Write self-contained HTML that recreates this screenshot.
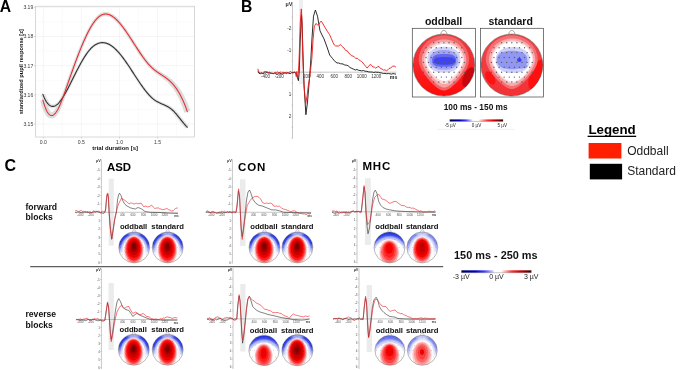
<!DOCTYPE html>
<html><head><meta charset="utf-8"><title>Figure</title>
<style>
html,body{margin:0;padding:0;background:#fff;}
body{width:685px;height:370px;overflow:hidden;}
svg{display:block;font-family:"Liberation Sans", sans-serif;will-change:transform;}
</style></head>
<body>
<svg width="685" height="370" viewBox="0 0 685 370">
<defs>
<linearGradient id="oddout" x1="0" x2="0" y1="0" y2="1"><stop offset="0" stop-color="#f03a3e"/><stop offset="0.45" stop-color="#f22a2e"/><stop offset="0.7" stop-color="#fc1616"/><stop offset="1" stop-color="#ff0c0c"/></linearGradient>
<linearGradient id="stdout" x1="0" x2="0" y1="0" y2="1"><stop offset="0" stop-color="#f04448"/><stop offset="0.5" stop-color="#f03c40"/><stop offset="1" stop-color="#f43034"/></linearGradient>
<clipPath id="hb1"><circle cx="443.90" cy="65.00" r="31.00"/></clipPath>
<clipPath id="hb2"><circle cx="511.80" cy="65.00" r="31.00"/></clipPath>
<linearGradient id="cb1" x1="0" x2="1" y1="0" y2="0"><stop offset="0" stop-color="#00004a"/><stop offset="0.18" stop-color="#0000b4"/><stop offset="0.3" stop-color="#3c3cff"/><stop offset="0.4" stop-color="#c8c8ff"/><stop offset="0.43" stop-color="#ffffff"/><stop offset="0.54" stop-color="#ffffff"/><stop offset="0.58" stop-color="#ffc8c8"/><stop offset="0.7" stop-color="#ff3c3c"/><stop offset="0.82" stop-color="#dc0000"/><stop offset="1" stop-color="#320000"/></linearGradient>
<filter id="bl" x="-20%" y="-20%" width="140%" height="140%"><feGaussianBlur stdDeviation="0.45"/></filter>
<filter id="bl2" x="-50%" y="-50%" width="200%" height="200%"><feGaussianBlur stdDeviation="1.6"/></filter>
<linearGradient id="fadeg" x1="0" x2="0" y1="0" y2="1"><stop offset="0" stop-color="#fff"/><stop offset="0.38" stop-color="#fff"/><stop offset="0.7" stop-color="#000"/></linearGradient>
<clipPath id="hc1"><circle cx="134.20" cy="247.40" r="15.50"/></clipPath>
<radialGradient id="bg1" gradientUnits="userSpaceOnUse" cx="134.20" cy="247.90" r="16.40"><stop offset="0.64" stop-color="#3040e0" stop-opacity="0"/><stop offset="0.73" stop-color="#9aa4f2" stop-opacity="0.7"/><stop offset="0.83" stop-color="#4252e8"/><stop offset="0.93" stop-color="#2232e0"/><stop offset="1" stop-color="#1a28d8"/></radialGradient>
<mask id="mk1" maskUnits="userSpaceOnUse" x="117.70" y="230.90" width="33.00" height="33.00"><rect x="117.70" y="230.90" width="33.00" height="33.00" fill="url(#fadeg)"/></mask>
<clipPath id="hc2"><circle cx="167.70" cy="247.40" r="15.50"/></clipPath>
<radialGradient id="bg2" gradientUnits="userSpaceOnUse" cx="167.70" cy="247.90" r="16.40"><stop offset="0.64" stop-color="#3040e0" stop-opacity="0"/><stop offset="0.73" stop-color="#9aa4f2" stop-opacity="0.7"/><stop offset="0.83" stop-color="#4252e8"/><stop offset="0.93" stop-color="#2232e0"/><stop offset="1" stop-color="#1a28d8"/></radialGradient>
<mask id="mk2" maskUnits="userSpaceOnUse" x="151.20" y="230.90" width="33.00" height="33.00"><rect x="151.20" y="230.90" width="33.00" height="33.00" fill="url(#fadeg)"/></mask>
<clipPath id="hc3"><circle cx="264.50" cy="247.40" r="15.50"/></clipPath>
<radialGradient id="bg3" gradientUnits="userSpaceOnUse" cx="264.50" cy="247.90" r="16.40"><stop offset="0.64" stop-color="#3040e0" stop-opacity="0"/><stop offset="0.73" stop-color="#9aa4f2" stop-opacity="0.7"/><stop offset="0.83" stop-color="#4252e8"/><stop offset="0.93" stop-color="#2232e0"/><stop offset="1" stop-color="#1a28d8"/></radialGradient>
<mask id="mk3" maskUnits="userSpaceOnUse" x="248.00" y="230.90" width="33.00" height="33.00"><rect x="248.00" y="230.90" width="33.00" height="33.00" fill="url(#fadeg)"/></mask>
<clipPath id="hc4"><circle cx="297.40" cy="247.40" r="15.50"/></clipPath>
<radialGradient id="bg4" gradientUnits="userSpaceOnUse" cx="297.40" cy="247.90" r="16.40"><stop offset="0.64" stop-color="#3040e0" stop-opacity="0"/><stop offset="0.73" stop-color="#9aa4f2" stop-opacity="0.7"/><stop offset="0.83" stop-color="#4252e8"/><stop offset="0.93" stop-color="#2232e0"/><stop offset="1" stop-color="#1a28d8"/></radialGradient>
<mask id="mk4" maskUnits="userSpaceOnUse" x="280.90" y="230.90" width="33.00" height="33.00"><rect x="280.90" y="230.90" width="33.00" height="33.00" fill="url(#fadeg)"/></mask>
<clipPath id="hc5"><circle cx="389.50" cy="247.40" r="15.50"/></clipPath>
<radialGradient id="bg5" gradientUnits="userSpaceOnUse" cx="389.50" cy="254.90" r="23.50"><stop offset="0.64" stop-color="#3040e0" stop-opacity="0"/><stop offset="0.73" stop-color="#9aa4f2" stop-opacity="0.7"/><stop offset="0.83" stop-color="#4252e8"/><stop offset="0.93" stop-color="#2232e0"/><stop offset="1" stop-color="#1a28d8"/></radialGradient>
<mask id="mk5" maskUnits="userSpaceOnUse" x="373.00" y="230.90" width="33.00" height="33.00"><rect x="373.00" y="230.90" width="33.00" height="33.00" fill="url(#fadeg)"/></mask>
<clipPath id="hc6"><circle cx="422.30" cy="247.40" r="15.50"/></clipPath>
<radialGradient id="bg6" gradientUnits="userSpaceOnUse" cx="422.30" cy="247.90" r="16.40"><stop offset="0.64" stop-color="#3040e0" stop-opacity="0"/><stop offset="0.73" stop-color="#9aa4f2" stop-opacity="0.7"/><stop offset="0.83" stop-color="#4252e8"/><stop offset="0.93" stop-color="#2232e0"/><stop offset="1" stop-color="#1a28d8"/></radialGradient>
<mask id="mk6" maskUnits="userSpaceOnUse" x="405.80" y="230.90" width="33.00" height="33.00"><rect x="405.80" y="230.90" width="33.00" height="33.00" fill="url(#fadeg)"/></mask>
<clipPath id="hc7"><circle cx="133.80" cy="349.70" r="15.50"/></clipPath>
<radialGradient id="bg7" gradientUnits="userSpaceOnUse" cx="133.80" cy="350.20" r="16.40"><stop offset="0.64" stop-color="#3040e0" stop-opacity="0"/><stop offset="0.73" stop-color="#9aa4f2" stop-opacity="0.7"/><stop offset="0.83" stop-color="#4252e8"/><stop offset="0.93" stop-color="#2232e0"/><stop offset="1" stop-color="#1a28d8"/></radialGradient>
<mask id="mk7" maskUnits="userSpaceOnUse" x="117.30" y="333.20" width="33.00" height="33.00"><rect x="117.30" y="333.20" width="33.00" height="33.00" fill="url(#fadeg)"/></mask>
<clipPath id="hc8"><circle cx="167.70" cy="349.70" r="15.50"/></clipPath>
<radialGradient id="bg8" gradientUnits="userSpaceOnUse" cx="167.70" cy="350.20" r="16.40"><stop offset="0.64" stop-color="#3040e0" stop-opacity="0"/><stop offset="0.73" stop-color="#9aa4f2" stop-opacity="0.7"/><stop offset="0.83" stop-color="#4252e8"/><stop offset="0.93" stop-color="#2232e0"/><stop offset="1" stop-color="#1a28d8"/></radialGradient>
<mask id="mk8" maskUnits="userSpaceOnUse" x="151.20" y="333.20" width="33.00" height="33.00"><rect x="151.20" y="333.20" width="33.00" height="33.00" fill="url(#fadeg)"/></mask>
<clipPath id="hc9"><circle cx="264.00" cy="350.40" r="15.20"/></clipPath>
<radialGradient id="bg9" gradientUnits="userSpaceOnUse" cx="264.00" cy="357.90" r="23.20"><stop offset="0.64" stop-color="#3040e0" stop-opacity="0"/><stop offset="0.73" stop-color="#9aa4f2" stop-opacity="0.7"/><stop offset="0.83" stop-color="#4252e8"/><stop offset="0.93" stop-color="#2232e0"/><stop offset="1" stop-color="#1a28d8"/></radialGradient>
<mask id="mk9" maskUnits="userSpaceOnUse" x="247.80" y="334.20" width="32.40" height="32.40"><rect x="247.80" y="334.20" width="32.40" height="32.40" fill="url(#fadeg)"/></mask>
<clipPath id="hc10"><circle cx="297.40" cy="350.20" r="15.60"/></clipPath>
<radialGradient id="bg10" gradientUnits="userSpaceOnUse" cx="297.40" cy="350.70" r="16.50"><stop offset="0.64" stop-color="#3040e0" stop-opacity="0"/><stop offset="0.73" stop-color="#9aa4f2" stop-opacity="0.7"/><stop offset="0.83" stop-color="#4252e8"/><stop offset="0.93" stop-color="#2232e0"/><stop offset="1" stop-color="#1a28d8"/></radialGradient>
<mask id="mk10" maskUnits="userSpaceOnUse" x="280.80" y="333.60" width="33.20" height="33.20"><rect x="280.80" y="333.60" width="33.20" height="33.20" fill="url(#fadeg)"/></mask>
<clipPath id="hc11"><circle cx="389.90" cy="350.30" r="15.00"/></clipPath>
<radialGradient id="bg11" gradientUnits="userSpaceOnUse" cx="389.90" cy="357.80" r="23.00"><stop offset="0.64" stop-color="#3040e0" stop-opacity="0"/><stop offset="0.73" stop-color="#9aa4f2" stop-opacity="0.7"/><stop offset="0.83" stop-color="#4252e8"/><stop offset="0.93" stop-color="#2232e0"/><stop offset="1" stop-color="#1a28d8"/></radialGradient>
<mask id="mk11" maskUnits="userSpaceOnUse" x="373.90" y="334.30" width="32.00" height="32.00"><rect x="373.90" y="334.30" width="32.00" height="32.00" fill="url(#fadeg)"/></mask>
<clipPath id="hc12"><circle cx="422.30" cy="350.30" r="15.00"/></clipPath>
<radialGradient id="bg12" gradientUnits="userSpaceOnUse" cx="422.30" cy="350.80" r="15.90"><stop offset="0.64" stop-color="#3040e0" stop-opacity="0"/><stop offset="0.73" stop-color="#9aa4f2" stop-opacity="0.7"/><stop offset="0.83" stop-color="#4252e8"/><stop offset="0.93" stop-color="#2232e0"/><stop offset="1" stop-color="#1a28d8"/></radialGradient>
<mask id="mk12" maskUnits="userSpaceOnUse" x="406.30" y="334.30" width="32.00" height="32.00"><rect x="406.30" y="334.30" width="32.00" height="32.00" fill="url(#fadeg)"/></mask>
<linearGradient id="cb2" x1="0" x2="1" y1="0" y2="0"><stop offset="0" stop-color="#00005a"/><stop offset="0.2" stop-color="#0000c8"/><stop offset="0.34" stop-color="#4a4aff"/><stop offset="0.45" stop-color="#c8c8ff"/><stop offset="0.47" stop-color="#ffffff"/><stop offset="0.57" stop-color="#ffffff"/><stop offset="0.6" stop-color="#ffd0d0"/><stop offset="0.72" stop-color="#ff3030"/><stop offset="0.84" stop-color="#d00000"/><stop offset="1" stop-color="#3c0000"/></linearGradient>
</defs>
<rect width="685" height="370" fill="#fff"/>
<text x="-0.20" y="11.70" font-size="15.70" font-weight="bold" text-anchor="start" fill="#000" >A</text>
<line x1="43.30" y1="6.30" x2="43.30" y2="137.00" stroke="#efefef" stroke-width="0.6"/>
<line x1="62.35" y1="6.30" x2="62.35" y2="137.00" stroke="#f6f6f6" stroke-width="0.6"/>
<line x1="81.40" y1="6.30" x2="81.40" y2="137.00" stroke="#efefef" stroke-width="0.6"/>
<line x1="100.45" y1="6.30" x2="100.45" y2="137.00" stroke="#f6f6f6" stroke-width="0.6"/>
<line x1="119.50" y1="6.30" x2="119.50" y2="137.00" stroke="#efefef" stroke-width="0.6"/>
<line x1="138.55" y1="6.30" x2="138.55" y2="137.00" stroke="#f6f6f6" stroke-width="0.6"/>
<line x1="157.60" y1="6.30" x2="157.60" y2="137.00" stroke="#efefef" stroke-width="0.6"/>
<line x1="176.65" y1="6.30" x2="176.65" y2="137.00" stroke="#f6f6f6" stroke-width="0.6"/>
<line x1="35.60" y1="7.30" x2="194.50" y2="7.30" stroke="#efefef" stroke-width="0.6"/>
<line x1="35.60" y1="21.90" x2="194.50" y2="21.90" stroke="#f6f6f6" stroke-width="0.6"/>
<line x1="35.60" y1="36.50" x2="194.50" y2="36.50" stroke="#efefef" stroke-width="0.6"/>
<line x1="35.60" y1="51.10" x2="194.50" y2="51.10" stroke="#f6f6f6" stroke-width="0.6"/>
<line x1="35.60" y1="65.70" x2="194.50" y2="65.70" stroke="#efefef" stroke-width="0.6"/>
<line x1="35.60" y1="80.30" x2="194.50" y2="80.30" stroke="#f6f6f6" stroke-width="0.6"/>
<line x1="35.60" y1="94.90" x2="194.50" y2="94.90" stroke="#efefef" stroke-width="0.6"/>
<line x1="35.60" y1="109.50" x2="194.50" y2="109.50" stroke="#f6f6f6" stroke-width="0.6"/>
<line x1="35.60" y1="124.10" x2="194.50" y2="124.10" stroke="#efefef" stroke-width="0.6"/>
<rect x="35.60" y="6.30" width="158.90" height="130.70" fill="none" stroke="#d4d4d4" stroke-width="0.9"/>
<line x1="34.00" y1="7.30" x2="35.60" y2="7.30" stroke="#bbb" stroke-width="0.6"/>
<text x="33.30" y="9.15" font-size="5.10" font-weight="normal" text-anchor="end" fill="#3a3a3a" >3.19</text>
<line x1="34.00" y1="36.50" x2="35.60" y2="36.50" stroke="#bbb" stroke-width="0.6"/>
<text x="33.30" y="38.35" font-size="5.10" font-weight="normal" text-anchor="end" fill="#3a3a3a" >3.18</text>
<line x1="34.00" y1="65.70" x2="35.60" y2="65.70" stroke="#bbb" stroke-width="0.6"/>
<text x="33.30" y="67.55" font-size="5.10" font-weight="normal" text-anchor="end" fill="#3a3a3a" >3.17</text>
<line x1="34.00" y1="94.90" x2="35.60" y2="94.90" stroke="#bbb" stroke-width="0.6"/>
<text x="33.30" y="96.75" font-size="5.10" font-weight="normal" text-anchor="end" fill="#3a3a3a" >3.16</text>
<line x1="34.00" y1="124.10" x2="35.60" y2="124.10" stroke="#bbb" stroke-width="0.6"/>
<text x="33.30" y="125.95" font-size="5.10" font-weight="normal" text-anchor="end" fill="#3a3a3a" >3.15</text>
<line x1="43.30" y1="137.00" x2="43.30" y2="138.60" stroke="#bbb" stroke-width="0.6"/>
<text x="43.30" y="143.80" font-size="5.10" font-weight="normal" text-anchor="middle" fill="#3a3a3a" >0.0</text>
<line x1="81.40" y1="137.00" x2="81.40" y2="138.60" stroke="#bbb" stroke-width="0.6"/>
<text x="81.40" y="143.80" font-size="5.10" font-weight="normal" text-anchor="middle" fill="#3a3a3a" >0.5</text>
<line x1="119.50" y1="137.00" x2="119.50" y2="138.60" stroke="#bbb" stroke-width="0.6"/>
<text x="119.50" y="143.80" font-size="5.10" font-weight="normal" text-anchor="middle" fill="#3a3a3a" >1.0</text>
<line x1="157.60" y1="137.00" x2="157.60" y2="138.60" stroke="#bbb" stroke-width="0.6"/>
<text x="157.60" y="143.80" font-size="5.10" font-weight="normal" text-anchor="middle" fill="#3a3a3a" >1.5</text>
<text x="115.20" y="149.50" font-size="6.00" font-weight="bold" text-anchor="middle" fill="#111" >trial duration [s]</text>
<text x="0" y="0" font-size="5.7" font-weight="bold" text-anchor="middle" fill="#111" transform="translate(23.0,71.7) rotate(-90)">standardized pupil response [z]</text>
<path d="M40.20,100.77 L40.69,102.61 L41.19,104.36 L41.69,105.99 L42.19,107.52 L42.70,108.93 L43.21,110.25 L43.74,111.46 L44.28,112.58 L44.84,113.61 L45.42,114.56 L46.04,115.42 L46.70,116.21 L47.42,116.92 L48.21,117.54 L49.12,118.01 L50.10,118.34 L51.13,118.49 L52.16,118.46 L53.15,118.25 L54.06,117.90 L54.88,117.44 L55.62,116.89 L56.30,116.27 L56.93,115.60 L57.52,114.87 L58.08,114.08 L58.62,113.24 L59.13,112.34 L59.63,111.40 L60.11,110.40 L60.60,109.36 L61.07,108.28 L61.55,107.15 L62.02,105.98 L62.48,104.77 L62.95,103.52 L63.41,102.24 L63.87,100.93 L64.33,99.60 L64.78,98.23 L65.24,96.85 L65.70,95.45 L66.15,94.03 L66.61,92.59 L67.06,91.15 L67.51,89.70 L68.00,88.26 L68.50,86.82 L69.00,85.38 L69.50,83.95 L70.00,82.51 L70.49,81.08 L70.99,79.65 L71.49,78.23 L71.99,76.80 L72.48,75.39 L72.98,73.98 L73.48,72.57 L73.98,71.17 L74.47,69.77 L74.97,68.39 L75.47,67.00 L75.96,65.63 L76.46,64.27 L76.96,62.91 L77.45,61.56 L77.95,60.23 L78.45,58.90 L78.94,57.58 L79.44,56.28 L79.94,54.98 L80.43,53.70 L80.93,52.43 L81.43,51.17 L81.92,49.93 L82.42,48.70 L82.91,47.49 L83.41,46.29 L83.90,45.10 L84.40,43.93 L84.89,42.78 L85.39,41.65 L85.88,40.53 L86.38,39.43 L86.87,38.35 L87.36,37.28 L87.86,36.24 L88.35,35.22 L88.84,34.21 L89.33,33.23 L89.83,32.27 L90.32,31.33 L90.81,30.41 L91.30,29.52 L91.80,28.66 L92.30,27.82 L92.81,27.01 L93.31,26.22 L93.81,25.46 L94.31,24.73 L94.81,24.02 L95.31,23.34 L95.80,22.69 L96.29,22.07 L96.78,21.48 L97.27,20.91 L97.75,20.38 L98.23,19.88 L98.71,19.41 L99.18,18.98 L99.65,18.57 L100.11,18.20 L100.56,17.86 L101.00,17.56 L101.44,17.29 L101.87,17.05 L102.29,16.84 L102.71,16.67 L103.11,16.52 L103.51,16.39 L103.91,16.30 L104.30,16.23 L104.69,16.18 L105.07,16.15 L105.46,16.13 L105.84,16.12 L106.23,16.13 L106.62,16.16 L107.02,16.22 L107.42,16.29 L107.83,16.39 L108.25,16.51 L108.67,16.65 L109.10,16.82 L109.54,17.01 L109.98,17.22 L110.42,17.45 L110.87,17.71 L111.33,17.99 L111.79,18.29 L112.25,18.61 L112.72,18.95 L113.19,19.31 L113.66,19.70 L114.14,20.10 L114.62,20.53 L115.10,20.97 L115.59,21.43 L116.07,21.91 L116.56,22.40 L117.05,22.91 L117.54,23.44 L118.03,23.99 L118.53,24.55 L119.02,25.12 L119.52,25.71 L120.01,26.31 L120.51,26.93 L121.01,27.55 L121.51,28.19 L122.01,28.84 L122.51,29.51 L123.01,30.18 L123.51,30.86 L124.01,31.56 L124.50,32.27 L125.00,32.98 L125.49,33.71 L125.98,34.44 L126.48,35.17 L126.97,35.92 L127.47,36.67 L127.96,37.42 L128.46,38.18 L128.96,38.95 L129.45,39.72 L129.95,40.49 L130.45,41.26 L130.95,42.04 L131.44,42.82 L131.94,43.60 L132.44,44.38 L132.94,45.16 L133.44,45.94 L133.94,46.72 L134.43,47.50 L134.93,48.28 L135.43,49.06 L135.93,49.83 L136.43,50.60 L136.94,51.37 L137.44,52.13 L137.94,52.89 L138.44,53.64 L138.94,54.39 L139.44,55.13 L139.95,55.87 L140.45,56.59 L140.95,57.32 L141.46,58.03 L141.96,58.74 L142.47,59.43 L142.97,60.12 L143.48,60.80 L143.99,61.47 L144.50,62.12 L145.00,62.77 L145.51,63.40 L146.02,64.03 L146.54,64.64 L147.05,65.23 L147.56,65.82 L148.08,66.39 L148.59,66.94 L149.10,67.49 L149.61,68.03 L150.12,68.55 L150.63,69.06 L151.14,69.55 L151.65,70.02 L152.16,70.48 L152.67,70.93 L153.18,71.36 L153.69,71.79 L154.20,72.20 L154.71,72.60 L155.21,73.00 L155.72,73.38 L156.22,73.76 L156.73,74.13 L157.23,74.49 L157.73,74.85 L158.23,75.21 L158.72,75.56 L159.22,75.90 L159.71,76.25 L160.20,76.59 L160.69,76.93 L161.17,77.28 L161.66,77.62 L162.14,77.96 L162.62,78.31 L163.10,78.66 L163.57,79.02 L164.04,79.38 L164.51,79.74 L164.98,80.12 L165.45,80.50 L165.91,80.89 L166.38,81.28 L166.84,81.69 L167.30,82.11 L167.76,82.53 L168.21,82.97 L168.67,83.43 L169.13,83.89 L169.58,84.38 L170.04,84.87 L170.49,85.38 L170.95,85.91 L171.40,86.46 L171.86,87.03 L172.32,87.62 L172.77,88.23 L173.23,88.86 L173.68,89.51 L174.14,90.19 L174.60,90.89 L175.06,91.62 L175.51,92.37 L175.97,93.15 L176.43,93.96 L176.89,94.80 L177.36,95.67 L177.82,96.56 L178.28,97.50 L178.74,98.46 L179.21,99.45 L179.67,100.49 L180.14,101.55 L180.61,102.65 L181.07,103.79 L181.54,104.97 L182.01,106.18 L182.48,107.44 L182.95,108.73 L183.42,110.06 L183.89,111.44 L184.38,112.87 L190.42,110.77 L189.91,109.32 L189.38,107.90 L188.85,106.52 L188.32,105.18 L187.79,103.88 L187.26,102.62 L186.73,101.40 L186.19,100.21 L185.66,99.06 L185.13,97.94 L184.59,96.86 L184.06,95.82 L183.52,94.80 L182.98,93.82 L182.44,92.87 L181.91,91.95 L181.37,91.06 L180.83,90.20 L180.29,89.36 L179.74,88.56 L179.20,87.78 L178.66,87.03 L178.12,86.30 L177.57,85.60 L177.03,84.92 L176.48,84.26 L175.94,83.63 L175.40,83.02 L174.85,82.43 L174.31,81.86 L173.76,81.31 L173.22,80.78 L172.67,80.27 L172.13,79.77 L171.59,79.29 L171.04,78.83 L170.50,78.39 L169.96,77.95 L169.42,77.54 L168.89,77.13 L168.35,76.74 L167.82,76.35 L167.29,75.98 L166.76,75.62 L166.23,75.27 L165.70,74.92 L165.18,74.58 L164.66,74.24 L164.14,73.92 L163.63,73.59 L163.11,73.27 L162.60,72.95 L162.09,72.64 L161.58,72.32 L161.08,72.01 L160.57,71.69 L160.07,71.37 L159.57,71.06 L159.07,70.73 L158.58,70.41 L158.08,70.08 L157.59,69.74 L157.09,69.40 L156.60,69.05 L156.11,68.69 L155.62,68.33 L155.13,67.95 L154.64,67.56 L154.15,67.16 L153.66,66.75 L153.17,66.33 L152.68,65.89 L152.19,65.43 L151.70,64.96 L151.21,64.47 L150.72,63.95 L150.24,63.42 L149.75,62.88 L149.26,62.31 L148.78,61.74 L148.29,61.14 L147.80,60.54 L147.30,59.92 L146.81,59.29 L146.32,58.65 L145.83,58.00 L145.33,57.33 L144.84,56.66 L144.34,55.97 L143.85,55.28 L143.35,54.57 L142.85,53.86 L142.36,53.14 L141.86,52.41 L141.36,51.68 L140.86,50.94 L140.36,50.19 L139.86,49.44 L139.37,48.68 L138.87,47.92 L138.37,47.15 L137.87,46.38 L137.37,45.61 L136.86,44.84 L136.36,44.06 L135.86,43.28 L135.36,42.51 L134.86,41.73 L134.36,40.95 L133.85,40.17 L133.35,39.39 L132.85,38.62 L132.35,37.84 L131.84,37.07 L131.34,36.30 L130.84,35.54 L130.33,34.78 L129.83,34.02 L129.32,33.27 L128.82,32.52 L128.31,31.78 L127.80,31.05 L127.30,30.32 L126.79,29.60 L126.29,28.88 L125.79,28.17 L125.29,27.47 L124.79,26.78 L124.29,26.09 L123.79,25.42 L123.29,24.76 L122.79,24.10 L122.28,23.46 L121.78,22.83 L121.27,22.21 L120.77,21.61 L120.26,21.02 L119.75,20.44 L119.24,19.87 L118.73,19.32 L118.21,18.79 L117.70,18.27 L117.18,17.77 L116.66,17.28 L116.14,16.81 L115.61,16.36 L115.08,15.92 L114.55,15.50 L114.01,15.10 L113.47,14.73 L112.93,14.37 L112.38,14.03 L111.82,13.71 L111.26,13.42 L110.70,13.15 L110.13,12.90 L109.55,12.68 L108.97,12.49 L108.38,12.32 L107.78,12.18 L107.18,12.07 L106.57,12.00 L105.96,11.95 L105.34,11.94 L104.73,11.97 L104.11,12.06 L103.50,12.18 L102.89,12.33 L102.29,12.52 L101.69,12.75 L101.09,13.01 L100.51,13.31 L99.93,13.64 L99.36,14.00 L98.80,14.39 L98.24,14.82 L97.69,15.27 L97.15,15.76 L96.62,16.27 L96.09,16.81 L95.57,17.38 L95.05,17.97 L94.53,18.59 L94.02,19.24 L93.51,19.91 L93.00,20.61 L92.49,21.33 L91.99,22.08 L91.49,22.85 L90.99,23.64 L90.49,24.46 L89.99,25.30 L89.50,26.17 L89.00,27.05 L88.50,27.96 L87.99,28.88 L87.48,29.83 L86.97,30.79 L86.47,31.77 L85.96,32.78 L85.45,33.80 L84.94,34.85 L84.44,35.91 L83.93,36.99 L83.42,38.09 L82.92,39.20 L82.41,40.34 L81.91,41.49 L81.40,42.65 L80.90,43.83 L80.39,45.03 L79.89,46.24 L79.38,47.47 L78.88,48.71 L78.37,49.96 L77.87,51.22 L77.37,52.50 L76.86,53.79 L76.36,55.09 L75.86,56.41 L75.35,57.73 L74.85,59.06 L74.35,60.41 L73.84,61.76 L73.34,63.12 L72.84,64.49 L72.33,65.87 L71.83,67.25 L71.33,68.64 L70.82,70.04 L70.32,71.45 L69.82,72.85 L69.32,74.27 L68.81,75.69 L68.31,77.11 L67.81,78.54 L67.31,79.97 L66.80,81.40 L66.30,82.83 L65.80,84.27 L65.30,85.70 L64.80,87.14 L64.29,88.57 L63.74,89.98 L63.19,91.39 L62.65,92.78 L62.10,94.15 L61.56,95.50 L61.02,96.83 L60.47,98.14 L59.93,99.41 L59.39,100.65 L58.85,101.85 L58.32,103.01 L57.78,104.12 L57.25,105.19 L56.73,106.20 L56.20,107.15 L55.69,108.04 L55.17,108.87 L54.67,109.62 L54.18,110.29 L53.72,110.89 L53.28,111.40 L52.87,111.82 L52.50,112.14 L52.18,112.37 L51.92,112.51 L51.74,112.56 L51.65,112.56 L51.64,112.53 L51.67,112.50 L51.70,112.47 L51.68,112.43 L51.59,112.35 L51.38,112.22 L51.10,111.99 L50.76,111.63 L50.38,111.15 L49.96,110.53 L49.52,109.79 L49.06,108.93 L48.59,107.93 L48.10,106.81 L47.61,105.56 L47.11,104.19 L46.61,102.69 L46.11,101.06 L45.60,99.28 Z" fill="#d6d6d6" opacity="0.85"/>
<path d="M40.76,95.22 L41.28,96.51 L41.82,97.75 L42.37,98.92 L42.91,100.01 L43.46,101.02 L44.02,101.97 L44.58,102.85 L45.15,103.67 L45.73,104.42 L46.32,105.10 L46.92,105.73 L47.54,106.29 L48.17,106.78 L48.82,107.21 L49.48,107.57 L50.17,107.87 L50.86,108.09 L51.57,108.23 L52.28,108.29 L52.98,108.28 L53.67,108.19 L54.34,108.04 L55.00,107.83 L55.63,107.56 L56.24,107.24 L56.83,106.87 L57.41,106.46 L57.97,106.01 L58.52,105.53 L59.06,105.00 L59.59,104.45 L60.12,103.86 L60.64,103.24 L61.15,102.59 L61.67,101.92 L62.18,101.22 L62.70,100.49 L63.21,99.74 L63.72,98.96 L64.23,98.16 L64.73,97.34 L65.24,96.49 L65.74,95.63 L66.25,94.74 L66.75,93.84 L67.25,92.93 L67.75,91.99 L68.25,91.05 L68.75,90.09 L69.25,89.13 L69.75,88.15 L70.25,87.17 L70.74,86.17 L71.24,85.18 L71.74,84.18 L72.23,83.18 L72.73,82.17 L73.22,81.17 L73.72,80.17 L74.22,79.16 L74.71,78.16 L75.21,77.16 L75.70,76.17 L76.20,75.17 L76.69,74.18 L77.18,73.20 L77.68,72.22 L78.17,71.25 L78.67,70.28 L79.16,69.32 L79.65,68.37 L80.15,67.43 L80.64,66.50 L81.13,65.58 L81.63,64.67 L82.12,63.77 L82.62,62.89 L83.11,62.02 L83.61,61.16 L84.10,60.32 L84.60,59.50 L85.09,58.68 L85.59,57.89 L86.08,57.12 L86.57,56.36 L87.06,55.62 L87.55,54.90 L88.04,54.20 L88.53,53.52 L89.02,52.87 L89.50,52.23 L89.99,51.63 L90.47,51.04 L90.95,50.48 L91.43,49.94 L91.91,49.43 L92.39,48.95 L92.86,48.49 L93.33,48.06 L93.80,47.65 L94.27,47.26 L94.74,46.90 L95.21,46.56 L95.67,46.24 L96.13,45.95 L96.59,45.68 L97.05,45.43 L97.50,45.21 L97.95,45.00 L98.40,44.82 L98.85,44.65 L99.30,44.51 L99.75,44.39 L100.19,44.28 L100.63,44.20 L101.08,44.13 L101.52,44.09 L101.96,44.06 L102.40,44.05 L102.85,44.06 L103.29,44.08 L103.73,44.13 L104.18,44.19 L104.63,44.27 L105.08,44.37 L105.53,44.48 L105.98,44.62 L106.43,44.77 L106.89,44.94 L107.35,45.13 L107.81,45.33 L108.27,45.56 L108.74,45.80 L109.20,46.06 L109.67,46.33 L110.14,46.63 L110.61,46.94 L111.09,47.27 L111.56,47.61 L112.04,47.98 L112.52,48.36 L113.00,48.76 L113.48,49.17 L113.96,49.60 L114.44,50.05 L114.92,50.51 L115.41,50.99 L115.89,51.49 L116.38,52.00 L116.87,52.53 L117.35,53.07 L117.84,53.63 L118.33,54.20 L118.82,54.78 L119.31,55.38 L119.80,55.99 L120.29,56.61 L120.78,57.25 L121.28,57.89 L121.77,58.55 L122.26,59.22 L122.75,59.89 L123.25,60.58 L123.74,61.27 L124.23,61.98 L124.73,62.69 L125.22,63.41 L125.72,64.13 L126.21,64.86 L126.71,65.60 L127.20,66.34 L127.70,67.09 L128.19,67.84 L128.69,68.60 L129.19,69.36 L129.68,70.12 L130.18,70.88 L130.68,71.65 L131.17,72.42 L131.67,73.19 L132.17,73.96 L132.67,74.74 L133.17,75.51 L133.66,76.28 L134.16,77.05 L134.66,77.82 L135.16,78.58 L135.66,79.35 L136.16,80.11 L136.66,80.87 L137.16,81.62 L137.66,82.37 L138.16,83.12 L138.66,83.86 L139.16,84.60 L139.66,85.33 L140.17,86.05 L140.67,86.76 L141.17,87.47 L141.68,88.17 L142.18,88.87 L142.68,89.55 L143.19,90.22 L143.69,90.89 L144.20,91.54 L144.70,92.19 L145.21,92.82 L145.72,93.45 L146.23,94.06 L146.74,94.66 L147.25,95.24 L147.76,95.81 L148.27,96.37 L148.78,96.92 L149.30,97.45 L149.81,97.97 L150.33,98.47 L150.85,98.95 L151.37,99.42 L151.89,99.88 L152.42,100.31 L152.94,100.73 L153.47,101.13 L154.00,101.51 L154.53,101.87 L155.06,102.21 L155.58,102.54 L156.11,102.85 L156.63,103.15 L157.16,103.44 L157.68,103.71 L158.19,103.97 L158.71,104.23 L159.22,104.47 L159.73,104.72 L160.24,104.96 L160.74,105.19 L161.24,105.42 L161.74,105.65 L162.23,105.88 L162.72,106.11 L163.21,106.34 L163.70,106.57 L164.18,106.80 L164.66,107.04 L165.13,107.28 L165.61,107.53 L166.08,107.79 L166.55,108.06 L167.01,108.33 L167.48,108.62 L167.94,108.91 L168.40,109.23 L168.86,109.55 L169.32,109.89 L169.78,110.25 L170.24,110.62 L170.69,111.01 L171.15,111.43 L171.61,111.86 L172.07,112.32 L172.54,112.80 L173.00,113.31 L173.48,113.83 L173.95,114.37 L174.43,114.93 L174.90,115.50 L175.38,116.09 L175.87,116.69 L176.35,117.30 L176.83,117.92 L177.32,118.54 L177.81,119.17 L178.30,119.81 L178.79,120.45 L179.28,121.09 L179.77,121.73 L180.27,122.37 L180.77,123.01 L181.26,123.64 L181.76,124.27 L182.27,124.89 L182.77,125.51 L183.28,126.11 L183.79,126.70 L184.30,127.29 L184.82,127.85 L185.33,128.40 L185.74,128.82 L188.86,125.71 L188.47,125.32 L187.98,124.84 L187.50,124.34 L187.01,123.82 L186.52,123.28 L186.03,122.72 L185.53,122.16 L185.04,121.57 L184.54,120.98 L184.03,120.38 L183.53,119.77 L183.03,119.15 L182.52,118.53 L182.01,117.90 L181.50,117.28 L180.99,116.65 L180.48,116.02 L179.97,115.40 L179.45,114.78 L178.93,114.16 L178.42,113.56 L177.90,112.96 L177.37,112.37 L176.85,111.79 L176.32,111.22 L175.80,110.67 L175.26,110.13 L174.73,109.61 L174.19,109.11 L173.65,108.63 L173.11,108.17 L172.56,107.74 L172.02,107.32 L171.48,106.93 L170.94,106.56 L170.40,106.21 L169.86,105.87 L169.32,105.56 L168.79,105.25 L168.25,104.97 L167.72,104.69 L167.19,104.43 L166.67,104.18 L166.14,103.94 L165.62,103.70 L165.10,103.48 L164.59,103.26 L164.08,103.04 L163.57,102.83 L163.06,102.62 L162.56,102.42 L162.06,102.21 L161.56,102.00 L161.07,101.79 L160.58,101.57 L160.09,101.35 L159.61,101.11 L159.12,100.88 L158.64,100.63 L158.17,100.37 L157.69,100.11 L157.22,99.83 L156.74,99.54 L156.27,99.24 L155.80,98.92 L155.33,98.59 L154.86,98.24 L154.38,97.87 L153.91,97.48 L153.43,97.07 L152.95,96.65 L152.47,96.21 L151.99,95.74 L151.50,95.27 L151.02,94.77 L150.53,94.26 L150.04,93.74 L149.55,93.20 L149.06,92.64 L148.57,92.07 L148.08,91.49 L147.59,90.89 L147.10,90.28 L146.60,89.66 L146.11,89.03 L145.61,88.39 L145.12,87.73 L144.62,87.07 L144.12,86.39 L143.63,85.71 L143.13,85.02 L142.63,84.32 L142.14,83.61 L141.64,82.89 L141.14,82.17 L140.64,81.44 L140.14,80.71 L139.64,79.97 L139.14,79.22 L138.64,78.47 L138.14,77.72 L137.64,76.96 L137.14,76.20 L136.64,75.44 L136.14,74.67 L135.63,73.90 L135.13,73.14 L134.63,72.37 L134.13,71.60 L133.63,70.83 L133.12,70.06 L132.62,69.29 L132.12,68.53 L131.61,67.76 L131.11,67.00 L130.61,66.24 L130.10,65.49 L129.60,64.74 L129.09,63.99 L128.59,63.25 L128.08,62.51 L127.58,61.78 L127.07,61.05 L126.57,60.34 L126.06,59.62 L125.55,58.92 L125.05,58.22 L124.54,57.53 L124.03,56.86 L123.52,56.19 L123.02,55.53 L122.51,54.88 L122.00,54.24 L121.49,53.61 L120.98,52.99 L120.47,52.38 L119.96,51.79 L119.45,51.21 L118.93,50.64 L118.42,50.09 L117.91,49.55 L117.39,49.02 L116.88,48.51 L116.36,48.01 L115.84,47.53 L115.32,47.07 L114.80,46.62 L114.28,46.19 L113.76,45.77 L113.24,45.37 L112.71,44.99 L112.19,44.62 L111.66,44.27 L111.13,43.94 L110.60,43.63 L110.06,43.33 L109.53,43.05 L108.99,42.79 L108.45,42.55 L107.91,42.33 L107.37,42.13 L106.82,41.95 L106.27,41.78 L105.72,41.64 L105.17,41.52 L104.62,41.42 L104.07,41.35 L103.51,41.29 L102.95,41.26 L102.40,41.25 L101.84,41.26 L101.28,41.30 L100.72,41.36 L100.17,41.44 L99.61,41.54 L99.05,41.67 L98.50,41.83 L97.95,42.00 L97.40,42.20 L96.85,42.43 L96.30,42.68 L95.75,42.95 L95.21,43.24 L94.67,43.56 L94.13,43.90 L93.59,44.27 L93.06,44.66 L92.53,45.07 L92.00,45.51 L91.47,45.97 L90.94,46.45 L90.41,46.96 L89.89,47.50 L89.37,48.05 L88.85,48.63 L88.33,49.24 L87.81,49.86 L87.30,50.51 L86.78,51.18 L86.27,51.87 L85.76,52.58 L85.25,53.31 L84.74,54.05 L84.23,54.82 L83.72,55.60 L83.21,56.40 L82.71,57.22 L82.20,58.05 L81.70,58.89 L81.19,59.75 L80.69,60.63 L80.18,61.51 L79.68,62.41 L79.17,63.32 L78.67,64.24 L78.16,65.17 L77.65,66.11 L77.15,67.05 L76.64,68.01 L76.13,68.97 L75.63,69.94 L75.12,70.91 L74.62,71.89 L74.11,72.88 L73.60,73.87 L73.10,74.86 L72.59,75.85 L72.09,76.85 L71.58,77.85 L71.08,78.85 L70.58,79.85 L70.07,80.85 L69.57,81.84 L69.06,82.84 L68.56,83.83 L68.06,84.81 L67.55,85.79 L67.05,86.76 L66.55,87.72 L66.05,88.67 L65.55,89.61 L65.05,90.54 L64.55,91.44 L64.05,92.34 L63.55,93.21 L63.06,94.06 L62.56,94.89 L62.07,95.70 L61.57,96.48 L61.08,97.24 L60.59,97.97 L60.10,98.67 L59.62,99.34 L59.13,99.98 L58.65,100.58 L58.16,101.13 L57.68,101.65 L57.21,102.13 L56.74,102.57 L56.28,102.96 L55.83,103.31 L55.39,103.62 L54.97,103.88 L54.56,104.09 L54.17,104.26 L53.80,104.38 L53.46,104.46 L53.13,104.51 L52.82,104.52 L52.52,104.49 L52.23,104.44 L51.94,104.35 L51.63,104.22 L51.32,104.06 L50.98,103.84 L50.63,103.56 L50.26,103.23 L49.88,102.83 L49.48,102.37 L49.07,101.83 L48.65,101.22 L48.22,100.54 L47.78,99.78 L47.34,98.94 L46.89,98.03 L46.43,97.03 L45.98,95.96 L45.52,94.80 L45.04,93.54 Z" fill="#dedede" opacity="0.85"/>
<path d="M42.90,94.38 L43.40,95.66 L43.90,96.86 L44.40,97.98 L44.90,99.02 L45.40,99.98 L45.90,100.88 L46.40,101.70 L46.90,102.45 L47.40,103.13 L47.90,103.74 L48.40,104.28 L48.90,104.76 L49.40,105.17 L49.90,105.52 L50.40,105.81 L50.90,106.05 L51.40,106.22 L51.90,106.33 L52.40,106.39 L52.90,106.40 L53.40,106.35 L53.90,106.25 L54.40,106.10 L54.90,105.91 L55.40,105.66 L55.90,105.37 L56.40,105.04 L56.90,104.66 L57.40,104.24 L57.90,103.79 L58.40,103.29 L58.90,102.76 L59.40,102.19 L59.90,101.58 L60.40,100.95 L60.90,100.28 L61.40,99.58 L61.90,98.85 L62.40,98.10 L62.90,97.32 L63.40,96.52 L63.90,95.69 L64.40,94.84 L64.90,93.98 L65.40,93.09 L65.90,92.19 L66.40,91.27 L66.90,90.33 L67.40,89.38 L67.90,88.43 L68.40,87.46 L68.90,86.48 L69.40,85.49 L69.90,84.50 L70.40,83.51 L70.90,82.51 L71.40,81.51 L71.90,80.51 L72.40,79.51 L72.90,78.51 L73.40,77.51 L73.90,76.51 L74.40,75.51 L74.90,74.52 L75.40,73.53 L75.90,72.55 L76.40,71.57 L76.90,70.59 L77.40,69.62 L77.90,68.66 L78.40,67.71 L78.90,66.77 L79.40,65.83 L79.90,64.91 L80.40,64.00 L80.90,63.09 L81.40,62.20 L81.90,61.32 L82.40,60.46 L82.90,59.61 L83.40,58.77 L83.90,57.95 L84.40,57.15 L84.90,56.36 L85.40,55.59 L85.90,54.84 L86.40,54.10 L86.90,53.39 L87.40,52.70 L87.90,52.02 L88.40,51.37 L88.90,50.74 L89.40,50.14 L89.90,49.56 L90.40,49.00 L90.90,48.47 L91.40,47.96 L91.90,47.47 L92.40,47.01 L92.90,46.58 L93.40,46.17 L93.90,45.78 L94.40,45.41 L94.90,45.07 L95.40,44.76 L95.90,44.46 L96.40,44.19 L96.90,43.94 L97.40,43.71 L97.90,43.51 L98.40,43.33 L98.90,43.17 L99.40,43.03 L99.90,42.91 L100.40,42.82 L100.90,42.74 L101.40,42.69 L101.90,42.66 L102.40,42.65 L102.90,42.66 L103.40,42.69 L103.90,42.74 L104.40,42.81 L104.90,42.90 L105.40,43.01 L105.90,43.13 L106.40,43.28 L106.90,43.45 L107.40,43.63 L107.90,43.84 L108.40,44.06 L108.90,44.30 L109.40,44.56 L109.90,44.84 L110.40,45.14 L110.90,45.45 L111.40,45.78 L111.90,46.13 L112.40,46.49 L112.90,46.87 L113.40,47.27 L113.90,47.69 L114.40,48.12 L114.90,48.57 L115.40,49.03 L115.90,49.51 L116.40,50.01 L116.90,50.52 L117.40,51.04 L117.90,51.58 L118.40,52.14 L118.90,52.71 L119.40,53.29 L119.90,53.89 L120.40,54.49 L120.90,55.11 L121.40,55.74 L121.90,56.39 L122.40,57.04 L122.90,57.70 L123.40,58.38 L123.90,59.06 L124.40,59.75 L124.90,60.45 L125.40,61.16 L125.90,61.87 L126.40,62.59 L126.90,63.32 L127.40,64.05 L127.90,64.79 L128.40,65.54 L128.90,66.29 L129.40,67.04 L129.90,67.80 L130.40,68.56 L130.90,69.32 L131.40,70.09 L131.90,70.86 L132.40,71.62 L132.90,72.39 L133.40,73.17 L133.90,73.94 L134.40,74.71 L134.90,75.47 L135.40,76.24 L135.90,77.01 L136.40,77.77 L136.90,78.53 L137.40,79.29 L137.90,80.04 L138.40,80.79 L138.90,81.54 L139.40,82.28 L139.90,83.02 L140.40,83.74 L140.90,84.47 L141.40,85.18 L141.90,85.89 L142.40,86.59 L142.90,87.28 L143.40,87.97 L143.90,88.64 L144.40,89.30 L144.90,89.96 L145.40,90.60 L145.90,91.24 L146.40,91.86 L146.90,92.47 L147.40,93.06 L147.90,93.65 L148.40,94.22 L148.90,94.78 L149.40,95.32 L149.90,95.85 L150.40,96.36 L150.90,96.86 L151.40,97.34 L151.90,97.80 L152.40,98.25 L152.90,98.68 L153.40,99.09 L153.90,99.48 L154.40,99.86 L154.90,100.22 L155.40,100.56 L155.90,100.88 L156.40,101.19 L156.90,101.48 L157.40,101.76 L157.90,102.03 L158.40,102.29 L158.90,102.54 L159.40,102.79 L159.90,103.02 L160.40,103.25 L160.90,103.48 L161.40,103.70 L161.90,103.92 L162.40,104.14 L162.90,104.36 L163.40,104.58 L163.90,104.80 L164.40,105.02 L164.90,105.25 L165.40,105.49 L165.90,105.73 L166.40,105.98 L166.90,106.24 L167.40,106.51 L167.90,106.79 L168.40,107.09 L168.90,107.39 L169.40,107.72 L169.90,108.05 L170.40,108.41 L170.90,108.78 L171.40,109.18 L171.90,109.59 L172.40,110.03 L172.90,110.49 L173.40,110.97 L173.90,111.47 L174.40,111.99 L174.90,112.53 L175.40,113.08 L175.90,113.65 L176.40,114.23 L176.90,114.82 L177.40,115.43 L177.90,116.04 L178.40,116.66 L178.90,117.28 L179.40,117.91 L179.90,118.54 L180.40,119.18 L180.90,119.81 L181.40,120.44 L181.90,121.07 L182.40,121.69 L182.90,122.31 L183.40,122.92 L183.90,123.52 L184.40,124.12 L184.90,124.70 L185.40,125.26 L185.90,125.81 L186.40,126.35 L186.90,126.86 L187.30,127.26" fill="none" stroke="#2e2e2e" stroke-width="1.1" stroke-linecap="round" stroke-linejoin="round"/>
<path d="M42.90,100.03 L43.40,101.84 L43.90,103.53 L44.40,105.09 L44.90,106.54 L45.40,107.87 L45.90,109.09 L46.40,110.19 L46.90,111.19 L47.40,112.07 L47.90,112.85 L48.40,113.53 L48.90,114.10 L49.40,114.57 L49.90,114.94 L50.40,115.22 L50.90,115.40 L51.40,115.49 L51.90,115.49 L52.40,115.41 L52.90,115.23 L53.40,114.97 L53.90,114.63 L54.40,114.21 L54.90,113.71 L55.40,113.13 L55.90,112.49 L56.40,111.77 L56.90,110.98 L57.40,110.13 L57.90,109.22 L58.40,108.26 L58.90,107.24 L59.40,106.17 L59.90,105.05 L60.40,103.89 L60.90,102.68 L61.40,101.45 L61.90,100.17 L62.40,98.87 L62.90,97.53 L63.40,96.18 L63.90,94.80 L64.40,93.40 L64.90,91.99 L65.40,90.57 L65.90,89.14 L66.40,87.70 L66.90,86.26 L67.40,84.82 L67.90,83.39 L68.40,81.95 L68.90,80.52 L69.40,79.09 L69.90,77.67 L70.40,76.25 L70.90,74.83 L71.40,73.41 L71.90,72.01 L72.40,70.60 L72.90,69.21 L73.40,67.82 L73.90,66.44 L74.40,65.06 L74.90,63.69 L75.40,62.34 L75.90,60.99 L76.40,59.65 L76.90,58.31 L77.40,56.99 L77.90,55.69 L78.40,54.39 L78.90,53.10 L79.40,51.83 L79.90,50.57 L80.40,49.32 L80.90,48.08 L81.40,46.86 L81.90,45.66 L82.40,44.47 L82.90,43.29 L83.40,42.13 L83.90,40.99 L84.40,39.87 L84.90,38.76 L85.40,37.67 L85.90,36.60 L86.40,35.54 L86.90,34.51 L87.40,33.50 L87.90,32.50 L88.40,31.53 L88.90,30.58 L89.40,29.65 L89.90,28.74 L90.40,27.86 L90.90,26.99 L91.40,26.16 L91.90,25.34 L92.40,24.55 L92.90,23.79 L93.40,23.05 L93.90,22.34 L94.40,21.65 L94.90,20.99 L95.40,20.36 L95.90,19.75 L96.40,19.18 L96.90,18.63 L97.40,18.11 L97.90,17.62 L98.40,17.16 L98.90,16.74 L99.40,16.34 L99.90,15.98 L100.40,15.64 L100.90,15.34 L101.40,15.07 L101.90,14.84 L102.40,14.63 L102.90,14.46 L103.40,14.32 L103.90,14.20 L104.40,14.12 L104.90,14.06 L105.40,14.03 L105.90,14.04 L106.40,14.06 L106.90,14.12 L107.40,14.20 L107.90,14.31 L108.40,14.44 L108.90,14.60 L109.40,14.78 L109.90,14.98 L110.40,15.21 L110.90,15.47 L111.40,15.74 L111.90,16.04 L112.40,16.36 L112.90,16.70 L113.40,17.06 L113.90,17.44 L114.40,17.84 L114.90,18.25 L115.40,18.69 L115.90,19.15 L116.40,19.62 L116.90,20.11 L117.40,20.62 L117.90,21.14 L118.40,21.68 L118.90,22.23 L119.40,22.80 L119.90,23.38 L120.40,23.98 L120.90,24.58 L121.40,25.21 L121.90,25.84 L122.40,26.49 L122.90,27.14 L123.40,27.81 L123.90,28.49 L124.40,29.18 L124.90,29.87 L125.40,30.58 L125.90,31.29 L126.40,32.01 L126.90,32.74 L127.40,33.48 L127.90,34.22 L128.40,34.97 L128.90,35.72 L129.40,36.48 L129.90,37.24 L130.40,38.01 L130.90,38.78 L131.40,39.55 L131.90,40.33 L132.40,41.10 L132.90,41.88 L133.40,42.66 L133.90,43.44 L134.40,44.22 L134.90,45.00 L135.40,45.78 L135.90,46.56 L136.40,47.33 L136.90,48.10 L137.40,48.87 L137.90,49.64 L138.40,50.40 L138.90,51.16 L139.40,51.91 L139.90,52.66 L140.40,53.40 L140.90,54.13 L141.40,54.86 L141.90,55.58 L142.40,56.30 L142.90,57.00 L143.40,57.70 L143.90,58.38 L144.40,59.06 L144.90,59.72 L145.40,60.38 L145.90,61.02 L146.40,61.65 L146.90,62.27 L147.40,62.88 L147.90,63.47 L148.40,64.05 L148.90,64.62 L149.40,65.17 L149.90,65.71 L150.40,66.23 L150.90,66.73 L151.40,67.22 L151.90,67.69 L152.40,68.15 L152.90,68.59 L153.40,69.02 L153.90,69.44 L154.40,69.84 L154.90,70.24 L155.40,70.63 L155.90,71.00 L156.40,71.37 L156.90,71.73 L157.40,72.08 L157.90,72.43 L158.40,72.77 L158.90,73.11 L159.40,73.45 L159.90,73.78 L160.40,74.11 L160.90,74.44 L161.40,74.77 L161.90,75.10 L162.40,75.43 L162.90,75.77 L163.40,76.10 L163.90,76.44 L164.40,76.79 L164.90,77.14 L165.40,77.50 L165.90,77.86 L166.40,78.24 L166.90,78.62 L167.40,79.01 L167.90,79.41 L168.40,79.82 L168.90,80.25 L169.40,80.68 L169.90,81.13 L170.40,81.60 L170.90,82.08 L171.40,82.58 L171.90,83.09 L172.40,83.62 L172.90,84.17 L173.40,84.74 L173.90,85.33 L174.40,85.94 L174.90,86.57 L175.40,87.23 L175.90,87.90 L176.40,88.61 L176.90,89.33 L177.40,90.09 L177.90,90.87 L178.40,91.67 L178.90,92.51 L179.40,93.37 L179.90,94.27 L180.40,95.19 L180.90,96.15 L181.40,97.14 L181.90,98.16 L182.40,99.21 L182.90,100.31 L183.40,101.43 L183.90,102.59 L184.40,103.79 L184.90,105.03 L185.40,106.31 L185.90,107.62 L186.40,108.98 L186.90,110.38 L187.40,111.82" fill="none" stroke="#e8282c" stroke-width="1.05" stroke-linecap="round" stroke-linejoin="round"/>
<text x="240.90" y="11.50" font-size="15.70" font-weight="bold" text-anchor="start" fill="#000" >B</text>
<rect x="299" y="0" width="4.0" height="84" fill="#efefef"/>
<line x1="292.50" y1="2.50" x2="292.50" y2="138.50" stroke="#999" stroke-width="0.55"/>
<line x1="257.50" y1="72.20" x2="396.40" y2="72.20" stroke="#999" stroke-width="0.55"/>
<line x1="291.30" y1="6.20" x2="292.50" y2="6.20" stroke="#999" stroke-width="0.4"/>
<line x1="291.30" y1="17.20" x2="292.50" y2="17.20" stroke="#999" stroke-width="0.4"/>
<line x1="291.30" y1="28.20" x2="292.50" y2="28.20" stroke="#999" stroke-width="0.4"/>
<text x="291.30" y="29.78" font-size="4.50" font-weight="normal" text-anchor="end" fill="#333" >-2</text>
<line x1="291.30" y1="39.20" x2="292.50" y2="39.20" stroke="#999" stroke-width="0.4"/>
<line x1="291.30" y1="50.20" x2="292.50" y2="50.20" stroke="#999" stroke-width="0.4"/>
<text x="291.30" y="51.78" font-size="4.50" font-weight="normal" text-anchor="end" fill="#333" >-1</text>
<line x1="291.30" y1="61.20" x2="292.50" y2="61.20" stroke="#999" stroke-width="0.4"/>
<line x1="291.30" y1="83.20" x2="292.50" y2="83.20" stroke="#999" stroke-width="0.4"/>
<line x1="291.30" y1="94.20" x2="292.50" y2="94.20" stroke="#999" stroke-width="0.4"/>
<text x="291.30" y="95.78" font-size="4.50" font-weight="normal" text-anchor="end" fill="#333" >1</text>
<line x1="291.30" y1="105.20" x2="292.50" y2="105.20" stroke="#999" stroke-width="0.4"/>
<line x1="291.30" y1="116.20" x2="292.50" y2="116.20" stroke="#999" stroke-width="0.4"/>
<text x="291.30" y="117.78" font-size="4.50" font-weight="normal" text-anchor="end" fill="#333" >2</text>
<line x1="291.30" y1="127.20" x2="292.50" y2="127.20" stroke="#999" stroke-width="0.4"/>
<line x1="291.30" y1="138.20" x2="292.50" y2="138.20" stroke="#999" stroke-width="0.4"/>
<line x1="265.40" y1="72.20" x2="265.40" y2="73.20" stroke="#999" stroke-width="0.4"/>
<text x="265.40" y="78.03" font-size="4.50" font-weight="normal" text-anchor="middle" fill="#333" >-400</text>
<line x1="279.20" y1="72.20" x2="279.20" y2="73.20" stroke="#999" stroke-width="0.4"/>
<text x="279.20" y="78.03" font-size="4.50" font-weight="normal" text-anchor="middle" fill="#333" >-200</text>
<line x1="306.80" y1="72.20" x2="306.80" y2="73.20" stroke="#999" stroke-width="0.4"/>
<text x="306.80" y="78.03" font-size="4.50" font-weight="normal" text-anchor="middle" fill="#333" >200</text>
<line x1="320.20" y1="72.20" x2="320.20" y2="73.20" stroke="#999" stroke-width="0.4"/>
<text x="320.20" y="78.03" font-size="4.50" font-weight="normal" text-anchor="middle" fill="#333" >400</text>
<line x1="334.30" y1="72.20" x2="334.30" y2="73.20" stroke="#999" stroke-width="0.4"/>
<text x="334.30" y="78.03" font-size="4.50" font-weight="normal" text-anchor="middle" fill="#333" >600</text>
<line x1="348.20" y1="72.20" x2="348.20" y2="73.20" stroke="#999" stroke-width="0.4"/>
<text x="348.20" y="78.03" font-size="4.50" font-weight="normal" text-anchor="middle" fill="#333" >800</text>
<line x1="361.80" y1="72.20" x2="361.80" y2="73.20" stroke="#999" stroke-width="0.4"/>
<text x="361.80" y="78.03" font-size="4.50" font-weight="normal" text-anchor="middle" fill="#333" >1000</text>
<line x1="376.20" y1="72.20" x2="376.20" y2="73.20" stroke="#999" stroke-width="0.4"/>
<text x="376.20" y="78.03" font-size="4.50" font-weight="normal" text-anchor="middle" fill="#333" >1200</text>
<text x="288.90" y="5.80" font-size="5.60" font-weight="bold" text-anchor="middle" fill="#333" >µV</text>
<text x="393.60" y="79.00" font-size="5.20" font-weight="bold" text-anchor="middle" fill="#222" >ms</text>
<path d="M258.00,71.30 L259.00,73.32 L260.30,73.81 L261.60,72.77 L262.90,73.82 L264.20,72.80 L265.50,73.18 L266.80,72.24 L268.10,73.05 L269.40,72.29 L270.70,72.98 L272.00,73.39 L273.30,73.70 L274.60,73.22 L275.90,73.81 L277.20,74.38 L278.50,72.94 L279.80,72.96 L281.10,73.85 L282.40,73.90 L283.70,73.34 L285.00,72.75 L286.30,73.72 L287.60,72.52 L288.90,73.21 L290.20,73.76 L291.50,72.69 L292.80,72.44 L294.10,72.26 L295.40,72.63 L296.20,74.00 L297.40,77.50 L298.40,80.70 L299.20,72.00 L300.20,40.00 L301.50,14.60 L302.30,30.00 L303.00,55.00 L304.00,85.00 L305.90,114.70 L307.50,102.00 L309.50,78.00 L310.70,62.00 L312.00,38.00 L313.50,16.20 L315.40,10.00 L317.50,16.20 L319.00,25.00 L320.00,30.80 L322.00,35.00 L324.00,38.90 L327.00,47.00 L329.70,55.00 L331.23,56.90 L332.77,58.74 L334.30,60.80 L337.00,63.00 L338.70,62.99 L340.40,63.70 L343.00,64.00 L344.75,64.97 L346.50,65.20 L348.25,65.86 L350.00,67.50 L351.90,68.40 L353.80,69.30 L355.35,70.00 L356.90,69.48 L358.45,70.25 L360.00,70.50 L361.67,70.85 L363.33,70.51 L365.00,71.20 L366.93,71.35 L368.87,71.94 L370.80,72.00 L372.33,72.09 L373.87,72.49 L375.40,72.06 L376.93,72.27 L378.47,72.28 L380.00,72.80 L381.67,72.97 L383.33,73.56 L385.00,73.39 L386.67,73.74 L388.33,73.52 L390.00,73.80 L391.50,74.15 L393.00,73.60 L394.50,73.89 L396.00,74.20" fill="none" stroke="#151515" stroke-width="0.9" stroke-linejoin="round"/>
<path d="M257.80,68.80 L258.60,71.50 L259.50,72.84 L260.80,73.24 L262.10,73.49 L263.40,72.37 L264.70,71.43 L266.00,71.79 L267.30,71.75 L268.60,73.01 L269.90,73.42 L271.20,73.43 L272.50,73.33 L273.80,73.52 L275.10,72.39 L276.40,72.48 L277.70,71.86 L279.00,73.30 L280.30,72.06 L281.60,73.20 L282.90,72.05 L284.20,72.88 L285.50,72.50 L286.80,72.45 L288.10,73.47 L289.40,72.06 L290.70,71.38 L292.00,73.06 L293.30,73.01 L294.60,71.98 L295.60,72.30 L296.20,76.50 L296.80,71.50 L297.40,77.50 L298.10,73.50 L298.80,66.00 L299.40,50.00 L300.30,22.00 L301.30,8.90 L302.00,22.00 L302.60,50.00 L303.40,72.00 L304.40,90.00 L305.70,103.70 L307.20,95.00 L308.50,84.00 L309.40,79.40 L310.60,70.00 L311.90,58.00 L313.00,40.00 L314.30,26.70 L315.90,23.50 L317.50,24.80 L318.80,24.60 L320.00,22.50 L321.10,21.10 L322.50,23.00 L324.00,25.90 L326.00,29.00 L327.50,31.60 L329.70,34.80 L331.23,38.40 L332.77,41.99 L334.30,45.00 L335.65,45.97 L337.00,46.00 L338.70,45.96 L340.40,44.50 L342.20,46.63 L344.00,48.00 L345.67,50.51 L347.33,50.91 L349.00,53.50 L350.33,54.28 L351.67,55.88 L353.00,56.00 L354.43,57.14 L355.85,58.44 L357.27,58.08 L358.70,59.60 L360.13,60.68 L361.57,61.46 L363.00,63.00 L364.40,64.77 L365.80,66.52 L367.20,68.10 L369.00,65.52 L370.80,64.50 L373.00,67.00 L374.35,67.10 L375.70,68.10 L377.35,66.95 L379.00,66.50 L380.50,68.42 L382.00,69.00 L383.53,70.09 L385.07,69.79 L386.60,71.00 L389.00,68.50 L390.85,67.83 L392.70,66.20 L394.35,66.12 L396.00,67.20" fill="none" stroke="#f01a1a" stroke-width="0.9" stroke-linejoin="round"/>
<text x="443.60" y="24.70" font-size="10.50" font-weight="bold" text-anchor="middle" fill="#111" >oddball</text>
<text x="510.70" y="24.70" font-size="10.50" font-weight="bold" text-anchor="middle" fill="#111" >standard</text>
<rect x="412.30" y="28.30" width="63.20" height="68.70" fill="#fff" stroke="#444" stroke-width="0.7"/>
<path d="M440.70,34.60 C441.40,29.00 446.40,29.00 447.10,34.60" fill="#fff" stroke="#555" stroke-width="0.5"/>
<g clip-path="url(#hb1)"><circle cx="443.90" cy="65.00" r="31.00" fill="url(#oddout)"/><ellipse cx="468.40" cy="77.00" rx="4.80" ry="10.50" fill="#c8060c" transform="rotate(25 468.40 77.00)"/><polygon points="469.10,60.50 468.73,63.11 467.96,65.71 466.90,68.26 465.59,70.76 464.10,73.18 462.48,75.50 460.78,77.71 459.03,79.78 457.27,81.71 455.54,83.48 453.85,85.07 452.24,86.48 450.69,87.69 449.22,88.69 447.82,89.48 446.48,90.04 445.18,90.39 443.90,90.50 442.62,90.39 441.32,90.04 439.98,89.48 438.58,88.69 437.11,87.69 435.56,86.48 433.95,85.07 432.26,83.48 430.53,81.71 428.77,79.78 427.02,77.71 425.32,75.50 423.70,73.18 422.21,70.76 420.90,68.26 419.84,65.71 419.07,63.11 418.70,60.50 418.80,58.32 419.08,56.16 419.56,54.03 420.22,51.95 421.06,49.93 422.08,48.00 423.26,46.16 424.60,44.43 426.08,42.82 427.70,41.35 429.45,40.02 431.30,38.85 433.25,37.84 435.28,37.01 437.38,36.35 439.52,35.88 441.70,35.60 443.90,35.50 446.10,35.60 448.28,35.88 450.42,36.35 452.52,37.01 454.55,37.84 456.50,38.85 458.35,40.02 460.10,41.35 461.72,42.82 463.20,44.43 464.54,46.16 465.72,48.00 466.74,49.93 467.58,51.95 468.24,54.03 468.72,56.16 469.00,58.32" fill="#f46466"/><polygon points="466.30,60.50 466.00,62.85 465.36,65.19 464.47,67.49 463.38,69.73 462.12,71.91 460.74,74.00 459.28,75.99 457.78,77.86 456.25,79.59 454.73,81.18 453.25,82.62 451.80,83.88 450.41,84.97 449.06,85.87 447.77,86.58 446.52,87.09 445.30,87.40 444.10,87.50 442.90,87.40 441.68,87.09 440.43,86.58 439.14,85.87 437.79,84.97 436.40,83.88 434.95,82.62 433.47,81.18 431.95,79.59 430.42,77.86 428.92,75.99 427.46,74.00 426.08,71.91 424.82,69.73 423.73,67.49 422.84,65.19 422.20,62.85 421.90,60.50 421.98,58.67 422.24,56.85 422.66,55.06 423.24,53.32 423.98,51.63 424.87,50.00 425.91,48.45 427.09,47.00 428.40,45.65 429.83,44.41 431.37,43.30 433.00,42.31 434.72,41.47 436.51,40.77 438.35,40.22 440.25,39.82 442.17,39.58 444.10,39.50 446.03,39.58 447.95,39.82 449.85,40.22 451.69,40.77 453.48,41.47 455.20,42.31 456.83,43.30 458.37,44.41 459.80,45.65 461.11,47.00 462.29,48.45 463.33,50.00 464.22,51.63 464.96,53.32 465.54,55.06 465.96,56.85 466.22,58.67" fill="#f8a2a4"/><polygon points="464.20,60.50 463.96,62.55 463.44,64.58 462.70,66.58 461.79,68.54 460.73,70.43 459.56,72.25 458.31,73.98 456.99,75.61 455.65,77.12 454.30,78.50 452.95,79.75 451.62,80.85 450.32,81.80 449.05,82.58 447.80,83.20 446.59,83.64 445.39,83.91 444.20,84.00 443.01,83.91 441.81,83.64 440.60,83.20 439.35,82.58 438.08,81.80 436.78,80.85 435.45,79.75 434.10,78.50 432.75,77.12 431.41,75.61 430.09,73.98 428.84,72.25 427.67,70.43 426.61,68.54 425.70,66.58 424.96,64.58 424.44,62.55 424.20,60.50 424.28,58.89 424.50,57.29 424.88,55.71 425.41,54.17 426.07,52.68 426.88,51.25 427.82,49.89 428.88,48.61 430.06,47.42 431.34,46.33 432.73,45.35 434.20,44.48 435.75,43.73 437.36,43.12 439.02,42.63 440.73,42.28 442.46,42.07 444.20,42.00 445.94,42.07 447.67,42.28 449.38,42.63 451.04,43.12 452.65,43.73 454.20,44.48 455.67,45.35 457.06,46.33 458.34,47.42 459.52,48.61 460.58,49.89 461.52,51.25 462.33,52.68 462.99,54.17 463.52,55.71 463.90,57.29 464.12,58.89" fill="#fcd6d7"/><polygon points="462.80,60.50 462.60,62.29 462.15,64.06 461.52,65.81 460.72,67.51 459.79,69.16 458.76,70.75 457.64,72.26 456.46,73.68 455.24,75.00 454.01,76.20 452.76,77.29 451.52,78.25 450.30,79.08 449.09,79.76 447.90,80.30 446.72,80.69 445.56,80.92 444.40,81.00 443.24,80.92 442.08,80.69 440.90,80.30 439.71,79.76 438.50,79.08 437.28,78.25 436.04,77.29 434.79,76.20 433.56,75.00 432.34,73.68 431.16,72.26 430.04,70.75 429.01,69.16 428.08,67.51 427.28,65.81 426.65,64.06 426.20,62.29 426.00,60.50 426.07,59.06 426.28,57.63 426.63,56.23 427.11,54.86 427.72,53.53 428.47,52.25 429.33,51.04 430.30,49.89 431.39,48.83 432.57,47.86 433.85,46.98 435.20,46.21 436.62,45.55 438.11,45.00 439.64,44.56 441.20,44.25 442.80,44.06 444.40,44.00 446.00,44.06 447.60,44.25 449.16,44.56 450.69,45.00 452.18,45.55 453.60,46.21 454.95,46.98 456.23,47.86 457.41,48.83 458.50,49.89 459.47,51.04 460.33,52.25 461.08,53.53 461.69,54.86 462.17,56.23 462.52,57.63 462.73,59.06" fill="#ffffff"/><polygon points="460.50,59.70 460.43,61.34 460.22,62.72 459.86,64.00 459.37,65.19 458.75,66.31 457.99,67.35 457.10,68.31 456.10,69.18 454.98,69.96 453.74,70.65 452.41,71.24 450.97,71.72 449.43,72.11 447.78,72.38 446.01,72.54 443.90,72.60 441.79,72.54 440.02,72.38 438.37,72.11 436.83,71.72 435.39,71.24 434.06,70.65 432.82,69.96 431.70,69.18 430.70,68.31 429.81,67.35 429.05,66.31 428.43,65.19 427.94,64.00 427.58,62.72 427.37,61.34 427.30,59.70 427.37,58.06 427.58,56.68 427.94,55.40 428.43,54.21 429.05,53.09 429.81,52.05 430.70,51.09 431.70,50.22 432.82,49.44 434.06,48.75 435.39,48.16 436.83,47.68 438.37,47.29 440.02,47.02 441.79,46.86 443.90,46.80 446.01,46.86 447.78,47.02 449.43,47.29 450.97,47.68 452.41,48.16 453.74,48.75 454.98,49.44 456.10,50.22 457.10,51.09 457.99,52.05 458.75,53.09 459.37,54.21 459.86,55.40 460.22,56.68 460.43,58.06" fill="#d0d2f8"/><polygon points="458.20,59.90 458.14,61.27 457.97,62.36 457.67,63.36 457.27,64.27 456.75,65.12 456.12,65.90 455.39,66.62 454.55,67.27 453.61,67.85 452.57,68.36 451.44,68.80 450.21,69.15 448.89,69.44 447.46,69.64 445.88,69.76 443.90,69.80 441.92,69.76 440.34,69.64 438.91,69.44 437.59,69.15 436.36,68.80 435.23,68.36 434.19,67.85 433.25,67.27 432.41,66.62 431.68,65.90 431.05,65.12 430.53,64.27 430.13,63.36 429.83,62.36 429.66,61.27 429.60,59.90 429.66,58.53 429.83,57.44 430.13,56.44 430.53,55.53 431.05,54.68 431.68,53.90 432.41,53.18 433.25,52.53 434.19,51.95 435.23,51.44 436.36,51.00 437.59,50.65 438.91,50.36 440.34,50.16 441.92,50.04 443.90,50.00 445.88,50.04 447.46,50.16 448.89,50.36 450.21,50.65 451.44,51.00 452.57,51.44 453.61,51.95 454.55,52.53 455.39,53.18 456.12,53.90 456.75,54.68 457.27,55.53 457.67,56.44 457.97,57.44 458.14,58.53" fill="#a0a4f3"/><polygon points="456.10,60.40 456.06,61.62 455.93,62.39 455.73,63.05 455.44,63.62 455.07,64.14 454.62,64.61 454.08,65.02 453.47,65.40 452.77,65.72 451.99,66.01 451.11,66.25 450.14,66.45 449.06,66.60 447.83,66.71 446.38,66.78 444.10,66.80 441.82,66.78 440.37,66.71 439.14,66.60 438.06,66.45 437.09,66.25 436.21,66.01 435.43,65.72 434.73,65.40 434.12,65.02 433.58,64.61 433.13,64.14 432.76,63.62 432.47,63.05 432.27,62.39 432.14,61.62 432.10,60.40 432.14,59.18 432.27,58.41 432.47,57.75 432.76,57.18 433.13,56.66 433.58,56.19 434.12,55.78 434.73,55.40 435.43,55.08 436.21,54.79 437.09,54.55 438.06,54.35 439.14,54.20 440.37,54.09 441.82,54.02 444.10,54.00 446.38,54.02 447.83,54.09 449.06,54.20 450.14,54.35 451.11,54.55 451.99,54.79 452.77,55.08 453.47,55.40 454.08,55.78 454.62,56.19 455.07,56.66 455.44,57.18 455.73,57.75 455.93,58.41 456.06,59.18" fill="#6468ef"/><polygon points="455.30,60.90 455.26,61.54 455.14,61.98 454.94,62.37 454.66,62.72 454.30,63.03 453.87,63.32 453.36,63.58 452.77,63.81 452.11,64.02 451.37,64.20 450.56,64.35 449.66,64.48 448.67,64.57 447.57,64.64 446.31,64.69 444.50,64.70 442.69,64.69 441.43,64.64 440.33,64.57 439.34,64.48 438.44,64.35 437.63,64.20 436.89,64.02 436.23,63.81 435.64,63.58 435.13,63.32 434.70,63.03 434.34,62.72 434.06,62.37 433.86,61.98 433.74,61.54 433.70,60.90 433.74,60.26 433.86,59.82 434.06,59.43 434.34,59.08 434.70,58.77 435.13,58.48 435.64,58.22 436.23,57.99 436.89,57.78 437.63,57.60 438.44,57.45 439.34,57.32 440.33,57.23 441.43,57.16 442.69,57.11 444.50,57.10 446.31,57.11 447.57,57.16 448.67,57.23 449.66,57.32 450.56,57.45 451.37,57.60 452.11,57.78 452.77,57.99 453.36,58.22 453.87,58.48 454.30,58.77 454.66,59.08 454.94,59.43 455.14,59.82 455.26,60.26" fill="#4044f0"/><circle cx="433.70" cy="42.80" r="0.68" fill="#5a5a68"/><circle cx="438.80" cy="42.80" r="0.68" fill="#5a5a68"/><circle cx="443.90" cy="42.80" r="0.68" fill="#5a5a68"/><circle cx="449.00" cy="42.80" r="0.68" fill="#5a5a68"/><circle cx="454.10" cy="42.80" r="0.68" fill="#5a5a68"/><circle cx="426.05" cy="47.70" r="0.68" fill="#5a5a68"/><circle cx="431.15" cy="47.70" r="0.68" fill="#5a5a68"/><circle cx="436.25" cy="47.70" r="0.68" fill="#5a5a68"/><circle cx="441.35" cy="47.70" r="0.68" fill="#5a5a68"/><circle cx="446.45" cy="47.70" r="0.68" fill="#5a5a68"/><circle cx="451.55" cy="47.70" r="0.68" fill="#5a5a68"/><circle cx="456.65" cy="47.70" r="0.68" fill="#5a5a68"/><circle cx="461.75" cy="47.70" r="0.68" fill="#5a5a68"/><circle cx="423.50" cy="52.60" r="0.68" fill="#5a5a68"/><circle cx="428.60" cy="52.60" r="0.68" fill="#5a5a68"/><circle cx="433.70" cy="52.60" r="0.68" fill="#5a5a68"/><circle cx="438.80" cy="52.60" r="0.68" fill="#5a5a68"/><circle cx="443.90" cy="52.60" r="0.68" fill="#5a5a68"/><circle cx="449.00" cy="52.60" r="0.68" fill="#5a5a68"/><circle cx="454.10" cy="52.60" r="0.68" fill="#5a5a68"/><circle cx="459.20" cy="52.60" r="0.68" fill="#5a5a68"/><circle cx="464.30" cy="52.60" r="0.68" fill="#5a5a68"/><circle cx="426.05" cy="57.50" r="0.68" fill="#5a5a68"/><circle cx="431.15" cy="57.50" r="0.68" fill="#5a5a68"/><circle cx="436.25" cy="57.50" r="0.68" fill="#5a5a68"/><circle cx="441.35" cy="57.50" r="0.68" fill="#5a5a68"/><circle cx="446.45" cy="57.50" r="0.68" fill="#5a5a68"/><circle cx="451.55" cy="57.50" r="0.68" fill="#5a5a68"/><circle cx="456.65" cy="57.50" r="0.68" fill="#5a5a68"/><circle cx="461.75" cy="57.50" r="0.68" fill="#5a5a68"/><circle cx="423.50" cy="62.40" r="0.68" fill="#5a5a68"/><circle cx="428.60" cy="62.40" r="0.68" fill="#5a5a68"/><circle cx="433.70" cy="62.40" r="0.68" fill="#5a5a68"/><circle cx="438.80" cy="62.40" r="0.68" fill="#5a5a68"/><circle cx="443.90" cy="62.40" r="0.68" fill="#5a5a68"/><circle cx="449.00" cy="62.40" r="0.68" fill="#5a5a68"/><circle cx="454.10" cy="62.40" r="0.68" fill="#5a5a68"/><circle cx="459.20" cy="62.40" r="0.68" fill="#5a5a68"/><circle cx="464.30" cy="62.40" r="0.68" fill="#5a5a68"/><circle cx="426.05" cy="67.30" r="0.68" fill="#5a5a68"/><circle cx="431.15" cy="67.30" r="0.68" fill="#5a5a68"/><circle cx="436.25" cy="67.30" r="0.68" fill="#5a5a68"/><circle cx="441.35" cy="67.30" r="0.68" fill="#5a5a68"/><circle cx="446.45" cy="67.30" r="0.68" fill="#5a5a68"/><circle cx="451.55" cy="67.30" r="0.68" fill="#5a5a68"/><circle cx="456.65" cy="67.30" r="0.68" fill="#5a5a68"/><circle cx="461.75" cy="67.30" r="0.68" fill="#5a5a68"/><circle cx="423.50" cy="72.20" r="0.68" fill="#5a5a68"/><circle cx="428.60" cy="72.20" r="0.68" fill="#5a5a68"/><circle cx="433.70" cy="72.20" r="0.68" fill="#5a5a68"/><circle cx="438.80" cy="72.20" r="0.68" fill="#5a5a68"/><circle cx="443.90" cy="72.20" r="0.68" fill="#5a5a68"/><circle cx="449.00" cy="72.20" r="0.68" fill="#5a5a68"/><circle cx="454.10" cy="72.20" r="0.68" fill="#5a5a68"/><circle cx="459.20" cy="72.20" r="0.68" fill="#5a5a68"/><circle cx="464.30" cy="72.20" r="0.68" fill="#5a5a68"/><circle cx="426.05" cy="77.10" r="0.68" fill="#5a5a68"/><circle cx="431.15" cy="77.10" r="0.68" fill="#5a5a68"/><circle cx="436.25" cy="77.10" r="0.68" fill="#5a5a68"/><circle cx="441.35" cy="77.10" r="0.68" fill="#5a5a68"/><circle cx="446.45" cy="77.10" r="0.68" fill="#5a5a68"/><circle cx="451.55" cy="77.10" r="0.68" fill="#5a5a68"/><circle cx="456.65" cy="77.10" r="0.68" fill="#5a5a68"/><circle cx="461.75" cy="77.10" r="0.68" fill="#5a5a68"/><circle cx="433.70" cy="82.00" r="0.68" fill="#5a5a68"/><circle cx="438.80" cy="82.00" r="0.68" fill="#5a5a68"/><circle cx="443.90" cy="82.00" r="0.68" fill="#5a5a68"/><circle cx="449.00" cy="82.00" r="0.68" fill="#5a5a68"/><circle cx="454.10" cy="82.00" r="0.68" fill="#5a5a68"/></g>
<circle cx="443.90" cy="65.00" r="31.00" fill="none" stroke="#555" stroke-width="0.5"/>
<rect x="480.60" y="28.30" width="63.00" height="68.70" fill="#fff" stroke="#444" stroke-width="0.7"/>
<path d="M508.60,34.60 C509.30,29.00 514.30,29.00 515.00,34.60" fill="#fff" stroke="#555" stroke-width="0.5"/>
<g clip-path="url(#hb2)"><circle cx="511.80" cy="65.00" r="31.00" fill="url(#stdout)"/><ellipse cx="536.80" cy="75.00" rx="7.00" ry="16.00" fill="#ff1010" transform="rotate(20 536.80 75.00)"/><ellipse cx="490.30" cy="78.00" rx="4.20" ry="7.50" fill="#ff1212" transform="rotate(-30 490.30 78.00)"/><polygon points="537.80,60.00 537.42,62.53 536.63,65.04 535.53,67.51 534.18,69.92 532.64,72.26 530.97,74.50 529.21,76.63 527.41,78.64 525.59,80.51 523.81,82.22 522.07,83.76 520.40,85.11 518.81,86.28 517.29,87.25 515.85,88.01 514.46,88.56 513.12,88.89 511.80,89.00 510.48,88.89 509.14,88.56 507.75,88.01 506.31,87.25 504.79,86.28 503.20,85.11 501.53,83.76 499.79,82.22 498.01,80.51 496.19,78.64 494.39,76.63 492.63,74.50 490.96,72.26 489.42,69.92 488.07,67.51 486.97,65.04 486.18,62.53 485.80,60.00 485.90,57.86 486.19,55.75 486.69,53.66 487.37,51.62 488.24,49.65 489.28,47.75 490.50,45.95 491.88,44.25 493.42,42.68 495.09,41.23 496.89,39.93 498.80,38.78 500.81,37.80 502.91,36.98 505.07,36.33 507.29,35.87 509.53,35.59 511.80,35.50 514.07,35.59 516.31,35.87 518.53,36.33 520.69,36.98 522.79,37.80 524.80,38.78 526.71,39.93 528.51,41.23 530.18,42.68 531.72,44.25 533.10,45.95 534.32,47.75 535.36,49.65 536.23,51.62 536.91,53.66 537.41,55.75 537.70,57.86" fill="#f47074"/><polygon points="535.30,60.00 535.00,62.27 534.35,64.51 533.45,66.73 532.33,68.89 531.05,70.99 529.63,73.00 528.13,74.91 526.58,76.71 524.99,78.38 523.41,79.92 521.86,81.30 520.33,82.52 518.86,83.56 517.43,84.43 516.05,85.11 514.71,85.61 513.40,85.90 512.10,86.00 510.80,85.90 509.49,85.61 508.15,85.11 506.77,84.43 505.34,83.56 503.87,82.52 502.34,81.30 500.79,79.92 499.21,78.38 497.62,76.71 496.07,74.91 494.57,73.00 493.15,70.99 491.87,68.89 490.75,66.73 489.85,64.51 489.20,62.27 488.90,60.00 488.99,58.13 489.25,56.27 489.69,54.44 490.30,52.65 491.07,50.91 492.01,49.25 493.10,47.67 494.33,46.18 495.70,44.80 497.19,43.53 498.79,42.39 500.50,41.38 502.30,40.51 504.17,39.80 506.10,39.23 508.07,38.83 510.08,38.58 512.10,38.50 514.12,38.58 516.13,38.83 518.10,39.23 520.03,39.80 521.90,40.51 523.70,41.38 525.41,42.39 527.01,43.53 528.50,44.80 529.87,46.18 531.10,47.67 532.19,49.25 533.13,50.91 533.90,52.65 534.51,54.44 534.95,56.27 535.21,58.13" fill="#f8aaac"/><polygon points="533.30,60.00 533.06,62.00 532.53,63.99 531.78,65.95 530.85,67.87 529.76,69.72 528.56,71.50 527.26,73.19 525.90,74.78 524.50,76.26 523.08,77.62 521.67,78.84 520.26,79.92 518.88,80.85 517.52,81.61 516.19,82.22 514.88,82.65 513.58,82.91 512.30,83.00 511.02,82.91 509.72,82.65 508.41,82.22 507.08,81.61 505.72,80.85 504.34,79.92 502.93,78.84 501.52,77.62 500.10,76.26 498.70,74.78 497.34,73.19 496.04,71.50 494.84,69.72 493.75,67.87 492.82,65.95 492.07,63.99 491.54,62.00 491.30,60.00 491.38,58.30 491.62,56.61 492.02,54.95 492.57,53.33 493.27,51.76 494.11,50.25 495.10,48.82 496.21,47.47 497.45,46.21 498.80,45.06 500.25,44.03 501.80,43.11 503.43,42.33 505.12,41.68 506.86,41.16 508.65,40.80 510.47,40.57 512.30,40.50 514.13,40.57 515.95,40.80 517.74,41.16 519.48,41.68 521.17,42.33 522.80,43.11 524.35,44.03 525.80,45.06 527.15,46.21 528.39,47.47 529.50,48.82 530.49,50.25 531.33,51.76 532.03,53.33 532.58,54.95 532.98,56.61 533.22,58.30" fill="#fcd8d9"/><polygon points="532.20,60.00 531.99,61.87 531.53,63.73 530.87,65.56 530.04,67.35 529.06,69.09 527.97,70.75 526.79,72.33 525.54,73.82 524.24,75.20 522.91,76.47 521.57,77.61 520.23,78.62 518.89,79.49 517.57,80.20 516.26,80.77 514.96,81.17 513.68,81.42 512.40,81.50 511.12,81.42 509.84,81.17 508.54,80.77 507.23,80.20 505.91,79.49 504.57,78.62 503.23,77.61 501.89,76.47 500.56,75.20 499.26,73.82 498.01,72.33 496.83,70.75 495.74,69.09 494.76,67.35 493.93,65.56 493.27,63.73 492.81,61.87 492.60,60.00 492.68,58.43 492.90,56.87 493.27,55.34 493.79,53.84 494.46,52.39 495.25,51.00 496.18,49.68 497.23,48.43 498.40,47.27 499.67,46.21 501.04,45.26 502.50,44.41 504.03,43.69 505.63,43.09 507.28,42.61 508.96,42.27 510.67,42.07 512.40,42.00 514.13,42.07 515.84,42.27 517.52,42.61 519.17,43.09 520.77,43.69 522.30,44.41 523.76,45.26 525.13,46.21 526.40,47.27 527.57,48.43 528.62,49.68 529.55,51.00 530.34,52.39 531.01,53.84 531.53,55.34 531.90,56.87 532.12,58.43" fill="#ffffff"/><polygon points="529.70,60.10 529.63,61.75 529.41,63.14 529.05,64.43 528.54,65.64 527.90,66.76 527.13,67.81 526.22,68.77 525.19,69.65 524.04,70.44 522.78,71.13 521.41,71.73 519.94,72.22 518.36,72.60 516.68,72.88 514.86,73.04 512.70,73.10 510.54,73.04 508.72,72.88 507.04,72.60 505.46,72.22 503.99,71.73 502.62,71.13 501.36,70.44 500.21,69.65 499.18,68.77 498.27,67.81 497.50,66.76 496.86,65.64 496.35,64.43 495.99,63.14 495.77,61.75 495.70,60.10 495.77,58.45 495.99,57.06 496.35,55.77 496.86,54.56 497.50,53.44 498.27,52.39 499.18,51.43 500.21,50.55 501.36,49.76 502.62,49.07 503.99,48.47 505.46,47.98 507.04,47.60 508.72,47.32 510.54,47.16 512.70,47.10 514.86,47.16 516.68,47.32 518.36,47.60 519.94,47.98 521.41,48.47 522.78,49.07 524.04,49.76 525.19,50.55 526.22,51.43 527.13,52.39 527.90,53.44 528.54,54.56 529.05,55.77 529.41,57.06 529.63,58.45" fill="#cdd0f7"/><polygon points="527.30,60.00 527.24,61.33 527.06,62.36 526.75,63.28 526.33,64.13 525.79,64.92 525.13,65.64 524.36,66.30 523.49,66.89 522.50,67.42 521.41,67.89 520.22,68.29 518.93,68.61 517.52,68.87 515.99,69.05 514.29,69.16 512.10,69.20 509.91,69.16 508.21,69.05 506.68,68.87 505.27,68.61 503.98,68.29 502.79,67.89 501.70,67.42 500.71,66.89 499.84,66.30 499.07,65.64 498.41,64.92 497.87,64.13 497.45,63.28 497.14,62.36 496.96,61.33 496.90,60.00 496.96,58.67 497.14,57.64 497.45,56.72 497.87,55.87 498.41,55.08 499.07,54.36 499.84,53.70 500.71,53.11 501.70,52.58 502.79,52.11 503.98,51.71 505.27,51.39 506.68,51.13 508.21,50.95 509.91,50.84 512.10,50.80 514.29,50.84 515.99,50.95 517.52,51.13 518.93,51.39 520.22,51.71 521.41,52.11 522.50,52.58 523.49,53.11 524.36,53.70 525.13,54.36 525.79,55.08 526.33,55.87 526.75,56.72 527.06,57.64 527.24,58.67" fill="#9297f1"/><ellipse cx="521.30" cy="66.00" rx="6.20" ry="2.60" fill="#9297f1" /><ellipse cx="519.30" cy="59.90" rx="2.30" ry="2.00" fill="#3a3ff0" /><circle cx="501.60" cy="42.80" r="0.68" fill="#5a5a68"/><circle cx="506.70" cy="42.80" r="0.68" fill="#5a5a68"/><circle cx="511.80" cy="42.80" r="0.68" fill="#5a5a68"/><circle cx="516.90" cy="42.80" r="0.68" fill="#5a5a68"/><circle cx="522.00" cy="42.80" r="0.68" fill="#5a5a68"/><circle cx="493.95" cy="47.70" r="0.68" fill="#5a5a68"/><circle cx="499.05" cy="47.70" r="0.68" fill="#5a5a68"/><circle cx="504.15" cy="47.70" r="0.68" fill="#5a5a68"/><circle cx="509.25" cy="47.70" r="0.68" fill="#5a5a68"/><circle cx="514.35" cy="47.70" r="0.68" fill="#5a5a68"/><circle cx="519.45" cy="47.70" r="0.68" fill="#5a5a68"/><circle cx="524.55" cy="47.70" r="0.68" fill="#5a5a68"/><circle cx="529.65" cy="47.70" r="0.68" fill="#5a5a68"/><circle cx="491.40" cy="52.60" r="0.68" fill="#5a5a68"/><circle cx="496.50" cy="52.60" r="0.68" fill="#5a5a68"/><circle cx="501.60" cy="52.60" r="0.68" fill="#5a5a68"/><circle cx="506.70" cy="52.60" r="0.68" fill="#5a5a68"/><circle cx="511.80" cy="52.60" r="0.68" fill="#5a5a68"/><circle cx="516.90" cy="52.60" r="0.68" fill="#5a5a68"/><circle cx="522.00" cy="52.60" r="0.68" fill="#5a5a68"/><circle cx="527.10" cy="52.60" r="0.68" fill="#5a5a68"/><circle cx="532.20" cy="52.60" r="0.68" fill="#5a5a68"/><circle cx="493.95" cy="57.50" r="0.68" fill="#5a5a68"/><circle cx="499.05" cy="57.50" r="0.68" fill="#5a5a68"/><circle cx="504.15" cy="57.50" r="0.68" fill="#5a5a68"/><circle cx="509.25" cy="57.50" r="0.68" fill="#5a5a68"/><circle cx="514.35" cy="57.50" r="0.68" fill="#5a5a68"/><circle cx="519.45" cy="57.50" r="0.68" fill="#5a5a68"/><circle cx="524.55" cy="57.50" r="0.68" fill="#5a5a68"/><circle cx="529.65" cy="57.50" r="0.68" fill="#5a5a68"/><circle cx="491.40" cy="62.40" r="0.68" fill="#5a5a68"/><circle cx="496.50" cy="62.40" r="0.68" fill="#5a5a68"/><circle cx="501.60" cy="62.40" r="0.68" fill="#5a5a68"/><circle cx="506.70" cy="62.40" r="0.68" fill="#5a5a68"/><circle cx="511.80" cy="62.40" r="0.68" fill="#5a5a68"/><circle cx="516.90" cy="62.40" r="0.68" fill="#5a5a68"/><circle cx="522.00" cy="62.40" r="0.68" fill="#5a5a68"/><circle cx="527.10" cy="62.40" r="0.68" fill="#5a5a68"/><circle cx="532.20" cy="62.40" r="0.68" fill="#5a5a68"/><circle cx="493.95" cy="67.30" r="0.68" fill="#5a5a68"/><circle cx="499.05" cy="67.30" r="0.68" fill="#5a5a68"/><circle cx="504.15" cy="67.30" r="0.68" fill="#5a5a68"/><circle cx="509.25" cy="67.30" r="0.68" fill="#5a5a68"/><circle cx="514.35" cy="67.30" r="0.68" fill="#5a5a68"/><circle cx="519.45" cy="67.30" r="0.68" fill="#5a5a68"/><circle cx="524.55" cy="67.30" r="0.68" fill="#5a5a68"/><circle cx="529.65" cy="67.30" r="0.68" fill="#5a5a68"/><circle cx="491.40" cy="72.20" r="0.68" fill="#5a5a68"/><circle cx="496.50" cy="72.20" r="0.68" fill="#5a5a68"/><circle cx="501.60" cy="72.20" r="0.68" fill="#5a5a68"/><circle cx="506.70" cy="72.20" r="0.68" fill="#5a5a68"/><circle cx="511.80" cy="72.20" r="0.68" fill="#5a5a68"/><circle cx="516.90" cy="72.20" r="0.68" fill="#5a5a68"/><circle cx="522.00" cy="72.20" r="0.68" fill="#5a5a68"/><circle cx="527.10" cy="72.20" r="0.68" fill="#5a5a68"/><circle cx="532.20" cy="72.20" r="0.68" fill="#5a5a68"/><circle cx="493.95" cy="77.10" r="0.68" fill="#5a5a68"/><circle cx="499.05" cy="77.10" r="0.68" fill="#5a5a68"/><circle cx="504.15" cy="77.10" r="0.68" fill="#5a5a68"/><circle cx="509.25" cy="77.10" r="0.68" fill="#5a5a68"/><circle cx="514.35" cy="77.10" r="0.68" fill="#5a5a68"/><circle cx="519.45" cy="77.10" r="0.68" fill="#5a5a68"/><circle cx="524.55" cy="77.10" r="0.68" fill="#5a5a68"/><circle cx="529.65" cy="77.10" r="0.68" fill="#5a5a68"/><circle cx="501.60" cy="82.00" r="0.68" fill="#5a5a68"/><circle cx="506.70" cy="82.00" r="0.68" fill="#5a5a68"/><circle cx="511.80" cy="82.00" r="0.68" fill="#5a5a68"/><circle cx="516.90" cy="82.00" r="0.68" fill="#5a5a68"/><circle cx="522.00" cy="82.00" r="0.68" fill="#5a5a68"/></g>
<circle cx="511.80" cy="65.00" r="31.00" fill="none" stroke="#555" stroke-width="0.5"/>
<text x="475.65" y="110.40" font-size="8.35" font-weight="bold" text-anchor="middle" fill="#111" >100 ms - 150 ms</text>
<rect x="449.7" y="119.4" width="53.4" height="2.0" fill="url(#cb1)"/>
<line x1="449.7" y1="121.4" x2="503.1" y2="121.4" stroke="#555" stroke-width="0.35"/>
<text x="450.30" y="126.60" font-size="4.60" font-weight="normal" text-anchor="middle" fill="#222" >-5 µV</text>
<text x="476.50" y="126.60" font-size="4.60" font-weight="normal" text-anchor="middle" fill="#222" >0 µV</text>
<text x="502.20" y="126.60" font-size="4.60" font-weight="normal" text-anchor="middle" fill="#222" >5 µV</text>
<line x1="437.7" y1="129.3" x2="514.7" y2="129.3" stroke="#e6e6e6" stroke-width="0.6"/>
<text x="588.40" y="134.20" font-size="13.30" font-weight="bold" text-anchor="start" fill="#000" >Legend</text>
<rect x="587.6" y="135.7" width="48.6" height="1.3" fill="#000"/>
<rect x="588.6" y="143.0" width="32.8" height="15.5" fill="#ff1f00"/>
<rect x="589.8" y="163.8" width="32.3" height="15.6" fill="#000"/>
<text x="627.20" y="154.80" font-size="12.00" font-weight="normal" text-anchor="start" fill="#222" >Oddball</text>
<text x="627.20" y="175.20" font-size="12.00" font-weight="normal" text-anchor="start" fill="#222" >Standard</text>
<text x="4.50" y="171.30" font-size="16.00" font-weight="bold" text-anchor="start" fill="#000" >C</text>
<text x="25.50" y="209.60" font-size="8.60" font-weight="bold" text-anchor="start" fill="#111" >forward</text>
<text x="25.50" y="220.40" font-size="8.60" font-weight="bold" text-anchor="start" fill="#111" >blocks</text>
<text x="25.50" y="316.50" font-size="8.60" font-weight="bold" text-anchor="start" fill="#111" >reverse</text>
<text x="25.50" y="327.50" font-size="8.60" font-weight="bold" text-anchor="start" fill="#111" >blocks</text>
<line x1="30.2" y1="266.5" x2="443.2" y2="266.5" stroke="#5e5e5e" stroke-width="1.25"/>
<rect x="108.70" y="178.80" width="5.10" height="66.90" fill="#ebebeb"/>
<line x1="101.40" y1="159.40" x2="101.40" y2="263.50" stroke="#999" stroke-width="0.55"/>
<line x1="75.10" y1="212.30" x2="178.00" y2="212.30" stroke="#999" stroke-width="0.55"/>
<line x1="100.20" y1="170.30" x2="101.40" y2="170.30" stroke="#999" stroke-width="0.4"/>
<text x="99.80" y="171.35" font-size="3.00" font-weight="normal" text-anchor="end" fill="#555" >-5</text>
<line x1="100.20" y1="178.70" x2="101.40" y2="178.70" stroke="#999" stroke-width="0.4"/>
<text x="99.80" y="179.75" font-size="3.00" font-weight="normal" text-anchor="end" fill="#555" >-4</text>
<line x1="100.20" y1="187.10" x2="101.40" y2="187.10" stroke="#999" stroke-width="0.4"/>
<text x="99.80" y="188.15" font-size="3.00" font-weight="normal" text-anchor="end" fill="#555" >-3</text>
<line x1="100.20" y1="195.50" x2="101.40" y2="195.50" stroke="#999" stroke-width="0.4"/>
<text x="99.80" y="196.55" font-size="3.00" font-weight="normal" text-anchor="end" fill="#555" >-2</text>
<line x1="100.20" y1="203.90" x2="101.40" y2="203.90" stroke="#999" stroke-width="0.4"/>
<text x="99.80" y="204.95" font-size="3.00" font-weight="normal" text-anchor="end" fill="#555" >-1</text>
<line x1="100.20" y1="212.30" x2="101.40" y2="212.30" stroke="#999" stroke-width="0.4"/>
<line x1="100.20" y1="220.70" x2="101.40" y2="220.70" stroke="#999" stroke-width="0.4"/>
<text x="99.80" y="221.75" font-size="3.00" font-weight="normal" text-anchor="end" fill="#555" >1</text>
<line x1="100.20" y1="229.10" x2="101.40" y2="229.10" stroke="#999" stroke-width="0.4"/>
<text x="99.80" y="230.15" font-size="3.00" font-weight="normal" text-anchor="end" fill="#555" >2</text>
<line x1="100.20" y1="237.50" x2="101.40" y2="237.50" stroke="#999" stroke-width="0.4"/>
<text x="99.80" y="238.55" font-size="3.00" font-weight="normal" text-anchor="end" fill="#555" >3</text>
<line x1="100.20" y1="245.90" x2="101.40" y2="245.90" stroke="#999" stroke-width="0.4"/>
<text x="99.80" y="246.95" font-size="3.00" font-weight="normal" text-anchor="end" fill="#555" >4</text>
<line x1="100.20" y1="254.30" x2="101.40" y2="254.30" stroke="#999" stroke-width="0.4"/>
<text x="99.80" y="255.35" font-size="3.00" font-weight="normal" text-anchor="end" fill="#555" >5</text>
<line x1="100.20" y1="262.70" x2="101.40" y2="262.70" stroke="#999" stroke-width="0.4"/>
<text x="99.80" y="263.75" font-size="3.00" font-weight="normal" text-anchor="end" fill="#555" >6</text>
<line x1="80.32" y1="212.30" x2="80.32" y2="213.30" stroke="#999" stroke-width="0.4"/>
<text x="80.32" y="216.05" font-size="3.00" font-weight="normal" text-anchor="middle" fill="#555" >-400</text>
<line x1="90.86" y1="212.30" x2="90.86" y2="213.30" stroke="#999" stroke-width="0.4"/>
<text x="90.86" y="216.05" font-size="3.00" font-weight="normal" text-anchor="middle" fill="#555" >-200</text>
<line x1="122.48" y1="212.30" x2="122.48" y2="213.30" stroke="#999" stroke-width="0.4"/>
<text x="122.48" y="216.05" font-size="3.00" font-weight="normal" text-anchor="middle" fill="#555" >400</text>
<line x1="133.02" y1="212.30" x2="133.02" y2="213.30" stroke="#999" stroke-width="0.4"/>
<text x="133.02" y="216.05" font-size="3.00" font-weight="normal" text-anchor="middle" fill="#555" >600</text>
<line x1="143.56" y1="212.30" x2="143.56" y2="213.30" stroke="#999" stroke-width="0.4"/>
<text x="143.56" y="216.05" font-size="3.00" font-weight="normal" text-anchor="middle" fill="#555" >800</text>
<line x1="154.10" y1="212.30" x2="154.10" y2="213.30" stroke="#999" stroke-width="0.4"/>
<text x="154.10" y="216.05" font-size="3.00" font-weight="normal" text-anchor="middle" fill="#555" >1000</text>
<line x1="164.64" y1="212.30" x2="164.64" y2="213.30" stroke="#999" stroke-width="0.4"/>
<text x="164.64" y="216.05" font-size="3.00" font-weight="normal" text-anchor="middle" fill="#555" >1200</text>
<text x="98.40" y="162.00" font-size="3.80" font-weight="bold" text-anchor="middle" fill="#333" >µV</text>
<text x="176.50" y="216.60" font-size="3.00" font-weight="bold" text-anchor="middle" fill="#333" >ms</text>
<path d="M75.10,212.20 L76.30,212.77 L77.50,211.99 L78.70,211.88 L79.90,211.98 L81.10,212.85 L82.30,212.45 L83.50,212.62 L84.70,211.93 L85.90,211.66 L87.10,212.36 L88.30,212.51 L89.50,212.86 L90.70,212.60 L91.90,212.54 L93.10,212.04 L94.30,211.81 L95.50,211.40 L96.70,211.36 L97.90,211.80 L99.10,212.26 L100.30,212.75 L101.50,212.86 L102.70,213.21 L103.90,213.27 L104.80,212.30 L105.60,210.00 L106.40,201.00 L107.10,195.00 L107.70,194.00 L108.40,198.00 L109.10,212.00 L110.30,228.00 L111.80,239.00 L113.50,228.00 L115.00,218.00 L116.40,212.00 L117.50,200.00 L118.50,195.00 L119.50,193.20 L121.00,195.50 L122.50,200.00 L124.30,203.60 L127.00,206.00 L130.40,207.80 L133.00,208.60 L135.30,209.00 L137.70,207.60 L139.50,208.00 L141.30,208.80 L143.00,210.00 L145.00,211.50 L150.00,212.30 L160.00,212.50 L170.00,213.20 L178.00,213.50" fill="none" stroke="#1a1a1a" stroke-width="0.55" stroke-linejoin="round"/>
<path d="M75.10,210.88 L76.20,210.46 L77.30,210.93 L78.40,211.92 L79.50,211.10 L80.60,210.58 L81.70,210.59 L82.80,211.92 L83.90,211.12 L85.00,212.16 L86.10,212.54 L87.20,211.43 L88.30,211.82 L89.40,211.82 L90.50,211.73 L91.60,213.13 L92.70,211.65 L93.80,210.65 L94.90,212.40 L96.00,212.02 L97.10,211.30 L98.20,211.24 L99.30,211.29 L100.40,212.79 L101.50,211.76 L102.60,211.20 L103.70,211.82 L104.80,212.06 L104.80,212.00 L105.60,209.00 L106.40,199.00 L107.10,193.50 L107.80,193.00 L108.40,197.00 L109.10,212.00 L110.30,228.00 L111.60,239.50 L113.00,230.00 L114.50,220.00 L116.00,213.00 L117.50,207.00 L119.50,202.00 L121.60,198.00 L123.50,199.50 L125.50,200.80 L127.50,202.50 L129.20,203.90 L130.40,203.09 L131.60,203.20 L132.80,203.38 L134.00,204.20 L135.25,203.48 L136.50,203.20 L137.75,203.79 L139.00,203.50 L141.30,203.20 L142.55,205.05 L143.80,206.90 L145.50,206.00 L147.40,206.90 L149.50,206.50 L151.70,205.20 L153.20,207.04 L154.70,208.40 L157.00,208.00 L158.27,207.89 L159.53,208.68 L160.80,209.00 L162.40,209.63 L164.00,209.50 L165.45,208.98 L166.90,208.40 L168.45,209.69 L170.00,210.00 L171.50,210.87 L173.00,210.90 L174.25,209.56 L175.50,208.50 L177.80,207.80" fill="none" stroke="#ee1c24" stroke-width="0.6" stroke-linejoin="round"/>
<text x="107.00" y="170.50" font-size="11.40" font-weight="bold" text-anchor="start" fill="#000" letter-spacing="0.00">ASD</text>
<text x="133.60" y="228.80" font-size="7.70" font-weight="bold" text-anchor="middle" fill="#111" >oddball</text>
<text x="167.60" y="228.80" font-size="7.70" font-weight="bold" text-anchor="middle" fill="#111" >standard</text>
<g clip-path="url(#hc1)"><circle cx="134.20" cy="247.40" r="15.50" fill="#fff"/><circle cx="134.20" cy="247.40" r="15.50" fill="url(#bg1)" mask="url(#mk1)" opacity="1.00"/><ellipse cx="134.20" cy="232.40" rx="6.5" ry="4.5" fill="#fff" opacity="0.55" filter="url(#bl2)"/><g filter="url(#bl)"><ellipse cx="133.90" cy="250.40" rx="9.86" ry="14.60" fill="#ffdada"/><ellipse cx="133.90" cy="249.90" rx="9.21" ry="13.60" fill="#ffa0a0"/><ellipse cx="133.90" cy="249.40" rx="8.46" ry="12.50" fill="#ff5a5a"/><ellipse cx="133.90" cy="248.90" rx="7.53" ry="11.40" fill="#ff1c1c"/><ellipse cx="133.90" cy="248.40" rx="6.32" ry="9.80" fill="#ec0000"/><ellipse cx="133.90" cy="247.80" rx="4.65" ry="7.40" fill="#c80000"/><ellipse cx="133.90" cy="247.10" rx="3.16" ry="5.00" fill="#a00000"/><ellipse cx="133.90" cy="246.80" rx="1.86" ry="3.00" fill="#7c0000"/></g><circle cx="134.20" cy="233.70" r="0.35" fill="#444" opacity="0.55"/><circle cx="134.20" cy="237.79" r="0.35" fill="#444" opacity="0.55"/><circle cx="134.20" cy="242.75" r="0.35" fill="#444" opacity="0.55"/><circle cx="141.05" cy="235.54" r="0.35" fill="#444" opacity="0.55"/><circle cx="139.00" cy="239.08" r="0.35" fill="#444" opacity="0.55"/><circle cx="136.52" cy="243.37" r="0.35" fill="#444" opacity="0.55"/><circle cx="146.06" cy="240.55" r="0.35" fill="#444" opacity="0.55"/><circle cx="142.52" cy="242.59" r="0.35" fill="#444" opacity="0.55"/><circle cx="138.23" cy="245.08" r="0.35" fill="#444" opacity="0.55"/><circle cx="147.90" cy="247.40" r="0.35" fill="#444" opacity="0.55"/><circle cx="143.81" cy="247.40" r="0.35" fill="#444" opacity="0.55"/><circle cx="138.85" cy="247.40" r="0.35" fill="#444" opacity="0.55"/><circle cx="146.06" cy="254.25" r="0.35" fill="#444" opacity="0.55"/><circle cx="142.52" cy="252.21" r="0.35" fill="#444" opacity="0.55"/><circle cx="138.23" cy="249.72" r="0.35" fill="#444" opacity="0.55"/><circle cx="141.05" cy="259.26" r="0.35" fill="#444" opacity="0.55"/><circle cx="139.00" cy="255.72" r="0.35" fill="#444" opacity="0.55"/><circle cx="136.52" cy="251.43" r="0.35" fill="#444" opacity="0.55"/><circle cx="134.20" cy="261.10" r="0.35" fill="#444" opacity="0.55"/><circle cx="134.20" cy="257.01" r="0.35" fill="#444" opacity="0.55"/><circle cx="134.20" cy="252.05" r="0.35" fill="#444" opacity="0.55"/><circle cx="127.35" cy="259.26" r="0.35" fill="#444" opacity="0.55"/><circle cx="129.39" cy="255.72" r="0.35" fill="#444" opacity="0.55"/><circle cx="131.88" cy="251.43" r="0.35" fill="#444" opacity="0.55"/><circle cx="122.34" cy="254.25" r="0.35" fill="#444" opacity="0.55"/><circle cx="125.88" cy="252.21" r="0.35" fill="#444" opacity="0.55"/><circle cx="130.17" cy="249.72" r="0.35" fill="#444" opacity="0.55"/><circle cx="120.50" cy="247.40" r="0.35" fill="#444" opacity="0.55"/><circle cx="124.59" cy="247.40" r="0.35" fill="#444" opacity="0.55"/><circle cx="129.55" cy="247.40" r="0.35" fill="#444" opacity="0.55"/><circle cx="122.34" cy="240.55" r="0.35" fill="#444" opacity="0.55"/><circle cx="125.88" cy="242.59" r="0.35" fill="#444" opacity="0.55"/><circle cx="130.17" cy="245.08" r="0.35" fill="#444" opacity="0.55"/><circle cx="127.35" cy="235.54" r="0.35" fill="#444" opacity="0.55"/><circle cx="129.39" cy="239.08" r="0.35" fill="#444" opacity="0.55"/><circle cx="131.88" cy="243.37" r="0.35" fill="#444" opacity="0.55"/></g>
<circle cx="134.20" cy="247.40" r="15.50" fill="none" stroke="#666" stroke-width="0.45"/>
<path d="M132.40,232.10 C132.80,228.90 135.60,228.90 136.00,232.10" fill="none" stroke="#777" stroke-width="0.4"/>
<g clip-path="url(#hc2)"><circle cx="167.70" cy="247.40" r="15.50" fill="#fff"/><circle cx="167.70" cy="247.40" r="15.50" fill="url(#bg2)" mask="url(#mk2)" opacity="1.00"/><ellipse cx="167.70" cy="232.40" rx="6.5" ry="4.5" fill="#fff" opacity="0.55" filter="url(#bl2)"/><g filter="url(#bl)"><ellipse cx="167.40" cy="250.40" rx="9.86" ry="14.60" fill="#ffdada"/><ellipse cx="167.40" cy="249.90" rx="9.21" ry="13.60" fill="#ffa0a0"/><ellipse cx="167.40" cy="249.40" rx="8.46" ry="12.50" fill="#ff5a5a"/><ellipse cx="167.40" cy="248.90" rx="7.53" ry="11.40" fill="#ff1c1c"/><ellipse cx="167.40" cy="248.40" rx="6.32" ry="9.80" fill="#ec0000"/><ellipse cx="167.40" cy="247.80" rx="4.65" ry="7.40" fill="#c80000"/><ellipse cx="167.40" cy="247.10" rx="3.16" ry="5.00" fill="#a00000"/><ellipse cx="167.40" cy="246.80" rx="1.86" ry="3.00" fill="#7c0000"/></g><circle cx="167.70" cy="233.70" r="0.35" fill="#444" opacity="0.55"/><circle cx="167.70" cy="237.79" r="0.35" fill="#444" opacity="0.55"/><circle cx="167.70" cy="242.75" r="0.35" fill="#444" opacity="0.55"/><circle cx="174.55" cy="235.54" r="0.35" fill="#444" opacity="0.55"/><circle cx="172.50" cy="239.08" r="0.35" fill="#444" opacity="0.55"/><circle cx="170.02" cy="243.37" r="0.35" fill="#444" opacity="0.55"/><circle cx="179.56" cy="240.55" r="0.35" fill="#444" opacity="0.55"/><circle cx="176.02" cy="242.59" r="0.35" fill="#444" opacity="0.55"/><circle cx="171.73" cy="245.08" r="0.35" fill="#444" opacity="0.55"/><circle cx="181.40" cy="247.40" r="0.35" fill="#444" opacity="0.55"/><circle cx="177.31" cy="247.40" r="0.35" fill="#444" opacity="0.55"/><circle cx="172.35" cy="247.40" r="0.35" fill="#444" opacity="0.55"/><circle cx="179.56" cy="254.25" r="0.35" fill="#444" opacity="0.55"/><circle cx="176.02" cy="252.21" r="0.35" fill="#444" opacity="0.55"/><circle cx="171.73" cy="249.72" r="0.35" fill="#444" opacity="0.55"/><circle cx="174.55" cy="259.26" r="0.35" fill="#444" opacity="0.55"/><circle cx="172.50" cy="255.72" r="0.35" fill="#444" opacity="0.55"/><circle cx="170.02" cy="251.43" r="0.35" fill="#444" opacity="0.55"/><circle cx="167.70" cy="261.10" r="0.35" fill="#444" opacity="0.55"/><circle cx="167.70" cy="257.01" r="0.35" fill="#444" opacity="0.55"/><circle cx="167.70" cy="252.05" r="0.35" fill="#444" opacity="0.55"/><circle cx="160.85" cy="259.26" r="0.35" fill="#444" opacity="0.55"/><circle cx="162.89" cy="255.72" r="0.35" fill="#444" opacity="0.55"/><circle cx="165.38" cy="251.43" r="0.35" fill="#444" opacity="0.55"/><circle cx="155.84" cy="254.25" r="0.35" fill="#444" opacity="0.55"/><circle cx="159.38" cy="252.21" r="0.35" fill="#444" opacity="0.55"/><circle cx="163.67" cy="249.72" r="0.35" fill="#444" opacity="0.55"/><circle cx="154.00" cy="247.40" r="0.35" fill="#444" opacity="0.55"/><circle cx="158.09" cy="247.40" r="0.35" fill="#444" opacity="0.55"/><circle cx="163.05" cy="247.40" r="0.35" fill="#444" opacity="0.55"/><circle cx="155.84" cy="240.55" r="0.35" fill="#444" opacity="0.55"/><circle cx="159.38" cy="242.59" r="0.35" fill="#444" opacity="0.55"/><circle cx="163.67" cy="245.08" r="0.35" fill="#444" opacity="0.55"/><circle cx="160.85" cy="235.54" r="0.35" fill="#444" opacity="0.55"/><circle cx="162.89" cy="239.08" r="0.35" fill="#444" opacity="0.55"/><circle cx="165.38" cy="243.37" r="0.35" fill="#444" opacity="0.55"/></g>
<circle cx="167.70" cy="247.40" r="15.50" fill="none" stroke="#666" stroke-width="0.45"/>
<path d="M165.90,232.10 C166.30,228.90 169.10,228.90 169.50,232.10" fill="none" stroke="#777" stroke-width="0.4"/>
<rect x="240.00" y="179.30" width="5.50" height="66.70" fill="#ebebeb"/>
<line x1="232.40" y1="159.40" x2="232.40" y2="263.50" stroke="#999" stroke-width="0.55"/>
<line x1="205.80" y1="212.30" x2="311.20" y2="212.30" stroke="#999" stroke-width="0.55"/>
<line x1="231.20" y1="170.30" x2="232.40" y2="170.30" stroke="#999" stroke-width="0.4"/>
<text x="230.80" y="171.35" font-size="3.00" font-weight="normal" text-anchor="end" fill="#555" >-5</text>
<line x1="231.20" y1="178.70" x2="232.40" y2="178.70" stroke="#999" stroke-width="0.4"/>
<text x="230.80" y="179.75" font-size="3.00" font-weight="normal" text-anchor="end" fill="#555" >-4</text>
<line x1="231.20" y1="187.10" x2="232.40" y2="187.10" stroke="#999" stroke-width="0.4"/>
<text x="230.80" y="188.15" font-size="3.00" font-weight="normal" text-anchor="end" fill="#555" >-3</text>
<line x1="231.20" y1="195.50" x2="232.40" y2="195.50" stroke="#999" stroke-width="0.4"/>
<text x="230.80" y="196.55" font-size="3.00" font-weight="normal" text-anchor="end" fill="#555" >-2</text>
<line x1="231.20" y1="203.90" x2="232.40" y2="203.90" stroke="#999" stroke-width="0.4"/>
<text x="230.80" y="204.95" font-size="3.00" font-weight="normal" text-anchor="end" fill="#555" >-1</text>
<line x1="231.20" y1="212.30" x2="232.40" y2="212.30" stroke="#999" stroke-width="0.4"/>
<line x1="231.20" y1="220.70" x2="232.40" y2="220.70" stroke="#999" stroke-width="0.4"/>
<text x="230.80" y="221.75" font-size="3.00" font-weight="normal" text-anchor="end" fill="#555" >1</text>
<line x1="231.20" y1="229.10" x2="232.40" y2="229.10" stroke="#999" stroke-width="0.4"/>
<text x="230.80" y="230.15" font-size="3.00" font-weight="normal" text-anchor="end" fill="#555" >2</text>
<line x1="231.20" y1="237.50" x2="232.40" y2="237.50" stroke="#999" stroke-width="0.4"/>
<text x="230.80" y="238.55" font-size="3.00" font-weight="normal" text-anchor="end" fill="#555" >3</text>
<line x1="231.20" y1="245.90" x2="232.40" y2="245.90" stroke="#999" stroke-width="0.4"/>
<text x="230.80" y="246.95" font-size="3.00" font-weight="normal" text-anchor="end" fill="#555" >4</text>
<line x1="231.20" y1="254.30" x2="232.40" y2="254.30" stroke="#999" stroke-width="0.4"/>
<text x="230.80" y="255.35" font-size="3.00" font-weight="normal" text-anchor="end" fill="#555" >5</text>
<line x1="231.20" y1="262.70" x2="232.40" y2="262.70" stroke="#999" stroke-width="0.4"/>
<text x="230.80" y="263.75" font-size="3.00" font-weight="normal" text-anchor="end" fill="#555" >6</text>
<line x1="211.32" y1="212.30" x2="211.32" y2="213.30" stroke="#999" stroke-width="0.4"/>
<text x="211.32" y="216.05" font-size="3.00" font-weight="normal" text-anchor="middle" fill="#555" >-400</text>
<line x1="221.86" y1="212.30" x2="221.86" y2="213.30" stroke="#999" stroke-width="0.4"/>
<text x="221.86" y="216.05" font-size="3.00" font-weight="normal" text-anchor="middle" fill="#555" >-200</text>
<line x1="253.48" y1="212.30" x2="253.48" y2="213.30" stroke="#999" stroke-width="0.4"/>
<text x="253.48" y="216.05" font-size="3.00" font-weight="normal" text-anchor="middle" fill="#555" >400</text>
<line x1="264.02" y1="212.30" x2="264.02" y2="213.30" stroke="#999" stroke-width="0.4"/>
<text x="264.02" y="216.05" font-size="3.00" font-weight="normal" text-anchor="middle" fill="#555" >600</text>
<line x1="274.56" y1="212.30" x2="274.56" y2="213.30" stroke="#999" stroke-width="0.4"/>
<text x="274.56" y="216.05" font-size="3.00" font-weight="normal" text-anchor="middle" fill="#555" >800</text>
<line x1="285.10" y1="212.30" x2="285.10" y2="213.30" stroke="#999" stroke-width="0.4"/>
<text x="285.10" y="216.05" font-size="3.00" font-weight="normal" text-anchor="middle" fill="#555" >1000</text>
<line x1="295.64" y1="212.30" x2="295.64" y2="213.30" stroke="#999" stroke-width="0.4"/>
<text x="295.64" y="216.05" font-size="3.00" font-weight="normal" text-anchor="middle" fill="#555" >1200</text>
<text x="229.40" y="162.00" font-size="3.80" font-weight="bold" text-anchor="middle" fill="#333" >µV</text>
<text x="309.70" y="216.60" font-size="3.00" font-weight="bold" text-anchor="middle" fill="#333" >ms</text>
<path d="M205.80,212.53 L207.00,211.76 L208.20,212.55 L209.40,212.01 L210.60,212.55 L211.80,211.73 L213.00,211.71 L214.20,212.16 L215.40,212.61 L216.60,213.20 L217.80,212.74 L219.00,212.26 L220.20,212.13 L221.40,212.68 L222.60,213.10 L223.80,212.33 L225.00,212.77 L226.20,212.43 L227.40,212.02 L228.60,212.63 L229.80,212.18 L231.00,212.39 L232.20,212.06 L233.40,211.89 L234.60,211.63 L235.80,212.57 L236.00,212.30 L237.00,207.00 L238.40,191.00 L239.50,196.00 L240.30,212.00 L241.20,228.00 L242.20,236.50 L243.50,228.00 L245.00,215.00 L246.50,200.00 L248.00,192.00 L249.60,190.00 L251.00,193.50 L253.00,199.50 L255.80,203.30 L258.70,205.20 L262.50,206.10 L267.20,208.00 L271.90,209.90 L275.70,209.90 L279.50,210.80 L283.30,212.20 L290.00,212.50 L300.00,212.80 L311.00,213.00" fill="none" stroke="#1a1a1a" stroke-width="0.55" stroke-linejoin="round"/>
<path d="M205.80,211.80 L206.90,211.26 L208.00,210.80 L209.10,212.42 L210.20,212.47 L211.30,212.78 L212.40,212.61 L213.50,212.09 L214.60,212.67 L215.70,212.61 L216.80,213.08 L217.90,213.04 L219.00,213.47 L220.10,212.70 L221.20,211.57 L222.30,210.93 L223.40,212.02 L224.50,211.22 L225.60,212.00 L226.70,212.35 L227.80,211.14 L228.90,212.28 L230.00,211.03 L231.10,212.43 L232.20,213.13 L233.30,211.96 L234.40,212.59 L235.50,212.95 L236.00,212.00 L237.00,205.00 L238.60,188.80 L239.50,195.00 L240.30,212.00 L241.20,230.00 L242.20,239.50 L243.30,232.00 L244.50,222.00 L246.00,212.50 L247.30,205.20 L248.75,202.95 L250.20,200.40 L251.60,198.48 L253.00,197.60 L254.40,196.70 L255.80,196.30 L257.70,196.50 L259.15,197.45 L260.60,199.00 L262.50,202.50 L264.50,203.50 L266.50,203.00 L268.50,203.50 L270.50,203.00 L272.50,204.00 L273.50,206.00 L274.75,206.26 L276.00,206.00 L277.75,206.29 L279.50,206.20 L281.50,208.00 L283.30,209.00 L285.50,209.50 L287.00,210.00 L289.00,211.00 L290.90,211.80 L292.50,211.00 L294.60,210.80 L296.50,212.00 L298.00,212.70 L299.50,213.53 L301.00,213.50 L303.00,214.00 L304.50,213.85 L306.00,214.60 L308.00,213.50 L309.80,214.00 L311.00,213.00" fill="none" stroke="#ee1c24" stroke-width="0.6" stroke-linejoin="round"/>
<text x="238.00" y="170.50" font-size="11.50" font-weight="bold" text-anchor="start" fill="#000" letter-spacing="0.90">CON</text>
<text x="263.90" y="228.80" font-size="7.70" font-weight="bold" text-anchor="middle" fill="#111" >oddball</text>
<text x="297.30" y="228.80" font-size="7.70" font-weight="bold" text-anchor="middle" fill="#111" >standard</text>
<g clip-path="url(#hc3)"><circle cx="264.50" cy="247.40" r="15.50" fill="#fff"/><circle cx="264.50" cy="247.40" r="15.50" fill="url(#bg3)" mask="url(#mk3)" opacity="1.00"/><ellipse cx="264.50" cy="232.40" rx="6.5" ry="4.5" fill="#fff" opacity="0.55" filter="url(#bl2)"/><g filter="url(#bl)"><ellipse cx="264.20" cy="250.40" rx="9.86" ry="14.60" fill="#ffdada"/><ellipse cx="264.20" cy="249.90" rx="9.21" ry="13.60" fill="#ffa0a0"/><ellipse cx="264.20" cy="249.40" rx="8.46" ry="12.50" fill="#ff5a5a"/><ellipse cx="264.20" cy="248.90" rx="7.53" ry="11.40" fill="#ff1c1c"/><ellipse cx="264.20" cy="248.40" rx="6.32" ry="9.80" fill="#ec0000"/><ellipse cx="264.20" cy="247.80" rx="4.65" ry="7.40" fill="#c80000"/><ellipse cx="264.20" cy="247.10" rx="3.16" ry="5.00" fill="#a00000"/><ellipse cx="264.20" cy="246.80" rx="1.86" ry="3.00" fill="#7c0000"/></g><circle cx="264.50" cy="233.70" r="0.35" fill="#444" opacity="0.55"/><circle cx="264.50" cy="237.79" r="0.35" fill="#444" opacity="0.55"/><circle cx="264.50" cy="242.75" r="0.35" fill="#444" opacity="0.55"/><circle cx="271.35" cy="235.54" r="0.35" fill="#444" opacity="0.55"/><circle cx="269.31" cy="239.08" r="0.35" fill="#444" opacity="0.55"/><circle cx="266.82" cy="243.37" r="0.35" fill="#444" opacity="0.55"/><circle cx="276.36" cy="240.55" r="0.35" fill="#444" opacity="0.55"/><circle cx="272.82" cy="242.59" r="0.35" fill="#444" opacity="0.55"/><circle cx="268.53" cy="245.08" r="0.35" fill="#444" opacity="0.55"/><circle cx="278.20" cy="247.40" r="0.35" fill="#444" opacity="0.55"/><circle cx="274.11" cy="247.40" r="0.35" fill="#444" opacity="0.55"/><circle cx="269.15" cy="247.40" r="0.35" fill="#444" opacity="0.55"/><circle cx="276.36" cy="254.25" r="0.35" fill="#444" opacity="0.55"/><circle cx="272.82" cy="252.21" r="0.35" fill="#444" opacity="0.55"/><circle cx="268.53" cy="249.72" r="0.35" fill="#444" opacity="0.55"/><circle cx="271.35" cy="259.26" r="0.35" fill="#444" opacity="0.55"/><circle cx="269.31" cy="255.72" r="0.35" fill="#444" opacity="0.55"/><circle cx="266.82" cy="251.43" r="0.35" fill="#444" opacity="0.55"/><circle cx="264.50" cy="261.10" r="0.35" fill="#444" opacity="0.55"/><circle cx="264.50" cy="257.01" r="0.35" fill="#444" opacity="0.55"/><circle cx="264.50" cy="252.05" r="0.35" fill="#444" opacity="0.55"/><circle cx="257.65" cy="259.26" r="0.35" fill="#444" opacity="0.55"/><circle cx="259.69" cy="255.72" r="0.35" fill="#444" opacity="0.55"/><circle cx="262.18" cy="251.43" r="0.35" fill="#444" opacity="0.55"/><circle cx="252.64" cy="254.25" r="0.35" fill="#444" opacity="0.55"/><circle cx="256.18" cy="252.21" r="0.35" fill="#444" opacity="0.55"/><circle cx="260.47" cy="249.72" r="0.35" fill="#444" opacity="0.55"/><circle cx="250.80" cy="247.40" r="0.35" fill="#444" opacity="0.55"/><circle cx="254.89" cy="247.40" r="0.35" fill="#444" opacity="0.55"/><circle cx="259.85" cy="247.40" r="0.35" fill="#444" opacity="0.55"/><circle cx="252.64" cy="240.55" r="0.35" fill="#444" opacity="0.55"/><circle cx="256.18" cy="242.59" r="0.35" fill="#444" opacity="0.55"/><circle cx="260.47" cy="245.08" r="0.35" fill="#444" opacity="0.55"/><circle cx="257.65" cy="235.54" r="0.35" fill="#444" opacity="0.55"/><circle cx="259.69" cy="239.08" r="0.35" fill="#444" opacity="0.55"/><circle cx="262.18" cy="243.37" r="0.35" fill="#444" opacity="0.55"/></g>
<circle cx="264.50" cy="247.40" r="15.50" fill="none" stroke="#666" stroke-width="0.45"/>
<path d="M262.70,232.10 C263.10,228.90 265.90,228.90 266.30,232.10" fill="none" stroke="#777" stroke-width="0.4"/>
<g clip-path="url(#hc4)"><circle cx="297.40" cy="247.40" r="15.50" fill="#fff"/><circle cx="297.40" cy="247.40" r="15.50" fill="url(#bg4)" mask="url(#mk4)" opacity="1.00"/><ellipse cx="297.40" cy="232.40" rx="6.5" ry="4.5" fill="#fff" opacity="0.55" filter="url(#bl2)"/><g filter="url(#bl)"><ellipse cx="297.10" cy="250.40" rx="9.86" ry="14.60" fill="#ffdada"/><ellipse cx="297.10" cy="249.90" rx="9.21" ry="13.60" fill="#ffa0a0"/><ellipse cx="297.10" cy="249.40" rx="8.46" ry="12.50" fill="#ff5a5a"/><ellipse cx="297.10" cy="248.90" rx="7.53" ry="11.40" fill="#ff1c1c"/><ellipse cx="297.10" cy="248.40" rx="6.32" ry="9.80" fill="#ec0000"/><ellipse cx="297.10" cy="247.80" rx="4.65" ry="7.40" fill="#c80000"/><ellipse cx="297.10" cy="247.10" rx="3.16" ry="5.00" fill="#a00000"/><ellipse cx="297.10" cy="246.80" rx="1.86" ry="3.00" fill="#7c0000"/></g><circle cx="297.40" cy="233.70" r="0.35" fill="#444" opacity="0.55"/><circle cx="297.40" cy="237.79" r="0.35" fill="#444" opacity="0.55"/><circle cx="297.40" cy="242.75" r="0.35" fill="#444" opacity="0.55"/><circle cx="304.25" cy="235.54" r="0.35" fill="#444" opacity="0.55"/><circle cx="302.20" cy="239.08" r="0.35" fill="#444" opacity="0.55"/><circle cx="299.72" cy="243.37" r="0.35" fill="#444" opacity="0.55"/><circle cx="309.26" cy="240.55" r="0.35" fill="#444" opacity="0.55"/><circle cx="305.72" cy="242.59" r="0.35" fill="#444" opacity="0.55"/><circle cx="301.43" cy="245.08" r="0.35" fill="#444" opacity="0.55"/><circle cx="311.10" cy="247.40" r="0.35" fill="#444" opacity="0.55"/><circle cx="307.01" cy="247.40" r="0.35" fill="#444" opacity="0.55"/><circle cx="302.05" cy="247.40" r="0.35" fill="#444" opacity="0.55"/><circle cx="309.26" cy="254.25" r="0.35" fill="#444" opacity="0.55"/><circle cx="305.72" cy="252.21" r="0.35" fill="#444" opacity="0.55"/><circle cx="301.43" cy="249.72" r="0.35" fill="#444" opacity="0.55"/><circle cx="304.25" cy="259.26" r="0.35" fill="#444" opacity="0.55"/><circle cx="302.20" cy="255.72" r="0.35" fill="#444" opacity="0.55"/><circle cx="299.72" cy="251.43" r="0.35" fill="#444" opacity="0.55"/><circle cx="297.40" cy="261.10" r="0.35" fill="#444" opacity="0.55"/><circle cx="297.40" cy="257.01" r="0.35" fill="#444" opacity="0.55"/><circle cx="297.40" cy="252.05" r="0.35" fill="#444" opacity="0.55"/><circle cx="290.55" cy="259.26" r="0.35" fill="#444" opacity="0.55"/><circle cx="292.59" cy="255.72" r="0.35" fill="#444" opacity="0.55"/><circle cx="295.07" cy="251.43" r="0.35" fill="#444" opacity="0.55"/><circle cx="285.54" cy="254.25" r="0.35" fill="#444" opacity="0.55"/><circle cx="289.08" cy="252.21" r="0.35" fill="#444" opacity="0.55"/><circle cx="293.37" cy="249.72" r="0.35" fill="#444" opacity="0.55"/><circle cx="283.70" cy="247.40" r="0.35" fill="#444" opacity="0.55"/><circle cx="287.79" cy="247.40" r="0.35" fill="#444" opacity="0.55"/><circle cx="292.75" cy="247.40" r="0.35" fill="#444" opacity="0.55"/><circle cx="285.54" cy="240.55" r="0.35" fill="#444" opacity="0.55"/><circle cx="289.08" cy="242.59" r="0.35" fill="#444" opacity="0.55"/><circle cx="293.37" cy="245.08" r="0.35" fill="#444" opacity="0.55"/><circle cx="290.55" cy="235.54" r="0.35" fill="#444" opacity="0.55"/><circle cx="292.59" cy="239.08" r="0.35" fill="#444" opacity="0.55"/><circle cx="295.07" cy="243.37" r="0.35" fill="#444" opacity="0.55"/></g>
<circle cx="297.40" cy="247.40" r="15.50" fill="none" stroke="#666" stroke-width="0.45"/>
<path d="M295.60,232.10 C296.00,228.90 298.80,228.90 299.20,232.10" fill="none" stroke="#777" stroke-width="0.4"/>
<rect x="365.00" y="178.20" width="5.80" height="66.80" fill="#ebebeb"/>
<line x1="357.00" y1="159.40" x2="357.00" y2="263.50" stroke="#999" stroke-width="0.55"/>
<line x1="332.00" y1="211.80" x2="435.60" y2="211.80" stroke="#999" stroke-width="0.55"/>
<line x1="355.80" y1="169.80" x2="357.00" y2="169.80" stroke="#999" stroke-width="0.4"/>
<text x="355.40" y="170.85" font-size="3.00" font-weight="normal" text-anchor="end" fill="#555" >-5</text>
<line x1="355.80" y1="178.20" x2="357.00" y2="178.20" stroke="#999" stroke-width="0.4"/>
<text x="355.40" y="179.25" font-size="3.00" font-weight="normal" text-anchor="end" fill="#555" >-4</text>
<line x1="355.80" y1="186.60" x2="357.00" y2="186.60" stroke="#999" stroke-width="0.4"/>
<text x="355.40" y="187.65" font-size="3.00" font-weight="normal" text-anchor="end" fill="#555" >-3</text>
<line x1="355.80" y1="195.00" x2="357.00" y2="195.00" stroke="#999" stroke-width="0.4"/>
<text x="355.40" y="196.05" font-size="3.00" font-weight="normal" text-anchor="end" fill="#555" >-2</text>
<line x1="355.80" y1="203.40" x2="357.00" y2="203.40" stroke="#999" stroke-width="0.4"/>
<text x="355.40" y="204.45" font-size="3.00" font-weight="normal" text-anchor="end" fill="#555" >-1</text>
<line x1="355.80" y1="211.80" x2="357.00" y2="211.80" stroke="#999" stroke-width="0.4"/>
<line x1="355.80" y1="220.20" x2="357.00" y2="220.20" stroke="#999" stroke-width="0.4"/>
<text x="355.40" y="221.25" font-size="3.00" font-weight="normal" text-anchor="end" fill="#555" >1</text>
<line x1="355.80" y1="228.60" x2="357.00" y2="228.60" stroke="#999" stroke-width="0.4"/>
<text x="355.40" y="229.65" font-size="3.00" font-weight="normal" text-anchor="end" fill="#555" >2</text>
<line x1="355.80" y1="237.00" x2="357.00" y2="237.00" stroke="#999" stroke-width="0.4"/>
<text x="355.40" y="238.05" font-size="3.00" font-weight="normal" text-anchor="end" fill="#555" >3</text>
<line x1="355.80" y1="245.40" x2="357.00" y2="245.40" stroke="#999" stroke-width="0.4"/>
<text x="355.40" y="246.45" font-size="3.00" font-weight="normal" text-anchor="end" fill="#555" >4</text>
<line x1="355.80" y1="253.80" x2="357.00" y2="253.80" stroke="#999" stroke-width="0.4"/>
<text x="355.40" y="254.85" font-size="3.00" font-weight="normal" text-anchor="end" fill="#555" >5</text>
<line x1="355.80" y1="262.20" x2="357.00" y2="262.20" stroke="#999" stroke-width="0.4"/>
<text x="355.40" y="263.25" font-size="3.00" font-weight="normal" text-anchor="end" fill="#555" >6</text>
<line x1="335.92" y1="211.80" x2="335.92" y2="212.80" stroke="#999" stroke-width="0.4"/>
<text x="335.92" y="215.55" font-size="3.00" font-weight="normal" text-anchor="middle" fill="#555" >-400</text>
<line x1="346.46" y1="211.80" x2="346.46" y2="212.80" stroke="#999" stroke-width="0.4"/>
<text x="346.46" y="215.55" font-size="3.00" font-weight="normal" text-anchor="middle" fill="#555" >-200</text>
<line x1="378.08" y1="211.80" x2="378.08" y2="212.80" stroke="#999" stroke-width="0.4"/>
<text x="378.08" y="215.55" font-size="3.00" font-weight="normal" text-anchor="middle" fill="#555" >400</text>
<line x1="388.62" y1="211.80" x2="388.62" y2="212.80" stroke="#999" stroke-width="0.4"/>
<text x="388.62" y="215.55" font-size="3.00" font-weight="normal" text-anchor="middle" fill="#555" >600</text>
<line x1="399.16" y1="211.80" x2="399.16" y2="212.80" stroke="#999" stroke-width="0.4"/>
<text x="399.16" y="215.55" font-size="3.00" font-weight="normal" text-anchor="middle" fill="#555" >800</text>
<line x1="409.70" y1="211.80" x2="409.70" y2="212.80" stroke="#999" stroke-width="0.4"/>
<text x="409.70" y="215.55" font-size="3.00" font-weight="normal" text-anchor="middle" fill="#555" >1000</text>
<line x1="420.24" y1="211.80" x2="420.24" y2="212.80" stroke="#999" stroke-width="0.4"/>
<text x="420.24" y="215.55" font-size="3.00" font-weight="normal" text-anchor="middle" fill="#555" >1200</text>
<text x="354.00" y="162.00" font-size="3.80" font-weight="bold" text-anchor="middle" fill="#333" >µV</text>
<text x="434.10" y="216.10" font-size="3.00" font-weight="bold" text-anchor="middle" fill="#333" >ms</text>
<path d="M332.00,212.33 L333.20,212.74 L334.40,213.13 L335.60,212.83 L336.80,211.98 L338.00,212.75 L339.20,213.08 L340.40,212.71 L341.60,212.33 L342.80,212.30 L344.00,212.10 L345.20,212.54 L346.40,212.66 L347.60,212.63 L348.80,212.48 L350.00,212.36 L351.20,211.61 L352.40,211.47 L353.60,211.19 L354.80,212.14 L356.00,211.57 L357.20,211.63 L358.40,211.54 L359.60,211.66 L360.80,211.47 L361.30,211.80 L362.50,201.00 L364.00,187.00 L365.00,193.00 L366.00,212.00 L367.00,226.00 L368.00,233.80 L369.50,228.00 L371.00,215.00 L372.50,200.00 L374.00,192.00 L375.30,190.20 L376.80,193.00 L378.70,201.40 L380.50,205.00 L382.80,207.40 L386.00,209.00 L389.90,209.90 L395.00,210.80 L400.00,211.20 L406.10,211.50 L420.00,212.00 L435.50,212.30" fill="none" stroke="#1a1a1a" stroke-width="0.55" stroke-linejoin="round"/>
<path d="M332.00,210.96 L333.10,211.25 L334.20,210.56 L335.30,211.83 L336.40,211.06 L337.50,211.43 L338.60,212.57 L339.70,211.88 L340.80,212.92 L341.90,212.91 L343.00,212.44 L344.10,212.38 L345.20,212.25 L346.30,211.61 L347.40,212.85 L348.50,212.04 L349.60,213.05 L350.70,213.28 L351.80,211.35 L352.90,210.86 L354.00,211.13 L355.10,212.13 L356.20,211.09 L357.30,211.61 L358.40,211.27 L359.50,212.13 L360.60,212.96 L361.30,211.50 L362.50,200.00 L364.10,185.50 L365.00,192.00 L366.00,212.00 L367.60,224.70 L368.50,223.00 L370.00,221.60 L371.50,212.00 L372.50,205.00 L374.70,197.30 L376.50,195.50 L378.70,194.30 L380.30,196.50 L381.80,198.90 L383.80,199.50 L385.80,200.30 L387.80,202.00 L389.90,203.40 L392.00,202.50 L394.00,201.50 L396.00,201.40 L398.00,203.00 L400.00,204.40 L401.50,205.48 L403.00,205.50 L404.55,205.76 L406.10,207.00 L407.40,207.41 L408.70,207.32 L410.00,207.50 L411.40,208.29 L412.80,208.00 L414.20,208.40 L416.00,209.50 L418.30,210.50 L419.53,211.29 L420.77,210.79 L422.00,211.50 L423.47,212.24 L424.93,211.80 L426.40,212.10 L427.60,211.45 L428.80,211.33 L430.00,211.20 L431.50,211.64 L433.00,211.80 L434.25,211.04 L435.50,211.30" fill="none" stroke="#ee1c24" stroke-width="0.6" stroke-linejoin="round"/>
<text x="362.60" y="170.00" font-size="11.50" font-weight="bold" text-anchor="start" fill="#000" letter-spacing="0.70">MHC</text>
<text x="388.90" y="228.80" font-size="7.70" font-weight="bold" text-anchor="middle" fill="#111" >oddball</text>
<text x="422.20" y="228.80" font-size="7.70" font-weight="bold" text-anchor="middle" fill="#111" >standard</text>
<g clip-path="url(#hc5)"><circle cx="389.50" cy="247.40" r="15.50" fill="#fff"/><circle cx="389.50" cy="247.40" r="15.50" fill="url(#bg5)" mask="url(#mk5)" opacity="1.00"/><g filter="url(#bl)"><ellipse cx="389.20" cy="252.40" rx="10.04" ry="12.80" fill="#ffdada"/><ellipse cx="389.20" cy="252.40" rx="9.30" ry="11.80" fill="#ffa8a8"/><ellipse cx="389.20" cy="251.90" rx="8.18" ry="10.60" fill="#ff7070"/><ellipse cx="389.20" cy="250.90" rx="6.70" ry="9.30" fill="#ff4040"/><ellipse cx="389.20" cy="249.90" rx="5.12" ry="7.50" fill="#ff1a1a"/><ellipse cx="389.20" cy="248.60" rx="3.53" ry="5.00" fill="#f00000"/></g><circle cx="389.50" cy="233.70" r="0.35" fill="#444" opacity="0.55"/><circle cx="389.50" cy="237.79" r="0.35" fill="#444" opacity="0.55"/><circle cx="389.50" cy="242.75" r="0.35" fill="#444" opacity="0.55"/><circle cx="396.35" cy="235.54" r="0.35" fill="#444" opacity="0.55"/><circle cx="394.31" cy="239.08" r="0.35" fill="#444" opacity="0.55"/><circle cx="391.82" cy="243.37" r="0.35" fill="#444" opacity="0.55"/><circle cx="401.36" cy="240.55" r="0.35" fill="#444" opacity="0.55"/><circle cx="397.82" cy="242.59" r="0.35" fill="#444" opacity="0.55"/><circle cx="393.53" cy="245.08" r="0.35" fill="#444" opacity="0.55"/><circle cx="403.20" cy="247.40" r="0.35" fill="#444" opacity="0.55"/><circle cx="399.11" cy="247.40" r="0.35" fill="#444" opacity="0.55"/><circle cx="394.15" cy="247.40" r="0.35" fill="#444" opacity="0.55"/><circle cx="401.36" cy="254.25" r="0.35" fill="#444" opacity="0.55"/><circle cx="397.82" cy="252.21" r="0.35" fill="#444" opacity="0.55"/><circle cx="393.53" cy="249.72" r="0.35" fill="#444" opacity="0.55"/><circle cx="396.35" cy="259.26" r="0.35" fill="#444" opacity="0.55"/><circle cx="394.31" cy="255.72" r="0.35" fill="#444" opacity="0.55"/><circle cx="391.82" cy="251.43" r="0.35" fill="#444" opacity="0.55"/><circle cx="389.50" cy="261.10" r="0.35" fill="#444" opacity="0.55"/><circle cx="389.50" cy="257.01" r="0.35" fill="#444" opacity="0.55"/><circle cx="389.50" cy="252.05" r="0.35" fill="#444" opacity="0.55"/><circle cx="382.65" cy="259.26" r="0.35" fill="#444" opacity="0.55"/><circle cx="384.69" cy="255.72" r="0.35" fill="#444" opacity="0.55"/><circle cx="387.18" cy="251.43" r="0.35" fill="#444" opacity="0.55"/><circle cx="377.64" cy="254.25" r="0.35" fill="#444" opacity="0.55"/><circle cx="381.18" cy="252.21" r="0.35" fill="#444" opacity="0.55"/><circle cx="385.47" cy="249.72" r="0.35" fill="#444" opacity="0.55"/><circle cx="375.80" cy="247.40" r="0.35" fill="#444" opacity="0.55"/><circle cx="379.89" cy="247.40" r="0.35" fill="#444" opacity="0.55"/><circle cx="384.85" cy="247.40" r="0.35" fill="#444" opacity="0.55"/><circle cx="377.64" cy="240.55" r="0.35" fill="#444" opacity="0.55"/><circle cx="381.18" cy="242.59" r="0.35" fill="#444" opacity="0.55"/><circle cx="385.47" cy="245.08" r="0.35" fill="#444" opacity="0.55"/><circle cx="382.65" cy="235.54" r="0.35" fill="#444" opacity="0.55"/><circle cx="384.69" cy="239.08" r="0.35" fill="#444" opacity="0.55"/><circle cx="387.18" cy="243.37" r="0.35" fill="#444" opacity="0.55"/></g>
<circle cx="389.50" cy="247.40" r="15.50" fill="none" stroke="#666" stroke-width="0.45"/>
<path d="M387.70,232.10 C388.10,228.90 390.90,228.90 391.30,232.10" fill="none" stroke="#777" stroke-width="0.4"/>
<g clip-path="url(#hc6)"><circle cx="422.30" cy="247.40" r="15.50" fill="#fff"/><circle cx="422.30" cy="247.40" r="15.50" fill="url(#bg6)" mask="url(#mk6)" opacity="0.60"/><ellipse cx="422.30" cy="232.40" rx="6.5" ry="4.5" fill="#fff" opacity="0.55" filter="url(#bl2)"/><g filter="url(#bl)"><ellipse cx="422.00" cy="250.40" rx="9.67" ry="13.60" fill="#ffdada"/><ellipse cx="422.00" cy="250.00" rx="9.02" ry="12.60" fill="#ffa4a4"/><ellipse cx="422.00" cy="249.60" rx="8.28" ry="11.60" fill="#ff6060"/><ellipse cx="422.00" cy="249.20" rx="7.35" ry="10.50" fill="#ff2a2a"/><ellipse cx="422.00" cy="248.60" rx="6.14" ry="9.00" fill="#f40000"/><ellipse cx="422.00" cy="248.00" rx="4.46" ry="6.80" fill="#dc0000"/><ellipse cx="422.00" cy="247.40" rx="2.79" ry="4.20" fill="#c00000"/></g><circle cx="422.30" cy="233.70" r="0.35" fill="#444" opacity="0.55"/><circle cx="422.30" cy="237.79" r="0.35" fill="#444" opacity="0.55"/><circle cx="422.30" cy="242.75" r="0.35" fill="#444" opacity="0.55"/><circle cx="429.15" cy="235.54" r="0.35" fill="#444" opacity="0.55"/><circle cx="427.11" cy="239.08" r="0.35" fill="#444" opacity="0.55"/><circle cx="424.62" cy="243.37" r="0.35" fill="#444" opacity="0.55"/><circle cx="434.16" cy="240.55" r="0.35" fill="#444" opacity="0.55"/><circle cx="430.62" cy="242.59" r="0.35" fill="#444" opacity="0.55"/><circle cx="426.33" cy="245.08" r="0.35" fill="#444" opacity="0.55"/><circle cx="436.00" cy="247.40" r="0.35" fill="#444" opacity="0.55"/><circle cx="431.91" cy="247.40" r="0.35" fill="#444" opacity="0.55"/><circle cx="426.95" cy="247.40" r="0.35" fill="#444" opacity="0.55"/><circle cx="434.16" cy="254.25" r="0.35" fill="#444" opacity="0.55"/><circle cx="430.62" cy="252.21" r="0.35" fill="#444" opacity="0.55"/><circle cx="426.33" cy="249.72" r="0.35" fill="#444" opacity="0.55"/><circle cx="429.15" cy="259.26" r="0.35" fill="#444" opacity="0.55"/><circle cx="427.11" cy="255.72" r="0.35" fill="#444" opacity="0.55"/><circle cx="424.62" cy="251.43" r="0.35" fill="#444" opacity="0.55"/><circle cx="422.30" cy="261.10" r="0.35" fill="#444" opacity="0.55"/><circle cx="422.30" cy="257.01" r="0.35" fill="#444" opacity="0.55"/><circle cx="422.30" cy="252.05" r="0.35" fill="#444" opacity="0.55"/><circle cx="415.45" cy="259.26" r="0.35" fill="#444" opacity="0.55"/><circle cx="417.50" cy="255.72" r="0.35" fill="#444" opacity="0.55"/><circle cx="419.98" cy="251.43" r="0.35" fill="#444" opacity="0.55"/><circle cx="410.44" cy="254.25" r="0.35" fill="#444" opacity="0.55"/><circle cx="413.98" cy="252.21" r="0.35" fill="#444" opacity="0.55"/><circle cx="418.27" cy="249.72" r="0.35" fill="#444" opacity="0.55"/><circle cx="408.60" cy="247.40" r="0.35" fill="#444" opacity="0.55"/><circle cx="412.69" cy="247.40" r="0.35" fill="#444" opacity="0.55"/><circle cx="417.65" cy="247.40" r="0.35" fill="#444" opacity="0.55"/><circle cx="410.44" cy="240.55" r="0.35" fill="#444" opacity="0.55"/><circle cx="413.98" cy="242.59" r="0.35" fill="#444" opacity="0.55"/><circle cx="418.27" cy="245.08" r="0.35" fill="#444" opacity="0.55"/><circle cx="415.45" cy="235.54" r="0.35" fill="#444" opacity="0.55"/><circle cx="417.50" cy="239.08" r="0.35" fill="#444" opacity="0.55"/><circle cx="419.98" cy="243.37" r="0.35" fill="#444" opacity="0.55"/></g>
<circle cx="422.30" cy="247.40" r="15.50" fill="none" stroke="#666" stroke-width="0.45"/>
<path d="M420.50,232.10 C420.90,228.90 423.70,228.90 424.10,232.10" fill="none" stroke="#777" stroke-width="0.4"/>
<rect x="108.50" y="283.00" width="5.30" height="67.00" fill="#ebebeb"/>
<line x1="101.40" y1="268.50" x2="101.40" y2="369.00" stroke="#999" stroke-width="0.55"/>
<line x1="76.10" y1="319.50" x2="177.40" y2="319.50" stroke="#999" stroke-width="0.55"/>
<line x1="100.20" y1="279.50" x2="101.40" y2="279.50" stroke="#999" stroke-width="0.4"/>
<text x="99.80" y="280.55" font-size="3.00" font-weight="normal" text-anchor="end" fill="#555" >-5</text>
<line x1="100.20" y1="287.50" x2="101.40" y2="287.50" stroke="#999" stroke-width="0.4"/>
<text x="99.80" y="288.55" font-size="3.00" font-weight="normal" text-anchor="end" fill="#555" >-4</text>
<line x1="100.20" y1="295.50" x2="101.40" y2="295.50" stroke="#999" stroke-width="0.4"/>
<text x="99.80" y="296.55" font-size="3.00" font-weight="normal" text-anchor="end" fill="#555" >-3</text>
<line x1="100.20" y1="303.50" x2="101.40" y2="303.50" stroke="#999" stroke-width="0.4"/>
<text x="99.80" y="304.55" font-size="3.00" font-weight="normal" text-anchor="end" fill="#555" >-2</text>
<line x1="100.20" y1="311.50" x2="101.40" y2="311.50" stroke="#999" stroke-width="0.4"/>
<text x="99.80" y="312.55" font-size="3.00" font-weight="normal" text-anchor="end" fill="#555" >-1</text>
<line x1="100.20" y1="319.50" x2="101.40" y2="319.50" stroke="#999" stroke-width="0.4"/>
<line x1="100.20" y1="327.50" x2="101.40" y2="327.50" stroke="#999" stroke-width="0.4"/>
<text x="99.80" y="328.55" font-size="3.00" font-weight="normal" text-anchor="end" fill="#555" >1</text>
<line x1="100.20" y1="335.50" x2="101.40" y2="335.50" stroke="#999" stroke-width="0.4"/>
<text x="99.80" y="336.55" font-size="3.00" font-weight="normal" text-anchor="end" fill="#555" >2</text>
<line x1="100.20" y1="343.50" x2="101.40" y2="343.50" stroke="#999" stroke-width="0.4"/>
<text x="99.80" y="344.55" font-size="3.00" font-weight="normal" text-anchor="end" fill="#555" >3</text>
<line x1="100.20" y1="351.50" x2="101.40" y2="351.50" stroke="#999" stroke-width="0.4"/>
<text x="99.80" y="352.55" font-size="3.00" font-weight="normal" text-anchor="end" fill="#555" >4</text>
<line x1="100.20" y1="359.50" x2="101.40" y2="359.50" stroke="#999" stroke-width="0.4"/>
<text x="99.80" y="360.55" font-size="3.00" font-weight="normal" text-anchor="end" fill="#555" >5</text>
<line x1="100.20" y1="367.50" x2="101.40" y2="367.50" stroke="#999" stroke-width="0.4"/>
<text x="99.80" y="368.55" font-size="3.00" font-weight="normal" text-anchor="end" fill="#555" >6</text>
<line x1="80.32" y1="319.50" x2="80.32" y2="320.50" stroke="#999" stroke-width="0.4"/>
<text x="80.32" y="323.25" font-size="3.00" font-weight="normal" text-anchor="middle" fill="#555" >-400</text>
<line x1="90.86" y1="319.50" x2="90.86" y2="320.50" stroke="#999" stroke-width="0.4"/>
<text x="90.86" y="323.25" font-size="3.00" font-weight="normal" text-anchor="middle" fill="#555" >-200</text>
<line x1="122.48" y1="319.50" x2="122.48" y2="320.50" stroke="#999" stroke-width="0.4"/>
<text x="122.48" y="323.25" font-size="3.00" font-weight="normal" text-anchor="middle" fill="#555" >400</text>
<line x1="133.02" y1="319.50" x2="133.02" y2="320.50" stroke="#999" stroke-width="0.4"/>
<text x="133.02" y="323.25" font-size="3.00" font-weight="normal" text-anchor="middle" fill="#555" >600</text>
<line x1="143.56" y1="319.50" x2="143.56" y2="320.50" stroke="#999" stroke-width="0.4"/>
<text x="143.56" y="323.25" font-size="3.00" font-weight="normal" text-anchor="middle" fill="#555" >800</text>
<line x1="154.10" y1="319.50" x2="154.10" y2="320.50" stroke="#999" stroke-width="0.4"/>
<text x="154.10" y="323.25" font-size="3.00" font-weight="normal" text-anchor="middle" fill="#555" >1000</text>
<line x1="164.64" y1="319.50" x2="164.64" y2="320.50" stroke="#999" stroke-width="0.4"/>
<text x="164.64" y="323.25" font-size="3.00" font-weight="normal" text-anchor="middle" fill="#555" >1200</text>
<text x="98.40" y="271.10" font-size="3.80" font-weight="bold" text-anchor="middle" fill="#333" >µV</text>
<text x="175.90" y="323.80" font-size="3.00" font-weight="bold" text-anchor="middle" fill="#333" >ms</text>
<path d="M76.10,319.73 L77.30,319.80 L78.50,319.32 L79.70,320.13 L80.90,320.16 L82.10,319.92 L83.30,320.23 L84.50,320.31 L85.70,320.65 L86.90,320.20 L88.10,319.26 L89.30,319.79 L90.50,319.72 L91.70,319.90 L92.90,319.13 L94.10,319.35 L95.30,319.97 L96.50,320.47 L97.70,320.66 L98.90,320.67 L100.10,320.28 L101.30,320.80 L102.50,320.97 L103.70,321.04 L104.90,320.28 L105.00,319.50 L106.00,313.00 L107.50,303.00 L108.50,307.00 L109.50,320.00 L110.30,332.00 L111.20,339.50 L112.50,333.00 L114.00,322.00 L115.50,310.00 L117.00,302.00 L118.70,298.60 L120.50,301.50 L122.70,307.40 L125.50,309.50 L128.80,310.40 L131.00,313.50 L132.80,316.50 L135.00,314.50 L136.90,313.40 L139.50,315.00 L143.00,316.50 L147.00,318.20 L151.10,319.50 L160.00,320.00 L170.00,320.20 L177.40,320.20" fill="none" stroke="#1a1a1a" stroke-width="0.55" stroke-linejoin="round"/>
<path d="M76.10,319.29 L77.20,319.43 L78.30,320.15 L79.40,319.32 L80.50,318.86 L81.60,319.54 L82.70,319.40 L83.80,319.00 L84.90,318.90 L86.00,318.65 L87.10,318.11 L88.20,318.98 L89.30,320.11 L90.40,320.22 L91.50,320.14 L92.60,319.36 L93.70,319.16 L94.80,318.34 L95.90,319.34 L97.00,318.81 L98.10,318.51 L99.20,320.07 L100.30,319.32 L101.40,320.51 L102.50,320.26 L103.60,320.48 L104.70,320.27 L105.00,319.20 L106.00,312.00 L107.50,301.90 L108.50,306.00 L109.50,320.00 L110.30,333.00 L111.20,341.80 L112.50,336.00 L114.00,326.00 L115.50,318.00 L117.00,312.00 L118.50,309.00 L120.00,306.50 L121.70,305.30 L123.00,306.50 L124.70,308.40 L126.50,307.00 L128.80,306.40 L130.50,310.00 L132.80,313.40 L134.50,312.50 L135.90,312.00 L138.00,313.50 L139.50,314.47 L141.00,314.50 L143.00,313.50 L144.25,314.14 L145.50,315.50 L146.75,316.52 L148.00,316.50 L149.55,317.21 L151.10,318.50 L152.40,318.63 L153.70,319.27 L155.00,319.00 L156.40,319.01 L157.80,319.34 L159.20,319.50 L160.47,318.63 L161.73,319.01 L163.00,318.00 L164.50,318.13 L166.00,317.20 L167.65,316.99 L169.30,317.50 L170.65,317.59 L172.00,318.50 L173.50,317.97 L175.00,317.50 L176.20,317.77 L177.40,318.00" fill="none" stroke="#ee1c24" stroke-width="0.6" stroke-linejoin="round"/>
<text x="133.20" y="332.10" font-size="7.70" font-weight="bold" text-anchor="middle" fill="#111" >oddball</text>
<text x="167.60" y="332.10" font-size="7.70" font-weight="bold" text-anchor="middle" fill="#111" >standard</text>
<g clip-path="url(#hc7)"><circle cx="133.80" cy="349.70" r="15.50" fill="#fff"/><circle cx="133.80" cy="349.70" r="15.50" fill="url(#bg7)" mask="url(#mk7)" opacity="1.00"/><ellipse cx="133.80" cy="334.70" rx="6.5" ry="4.5" fill="#fff" opacity="0.55" filter="url(#bl2)"/><g filter="url(#bl)"><ellipse cx="133.50" cy="352.70" rx="9.86" ry="14.60" fill="#ffdada"/><ellipse cx="133.50" cy="352.20" rx="9.21" ry="13.60" fill="#ffa0a0"/><ellipse cx="133.50" cy="351.70" rx="8.46" ry="12.50" fill="#ff5a5a"/><ellipse cx="133.50" cy="351.20" rx="7.53" ry="11.40" fill="#ff1c1c"/><ellipse cx="133.50" cy="350.70" rx="6.32" ry="9.80" fill="#ec0000"/><ellipse cx="133.50" cy="350.10" rx="4.65" ry="7.40" fill="#c80000"/><ellipse cx="133.50" cy="349.40" rx="3.16" ry="5.00" fill="#a00000"/><ellipse cx="133.50" cy="349.10" rx="1.86" ry="3.00" fill="#7c0000"/></g><circle cx="133.80" cy="336.00" r="0.35" fill="#444" opacity="0.55"/><circle cx="133.80" cy="340.09" r="0.35" fill="#444" opacity="0.55"/><circle cx="133.80" cy="345.05" r="0.35" fill="#444" opacity="0.55"/><circle cx="140.65" cy="337.84" r="0.35" fill="#444" opacity="0.55"/><circle cx="138.61" cy="341.38" r="0.35" fill="#444" opacity="0.55"/><circle cx="136.12" cy="345.67" r="0.35" fill="#444" opacity="0.55"/><circle cx="145.66" cy="342.85" r="0.35" fill="#444" opacity="0.55"/><circle cx="142.12" cy="344.89" r="0.35" fill="#444" opacity="0.55"/><circle cx="137.83" cy="347.38" r="0.35" fill="#444" opacity="0.55"/><circle cx="147.50" cy="349.70" r="0.35" fill="#444" opacity="0.55"/><circle cx="143.41" cy="349.70" r="0.35" fill="#444" opacity="0.55"/><circle cx="138.45" cy="349.70" r="0.35" fill="#444" opacity="0.55"/><circle cx="145.66" cy="356.55" r="0.35" fill="#444" opacity="0.55"/><circle cx="142.12" cy="354.50" r="0.35" fill="#444" opacity="0.55"/><circle cx="137.83" cy="352.02" r="0.35" fill="#444" opacity="0.55"/><circle cx="140.65" cy="361.56" r="0.35" fill="#444" opacity="0.55"/><circle cx="138.61" cy="358.02" r="0.35" fill="#444" opacity="0.55"/><circle cx="136.12" cy="353.73" r="0.35" fill="#444" opacity="0.55"/><circle cx="133.80" cy="363.40" r="0.35" fill="#444" opacity="0.55"/><circle cx="133.80" cy="359.31" r="0.35" fill="#444" opacity="0.55"/><circle cx="133.80" cy="354.35" r="0.35" fill="#444" opacity="0.55"/><circle cx="126.95" cy="361.56" r="0.35" fill="#444" opacity="0.55"/><circle cx="129.00" cy="358.02" r="0.35" fill="#444" opacity="0.55"/><circle cx="131.48" cy="353.73" r="0.35" fill="#444" opacity="0.55"/><circle cx="121.94" cy="356.55" r="0.35" fill="#444" opacity="0.55"/><circle cx="125.48" cy="354.50" r="0.35" fill="#444" opacity="0.55"/><circle cx="129.77" cy="352.02" r="0.35" fill="#444" opacity="0.55"/><circle cx="120.10" cy="349.70" r="0.35" fill="#444" opacity="0.55"/><circle cx="124.19" cy="349.70" r="0.35" fill="#444" opacity="0.55"/><circle cx="129.15" cy="349.70" r="0.35" fill="#444" opacity="0.55"/><circle cx="121.94" cy="342.85" r="0.35" fill="#444" opacity="0.55"/><circle cx="125.48" cy="344.89" r="0.35" fill="#444" opacity="0.55"/><circle cx="129.77" cy="347.38" r="0.35" fill="#444" opacity="0.55"/><circle cx="126.95" cy="337.84" r="0.35" fill="#444" opacity="0.55"/><circle cx="129.00" cy="341.38" r="0.35" fill="#444" opacity="0.55"/><circle cx="131.48" cy="345.67" r="0.35" fill="#444" opacity="0.55"/></g>
<circle cx="133.80" cy="349.70" r="15.50" fill="none" stroke="#666" stroke-width="0.45"/>
<path d="M132.00,334.40 C132.40,331.20 135.20,331.20 135.60,334.40" fill="none" stroke="#777" stroke-width="0.4"/>
<g clip-path="url(#hc8)"><circle cx="167.70" cy="349.70" r="15.50" fill="#fff"/><circle cx="167.70" cy="349.70" r="15.50" fill="url(#bg8)" mask="url(#mk8)" opacity="1.00"/><ellipse cx="167.70" cy="334.70" rx="6.5" ry="4.5" fill="#fff" opacity="0.55" filter="url(#bl2)"/><g filter="url(#bl)"><ellipse cx="167.40" cy="352.70" rx="9.86" ry="14.60" fill="#ffdada"/><ellipse cx="167.40" cy="352.20" rx="9.21" ry="13.60" fill="#ffa0a0"/><ellipse cx="167.40" cy="351.70" rx="8.46" ry="12.50" fill="#ff5a5a"/><ellipse cx="167.40" cy="351.20" rx="7.53" ry="11.40" fill="#ff1c1c"/><ellipse cx="167.40" cy="350.70" rx="6.32" ry="9.80" fill="#ec0000"/><ellipse cx="167.40" cy="350.10" rx="4.65" ry="7.40" fill="#c80000"/><ellipse cx="167.40" cy="349.40" rx="3.16" ry="5.00" fill="#a00000"/><ellipse cx="167.40" cy="349.10" rx="1.86" ry="3.00" fill="#7c0000"/></g><circle cx="167.70" cy="336.00" r="0.35" fill="#444" opacity="0.55"/><circle cx="167.70" cy="340.09" r="0.35" fill="#444" opacity="0.55"/><circle cx="167.70" cy="345.05" r="0.35" fill="#444" opacity="0.55"/><circle cx="174.55" cy="337.84" r="0.35" fill="#444" opacity="0.55"/><circle cx="172.50" cy="341.38" r="0.35" fill="#444" opacity="0.55"/><circle cx="170.02" cy="345.67" r="0.35" fill="#444" opacity="0.55"/><circle cx="179.56" cy="342.85" r="0.35" fill="#444" opacity="0.55"/><circle cx="176.02" cy="344.89" r="0.35" fill="#444" opacity="0.55"/><circle cx="171.73" cy="347.38" r="0.35" fill="#444" opacity="0.55"/><circle cx="181.40" cy="349.70" r="0.35" fill="#444" opacity="0.55"/><circle cx="177.31" cy="349.70" r="0.35" fill="#444" opacity="0.55"/><circle cx="172.35" cy="349.70" r="0.35" fill="#444" opacity="0.55"/><circle cx="179.56" cy="356.55" r="0.35" fill="#444" opacity="0.55"/><circle cx="176.02" cy="354.50" r="0.35" fill="#444" opacity="0.55"/><circle cx="171.73" cy="352.02" r="0.35" fill="#444" opacity="0.55"/><circle cx="174.55" cy="361.56" r="0.35" fill="#444" opacity="0.55"/><circle cx="172.50" cy="358.02" r="0.35" fill="#444" opacity="0.55"/><circle cx="170.02" cy="353.73" r="0.35" fill="#444" opacity="0.55"/><circle cx="167.70" cy="363.40" r="0.35" fill="#444" opacity="0.55"/><circle cx="167.70" cy="359.31" r="0.35" fill="#444" opacity="0.55"/><circle cx="167.70" cy="354.35" r="0.35" fill="#444" opacity="0.55"/><circle cx="160.85" cy="361.56" r="0.35" fill="#444" opacity="0.55"/><circle cx="162.89" cy="358.02" r="0.35" fill="#444" opacity="0.55"/><circle cx="165.38" cy="353.73" r="0.35" fill="#444" opacity="0.55"/><circle cx="155.84" cy="356.55" r="0.35" fill="#444" opacity="0.55"/><circle cx="159.38" cy="354.50" r="0.35" fill="#444" opacity="0.55"/><circle cx="163.67" cy="352.02" r="0.35" fill="#444" opacity="0.55"/><circle cx="154.00" cy="349.70" r="0.35" fill="#444" opacity="0.55"/><circle cx="158.09" cy="349.70" r="0.35" fill="#444" opacity="0.55"/><circle cx="163.05" cy="349.70" r="0.35" fill="#444" opacity="0.55"/><circle cx="155.84" cy="342.85" r="0.35" fill="#444" opacity="0.55"/><circle cx="159.38" cy="344.89" r="0.35" fill="#444" opacity="0.55"/><circle cx="163.67" cy="347.38" r="0.35" fill="#444" opacity="0.55"/><circle cx="160.85" cy="337.84" r="0.35" fill="#444" opacity="0.55"/><circle cx="162.89" cy="341.38" r="0.35" fill="#444" opacity="0.55"/><circle cx="165.38" cy="345.67" r="0.35" fill="#444" opacity="0.55"/></g>
<circle cx="167.70" cy="349.70" r="15.50" fill="none" stroke="#666" stroke-width="0.45"/>
<path d="M165.90,334.40 C166.30,331.20 169.10,331.20 169.50,334.40" fill="none" stroke="#777" stroke-width="0.4"/>
<rect x="240.30" y="284.00" width="5.20" height="67.50" fill="#ebebeb"/>
<line x1="233.00" y1="268.50" x2="233.00" y2="369.00" stroke="#999" stroke-width="0.55"/>
<line x1="207.10" y1="318.90" x2="309.50" y2="318.90" stroke="#999" stroke-width="0.55"/>
<line x1="231.80" y1="278.90" x2="233.00" y2="278.90" stroke="#999" stroke-width="0.4"/>
<text x="231.40" y="279.95" font-size="3.00" font-weight="normal" text-anchor="end" fill="#555" >-5</text>
<line x1="231.80" y1="286.90" x2="233.00" y2="286.90" stroke="#999" stroke-width="0.4"/>
<text x="231.40" y="287.95" font-size="3.00" font-weight="normal" text-anchor="end" fill="#555" >-4</text>
<line x1="231.80" y1="294.90" x2="233.00" y2="294.90" stroke="#999" stroke-width="0.4"/>
<text x="231.40" y="295.95" font-size="3.00" font-weight="normal" text-anchor="end" fill="#555" >-3</text>
<line x1="231.80" y1="302.90" x2="233.00" y2="302.90" stroke="#999" stroke-width="0.4"/>
<text x="231.40" y="303.95" font-size="3.00" font-weight="normal" text-anchor="end" fill="#555" >-2</text>
<line x1="231.80" y1="310.90" x2="233.00" y2="310.90" stroke="#999" stroke-width="0.4"/>
<text x="231.40" y="311.95" font-size="3.00" font-weight="normal" text-anchor="end" fill="#555" >-1</text>
<line x1="231.80" y1="318.90" x2="233.00" y2="318.90" stroke="#999" stroke-width="0.4"/>
<line x1="231.80" y1="326.90" x2="233.00" y2="326.90" stroke="#999" stroke-width="0.4"/>
<text x="231.40" y="327.95" font-size="3.00" font-weight="normal" text-anchor="end" fill="#555" >1</text>
<line x1="231.80" y1="334.90" x2="233.00" y2="334.90" stroke="#999" stroke-width="0.4"/>
<text x="231.40" y="335.95" font-size="3.00" font-weight="normal" text-anchor="end" fill="#555" >2</text>
<line x1="231.80" y1="342.90" x2="233.00" y2="342.90" stroke="#999" stroke-width="0.4"/>
<text x="231.40" y="343.95" font-size="3.00" font-weight="normal" text-anchor="end" fill="#555" >3</text>
<line x1="231.80" y1="350.90" x2="233.00" y2="350.90" stroke="#999" stroke-width="0.4"/>
<text x="231.40" y="351.95" font-size="3.00" font-weight="normal" text-anchor="end" fill="#555" >4</text>
<line x1="231.80" y1="358.90" x2="233.00" y2="358.90" stroke="#999" stroke-width="0.4"/>
<text x="231.40" y="359.95" font-size="3.00" font-weight="normal" text-anchor="end" fill="#555" >5</text>
<line x1="231.80" y1="366.90" x2="233.00" y2="366.90" stroke="#999" stroke-width="0.4"/>
<text x="231.40" y="367.95" font-size="3.00" font-weight="normal" text-anchor="end" fill="#555" >6</text>
<line x1="211.92" y1="318.90" x2="211.92" y2="319.90" stroke="#999" stroke-width="0.4"/>
<text x="211.92" y="322.65" font-size="3.00" font-weight="normal" text-anchor="middle" fill="#555" >-400</text>
<line x1="222.46" y1="318.90" x2="222.46" y2="319.90" stroke="#999" stroke-width="0.4"/>
<text x="222.46" y="322.65" font-size="3.00" font-weight="normal" text-anchor="middle" fill="#555" >-200</text>
<line x1="254.08" y1="318.90" x2="254.08" y2="319.90" stroke="#999" stroke-width="0.4"/>
<text x="254.08" y="322.65" font-size="3.00" font-weight="normal" text-anchor="middle" fill="#555" >400</text>
<line x1="264.62" y1="318.90" x2="264.62" y2="319.90" stroke="#999" stroke-width="0.4"/>
<text x="264.62" y="322.65" font-size="3.00" font-weight="normal" text-anchor="middle" fill="#555" >600</text>
<line x1="275.16" y1="318.90" x2="275.16" y2="319.90" stroke="#999" stroke-width="0.4"/>
<text x="275.16" y="322.65" font-size="3.00" font-weight="normal" text-anchor="middle" fill="#555" >800</text>
<line x1="285.70" y1="318.90" x2="285.70" y2="319.90" stroke="#999" stroke-width="0.4"/>
<text x="285.70" y="322.65" font-size="3.00" font-weight="normal" text-anchor="middle" fill="#555" >1000</text>
<line x1="296.24" y1="318.90" x2="296.24" y2="319.90" stroke="#999" stroke-width="0.4"/>
<text x="296.24" y="322.65" font-size="3.00" font-weight="normal" text-anchor="middle" fill="#555" >1200</text>
<text x="230.00" y="271.10" font-size="3.80" font-weight="bold" text-anchor="middle" fill="#333" >µV</text>
<text x="308.00" y="323.20" font-size="3.00" font-weight="bold" text-anchor="middle" fill="#333" >ms</text>
<path d="M207.10,319.55 L208.30,319.45 L209.50,320.06 L210.70,319.02 L211.90,319.20 L213.10,319.82 L214.30,320.17 L215.50,319.17 L216.70,319.93 L217.90,319.27 L219.10,318.67 L220.30,318.29 L221.50,319.32 L222.70,319.80 L223.90,320.25 L225.10,320.27 L226.30,320.17 L227.50,319.88 L228.70,319.04 L229.90,318.43 L231.10,318.03 L232.30,318.61 L233.50,319.50 L234.70,319.03 L235.90,319.19 L236.80,318.90 L237.80,306.00 L239.10,296.00 L240.00,301.00 L241.00,318.00 L241.80,332.00 L242.60,343.20 L243.80,336.00 L245.20,322.00 L246.50,308.00 L247.80,299.00 L249.30,296.20 L250.80,300.00 L252.70,306.40 L254.50,308.50 L256.80,310.40 L260.00,312.00 L264.90,313.40 L268.00,314.50 L273.00,315.50 L277.00,316.50 L281.10,317.50 L287.00,318.50 L293.30,319.50 L301.40,320.10 L305.00,319.80 L309.50,319.00" fill="none" stroke="#1a1a1a" stroke-width="0.55" stroke-linejoin="round"/>
<path d="M207.10,318.26 L208.20,318.76 L209.30,317.50 L210.40,319.25 L211.50,319.81 L212.60,320.56 L213.70,319.13 L214.80,318.18 L215.90,317.30 L217.00,317.17 L218.10,316.67 L219.20,318.06 L220.30,318.01 L221.40,319.11 L222.50,319.58 L223.60,318.81 L224.70,317.93 L225.80,317.89 L226.90,317.08 L228.00,318.18 L229.10,317.64 L230.20,317.24 L231.30,318.87 L232.40,318.63 L233.50,319.78 L234.60,320.49 L235.70,320.10 L236.80,318.84 L236.80,318.60 L237.80,305.00 L239.10,294.60 L240.00,300.00 L241.00,318.00 L241.80,333.00 L242.60,340.00 L243.80,334.00 L245.20,322.00 L246.50,310.00 L247.80,300.00 L249.30,296.50 L251.00,298.50 L252.70,300.30 L254.07,300.83 L255.43,302.40 L256.80,303.30 L258.50,304.00 L260.80,305.30 L262.80,307.50 L264.90,309.40 L267.00,309.50 L268.45,310.49 L269.90,310.40 L271.50,311.50 L273.00,312.80 L274.33,312.53 L275.67,312.65 L277.00,312.50 L278.37,312.66 L279.73,313.36 L281.10,313.40 L282.40,314.47 L283.70,315.24 L285.00,316.00 L287.00,316.50 L289.20,318.50 L291.00,316.00 L293.30,314.00 L295.00,315.00 L297.30,315.50 L299.50,316.00 L301.40,316.50 L303.50,316.80 L305.40,316.00 L307.50,316.50 L309.50,316.00" fill="none" stroke="#ee1c24" stroke-width="0.6" stroke-linejoin="round"/>
<text x="263.40" y="332.80" font-size="7.70" font-weight="bold" text-anchor="middle" fill="#111" >oddball</text>
<text x="297.30" y="332.60" font-size="7.70" font-weight="bold" text-anchor="middle" fill="#111" >standard</text>
<g clip-path="url(#hc9)"><circle cx="264.00" cy="350.40" r="15.20" fill="#fff"/><circle cx="264.00" cy="350.40" r="15.20" fill="url(#bg9)" mask="url(#mk9)" opacity="1.00"/><g filter="url(#bl)"><ellipse cx="263.70" cy="356.00" rx="9.11" ry="12.80" fill="#ffdada"/><ellipse cx="263.70" cy="356.00" rx="8.37" ry="11.80" fill="#ffa8a8"/><ellipse cx="263.70" cy="355.80" rx="7.44" ry="10.80" fill="#ff7070"/><ellipse cx="263.70" cy="355.20" rx="6.14" ry="9.40" fill="#ff4040"/><ellipse cx="263.70" cy="354.40" rx="4.65" ry="7.60" fill="#ff1a1a"/><ellipse cx="263.70" cy="353.40" rx="2.98" ry="5.40" fill="#f00000"/></g><circle cx="264.00" cy="337.00" r="0.35" fill="#444" opacity="0.55"/><circle cx="264.00" cy="340.98" r="0.35" fill="#444" opacity="0.55"/><circle cx="264.00" cy="345.84" r="0.35" fill="#444" opacity="0.55"/><circle cx="270.70" cy="338.80" r="0.35" fill="#444" opacity="0.55"/><circle cx="268.71" cy="342.24" r="0.35" fill="#444" opacity="0.55"/><circle cx="266.28" cy="346.45" r="0.35" fill="#444" opacity="0.55"/><circle cx="275.60" cy="343.70" r="0.35" fill="#444" opacity="0.55"/><circle cx="272.16" cy="345.69" r="0.35" fill="#444" opacity="0.55"/><circle cx="267.95" cy="348.12" r="0.35" fill="#444" opacity="0.55"/><circle cx="277.40" cy="350.40" r="0.35" fill="#444" opacity="0.55"/><circle cx="273.42" cy="350.40" r="0.35" fill="#444" opacity="0.55"/><circle cx="268.56" cy="350.40" r="0.35" fill="#444" opacity="0.55"/><circle cx="275.60" cy="357.10" r="0.35" fill="#444" opacity="0.55"/><circle cx="272.16" cy="355.11" r="0.35" fill="#444" opacity="0.55"/><circle cx="267.95" cy="352.68" r="0.35" fill="#444" opacity="0.55"/><circle cx="270.70" cy="362.00" r="0.35" fill="#444" opacity="0.55"/><circle cx="268.71" cy="358.56" r="0.35" fill="#444" opacity="0.55"/><circle cx="266.28" cy="354.35" r="0.35" fill="#444" opacity="0.55"/><circle cx="264.00" cy="363.80" r="0.35" fill="#444" opacity="0.55"/><circle cx="264.00" cy="359.82" r="0.35" fill="#444" opacity="0.55"/><circle cx="264.00" cy="354.96" r="0.35" fill="#444" opacity="0.55"/><circle cx="257.30" cy="362.00" r="0.35" fill="#444" opacity="0.55"/><circle cx="259.29" cy="358.56" r="0.35" fill="#444" opacity="0.55"/><circle cx="261.72" cy="354.35" r="0.35" fill="#444" opacity="0.55"/><circle cx="252.40" cy="357.10" r="0.35" fill="#444" opacity="0.55"/><circle cx="255.84" cy="355.11" r="0.35" fill="#444" opacity="0.55"/><circle cx="260.05" cy="352.68" r="0.35" fill="#444" opacity="0.55"/><circle cx="250.60" cy="350.40" r="0.35" fill="#444" opacity="0.55"/><circle cx="254.58" cy="350.40" r="0.35" fill="#444" opacity="0.55"/><circle cx="259.44" cy="350.40" r="0.35" fill="#444" opacity="0.55"/><circle cx="252.40" cy="343.70" r="0.35" fill="#444" opacity="0.55"/><circle cx="255.84" cy="345.69" r="0.35" fill="#444" opacity="0.55"/><circle cx="260.05" cy="348.12" r="0.35" fill="#444" opacity="0.55"/><circle cx="257.30" cy="338.80" r="0.35" fill="#444" opacity="0.55"/><circle cx="259.29" cy="342.24" r="0.35" fill="#444" opacity="0.55"/><circle cx="261.72" cy="346.45" r="0.35" fill="#444" opacity="0.55"/></g>
<circle cx="264.00" cy="350.40" r="15.20" fill="none" stroke="#666" stroke-width="0.45"/>
<path d="M262.20,335.40 C262.60,332.20 265.40,332.20 265.80,335.40" fill="none" stroke="#777" stroke-width="0.4"/>
<g clip-path="url(#hc10)"><circle cx="297.40" cy="350.20" r="15.60" fill="#fff"/><circle cx="297.40" cy="350.20" r="15.60" fill="url(#bg10)" mask="url(#mk10)" opacity="1.00"/><ellipse cx="297.40" cy="335.10" rx="6.5" ry="4.5" fill="#fff" opacity="0.55" filter="url(#bl2)"/><g filter="url(#bl)"><ellipse cx="297.10" cy="353.20" rx="10.04" ry="14.60" fill="#ffdada"/><ellipse cx="297.10" cy="352.70" rx="9.39" ry="13.60" fill="#ffa0a0"/><ellipse cx="297.10" cy="352.20" rx="8.65" ry="12.50" fill="#ff5a5a"/><ellipse cx="297.10" cy="351.70" rx="7.72" ry="11.40" fill="#ff1c1c"/><ellipse cx="297.10" cy="351.20" rx="6.70" ry="10.00" fill="#e80000"/><ellipse cx="297.10" cy="350.80" rx="5.21" ry="8.00" fill="#c80000"/><ellipse cx="297.10" cy="350.20" rx="3.35" ry="5.00" fill="#a00000"/><ellipse cx="297.10" cy="349.90" rx="1.67" ry="2.60" fill="#820000"/></g><circle cx="297.40" cy="336.40" r="0.35" fill="#444" opacity="0.55"/><circle cx="297.40" cy="340.53" r="0.35" fill="#444" opacity="0.55"/><circle cx="297.40" cy="345.52" r="0.35" fill="#444" opacity="0.55"/><circle cx="304.30" cy="338.25" r="0.35" fill="#444" opacity="0.55"/><circle cx="302.24" cy="341.82" r="0.35" fill="#444" opacity="0.55"/><circle cx="299.74" cy="346.15" r="0.35" fill="#444" opacity="0.55"/><circle cx="309.35" cy="343.30" r="0.35" fill="#444" opacity="0.55"/><circle cx="305.78" cy="345.36" r="0.35" fill="#444" opacity="0.55"/><circle cx="301.45" cy="347.86" r="0.35" fill="#444" opacity="0.55"/><circle cx="311.20" cy="350.20" r="0.35" fill="#444" opacity="0.55"/><circle cx="307.07" cy="350.20" r="0.35" fill="#444" opacity="0.55"/><circle cx="302.08" cy="350.20" r="0.35" fill="#444" opacity="0.55"/><circle cx="309.35" cy="357.10" r="0.35" fill="#444" opacity="0.55"/><circle cx="305.78" cy="355.04" r="0.35" fill="#444" opacity="0.55"/><circle cx="301.45" cy="352.54" r="0.35" fill="#444" opacity="0.55"/><circle cx="304.30" cy="362.15" r="0.35" fill="#444" opacity="0.55"/><circle cx="302.24" cy="358.58" r="0.35" fill="#444" opacity="0.55"/><circle cx="299.74" cy="354.25" r="0.35" fill="#444" opacity="0.55"/><circle cx="297.40" cy="364.00" r="0.35" fill="#444" opacity="0.55"/><circle cx="297.40" cy="359.87" r="0.35" fill="#444" opacity="0.55"/><circle cx="297.40" cy="354.88" r="0.35" fill="#444" opacity="0.55"/><circle cx="290.50" cy="362.15" r="0.35" fill="#444" opacity="0.55"/><circle cx="292.56" cy="358.58" r="0.35" fill="#444" opacity="0.55"/><circle cx="295.06" cy="354.25" r="0.35" fill="#444" opacity="0.55"/><circle cx="285.45" cy="357.10" r="0.35" fill="#444" opacity="0.55"/><circle cx="289.02" cy="355.04" r="0.35" fill="#444" opacity="0.55"/><circle cx="293.35" cy="352.54" r="0.35" fill="#444" opacity="0.55"/><circle cx="283.60" cy="350.20" r="0.35" fill="#444" opacity="0.55"/><circle cx="287.73" cy="350.20" r="0.35" fill="#444" opacity="0.55"/><circle cx="292.72" cy="350.20" r="0.35" fill="#444" opacity="0.55"/><circle cx="285.45" cy="343.30" r="0.35" fill="#444" opacity="0.55"/><circle cx="289.02" cy="345.36" r="0.35" fill="#444" opacity="0.55"/><circle cx="293.35" cy="347.86" r="0.35" fill="#444" opacity="0.55"/><circle cx="290.50" cy="338.25" r="0.35" fill="#444" opacity="0.55"/><circle cx="292.56" cy="341.82" r="0.35" fill="#444" opacity="0.55"/><circle cx="295.06" cy="346.15" r="0.35" fill="#444" opacity="0.55"/></g>
<circle cx="297.40" cy="350.20" r="15.60" fill="none" stroke="#666" stroke-width="0.45"/>
<path d="M295.60,334.80 C296.00,331.60 298.80,331.60 299.20,334.80" fill="none" stroke="#777" stroke-width="0.4"/>
<rect x="366.60" y="285.10" width="5.40" height="66.90" fill="#ebebeb"/>
<line x1="359.00" y1="268.50" x2="359.00" y2="369.00" stroke="#999" stroke-width="0.55"/>
<line x1="333.10" y1="318.90" x2="435.50" y2="318.90" stroke="#999" stroke-width="0.55"/>
<line x1="357.80" y1="278.90" x2="359.00" y2="278.90" stroke="#999" stroke-width="0.4"/>
<text x="357.40" y="279.95" font-size="3.00" font-weight="normal" text-anchor="end" fill="#555" >-5</text>
<line x1="357.80" y1="286.90" x2="359.00" y2="286.90" stroke="#999" stroke-width="0.4"/>
<text x="357.40" y="287.95" font-size="3.00" font-weight="normal" text-anchor="end" fill="#555" >-4</text>
<line x1="357.80" y1="294.90" x2="359.00" y2="294.90" stroke="#999" stroke-width="0.4"/>
<text x="357.40" y="295.95" font-size="3.00" font-weight="normal" text-anchor="end" fill="#555" >-3</text>
<line x1="357.80" y1="302.90" x2="359.00" y2="302.90" stroke="#999" stroke-width="0.4"/>
<text x="357.40" y="303.95" font-size="3.00" font-weight="normal" text-anchor="end" fill="#555" >-2</text>
<line x1="357.80" y1="310.90" x2="359.00" y2="310.90" stroke="#999" stroke-width="0.4"/>
<text x="357.40" y="311.95" font-size="3.00" font-weight="normal" text-anchor="end" fill="#555" >-1</text>
<line x1="357.80" y1="318.90" x2="359.00" y2="318.90" stroke="#999" stroke-width="0.4"/>
<line x1="357.80" y1="326.90" x2="359.00" y2="326.90" stroke="#999" stroke-width="0.4"/>
<text x="357.40" y="327.95" font-size="3.00" font-weight="normal" text-anchor="end" fill="#555" >1</text>
<line x1="357.80" y1="334.90" x2="359.00" y2="334.90" stroke="#999" stroke-width="0.4"/>
<text x="357.40" y="335.95" font-size="3.00" font-weight="normal" text-anchor="end" fill="#555" >2</text>
<line x1="357.80" y1="342.90" x2="359.00" y2="342.90" stroke="#999" stroke-width="0.4"/>
<text x="357.40" y="343.95" font-size="3.00" font-weight="normal" text-anchor="end" fill="#555" >3</text>
<line x1="357.80" y1="350.90" x2="359.00" y2="350.90" stroke="#999" stroke-width="0.4"/>
<text x="357.40" y="351.95" font-size="3.00" font-weight="normal" text-anchor="end" fill="#555" >4</text>
<line x1="357.80" y1="358.90" x2="359.00" y2="358.90" stroke="#999" stroke-width="0.4"/>
<text x="357.40" y="359.95" font-size="3.00" font-weight="normal" text-anchor="end" fill="#555" >5</text>
<line x1="357.80" y1="366.90" x2="359.00" y2="366.90" stroke="#999" stroke-width="0.4"/>
<text x="357.40" y="367.95" font-size="3.00" font-weight="normal" text-anchor="end" fill="#555" >6</text>
<line x1="337.92" y1="318.90" x2="337.92" y2="319.90" stroke="#999" stroke-width="0.4"/>
<text x="337.92" y="322.65" font-size="3.00" font-weight="normal" text-anchor="middle" fill="#555" >-400</text>
<line x1="348.46" y1="318.90" x2="348.46" y2="319.90" stroke="#999" stroke-width="0.4"/>
<text x="348.46" y="322.65" font-size="3.00" font-weight="normal" text-anchor="middle" fill="#555" >-200</text>
<line x1="380.08" y1="318.90" x2="380.08" y2="319.90" stroke="#999" stroke-width="0.4"/>
<text x="380.08" y="322.65" font-size="3.00" font-weight="normal" text-anchor="middle" fill="#555" >400</text>
<line x1="390.62" y1="318.90" x2="390.62" y2="319.90" stroke="#999" stroke-width="0.4"/>
<text x="390.62" y="322.65" font-size="3.00" font-weight="normal" text-anchor="middle" fill="#555" >600</text>
<line x1="401.16" y1="318.90" x2="401.16" y2="319.90" stroke="#999" stroke-width="0.4"/>
<text x="401.16" y="322.65" font-size="3.00" font-weight="normal" text-anchor="middle" fill="#555" >800</text>
<line x1="411.70" y1="318.90" x2="411.70" y2="319.90" stroke="#999" stroke-width="0.4"/>
<text x="411.70" y="322.65" font-size="3.00" font-weight="normal" text-anchor="middle" fill="#555" >1000</text>
<line x1="422.24" y1="318.90" x2="422.24" y2="319.90" stroke="#999" stroke-width="0.4"/>
<text x="422.24" y="322.65" font-size="3.00" font-weight="normal" text-anchor="middle" fill="#555" >1200</text>
<text x="356.00" y="271.10" font-size="3.80" font-weight="bold" text-anchor="middle" fill="#333" >µV</text>
<text x="434.00" y="323.20" font-size="3.00" font-weight="bold" text-anchor="middle" fill="#333" >ms</text>
<path d="M333.10,319.23 L334.30,318.54 L335.50,318.53 L336.70,318.53 L337.90,318.29 L339.10,318.35 L340.30,318.42 L341.50,318.65 L342.70,319.25 L343.90,318.78 L345.10,318.48 L346.30,318.00 L347.50,319.21 L348.70,319.60 L349.90,319.16 L351.10,318.78 L352.30,319.60 L353.50,319.20 L354.70,318.98 L355.90,319.24 L357.10,318.82 L358.30,318.46 L359.50,318.01 L360.70,319.07 L361.90,319.47 L363.10,319.68 L363.20,318.90 L364.30,307.00 L365.50,298.00 L366.50,303.00 L367.30,318.00 L368.00,330.00 L368.60,337.00 L369.80,330.00 L371.00,320.00 L372.30,308.00 L373.80,300.00 L376.10,297.20 L377.80,300.00 L379.30,306.40 L381.50,310.00 L383.80,312.40 L386.50,314.50 L389.90,316.50 L392.50,316.80 L394.90,317.10 L398.00,318.50 L405.00,319.00 L420.00,319.20 L435.50,319.20" fill="none" stroke="#1a1a1a" stroke-width="0.55" stroke-linejoin="round"/>
<path d="M333.10,318.71 L334.20,318.59 L335.30,318.79 L336.40,318.46 L337.50,319.40 L338.60,318.24 L339.70,318.32 L340.80,319.15 L341.90,319.21 L343.00,320.00 L344.10,318.88 L345.20,318.45 L346.30,318.07 L347.40,317.44 L348.50,316.94 L349.60,317.77 L350.70,317.68 L351.80,318.34 L352.90,319.65 L354.00,320.46 L355.10,320.37 L356.20,319.19 L357.30,318.68 L358.40,319.69 L359.50,318.58 L360.60,319.44 L361.70,318.47 L362.80,318.44 L363.20,318.60 L364.30,306.00 L365.50,296.20 L366.50,302.00 L367.30,318.00 L368.00,330.00 L368.60,337.80 L369.80,332.00 L371.00,322.00 L372.30,312.00 L373.50,305.00 L375.00,300.00 L376.10,299.00 L377.50,300.50 L378.70,302.30 L380.25,303.76 L381.80,306.00 L383.80,306.50 L385.80,306.40 L387.80,309.00 L389.90,311.40 L391.20,310.94 L392.50,310.50 L394.90,310.00 L396.50,311.50 L398.00,312.80 L399.33,313.01 L400.67,313.72 L402.00,313.40 L403.37,314.44 L404.73,315.12 L406.10,315.50 L407.55,316.45 L409.00,317.00 L410.60,317.37 L412.20,318.50 L413.65,319.00 L415.10,318.53 L416.55,318.74 L418.00,318.70 L419.33,318.03 L420.67,318.02 L422.00,318.00 L423.47,318.54 L424.93,317.92 L426.40,318.50 L427.60,318.21 L428.80,318.64 L430.00,319.00 L431.38,318.71 L432.75,318.74 L434.12,318.61 L435.50,318.50" fill="none" stroke="#ee1c24" stroke-width="0.6" stroke-linejoin="round"/>
<text x="389.30" y="332.70" font-size="7.70" font-weight="bold" text-anchor="middle" fill="#111" >oddball</text>
<text x="422.20" y="332.70" font-size="7.70" font-weight="bold" text-anchor="middle" fill="#111" >standard</text>
<g clip-path="url(#hc11)"><circle cx="389.90" cy="350.30" r="15.00" fill="#fff"/><circle cx="389.90" cy="350.30" r="15.00" fill="url(#bg11)" mask="url(#mk11)" opacity="0.72"/><g filter="url(#bl)"><ellipse cx="389.60" cy="355.30" rx="10.04" ry="12.80" fill="#ffdada"/><ellipse cx="389.60" cy="355.30" rx="9.30" ry="11.80" fill="#ffa8a8"/><ellipse cx="389.60" cy="354.80" rx="8.18" ry="10.60" fill="#ff7070"/><ellipse cx="389.60" cy="353.80" rx="6.70" ry="9.30" fill="#ff4040"/><ellipse cx="389.60" cy="352.80" rx="5.12" ry="7.50" fill="#ff1a1a"/><ellipse cx="389.60" cy="351.50" rx="3.53" ry="5.00" fill="#f00000"/></g><circle cx="389.90" cy="337.10" r="0.35" fill="#444" opacity="0.55"/><circle cx="389.90" cy="341.00" r="0.35" fill="#444" opacity="0.55"/><circle cx="389.90" cy="345.80" r="0.35" fill="#444" opacity="0.55"/><circle cx="396.50" cy="338.87" r="0.35" fill="#444" opacity="0.55"/><circle cx="394.55" cy="342.25" r="0.35" fill="#444" opacity="0.55"/><circle cx="392.15" cy="346.40" r="0.35" fill="#444" opacity="0.55"/><circle cx="401.33" cy="343.70" r="0.35" fill="#444" opacity="0.55"/><circle cx="397.95" cy="345.65" r="0.35" fill="#444" opacity="0.55"/><circle cx="393.80" cy="348.05" r="0.35" fill="#444" opacity="0.55"/><circle cx="403.10" cy="350.30" r="0.35" fill="#444" opacity="0.55"/><circle cx="399.20" cy="350.30" r="0.35" fill="#444" opacity="0.55"/><circle cx="394.40" cy="350.30" r="0.35" fill="#444" opacity="0.55"/><circle cx="401.33" cy="356.90" r="0.35" fill="#444" opacity="0.55"/><circle cx="397.95" cy="354.95" r="0.35" fill="#444" opacity="0.55"/><circle cx="393.80" cy="352.55" r="0.35" fill="#444" opacity="0.55"/><circle cx="396.50" cy="361.73" r="0.35" fill="#444" opacity="0.55"/><circle cx="394.55" cy="358.35" r="0.35" fill="#444" opacity="0.55"/><circle cx="392.15" cy="354.20" r="0.35" fill="#444" opacity="0.55"/><circle cx="389.90" cy="363.50" r="0.35" fill="#444" opacity="0.55"/><circle cx="389.90" cy="359.60" r="0.35" fill="#444" opacity="0.55"/><circle cx="389.90" cy="354.80" r="0.35" fill="#444" opacity="0.55"/><circle cx="383.30" cy="361.73" r="0.35" fill="#444" opacity="0.55"/><circle cx="385.25" cy="358.35" r="0.35" fill="#444" opacity="0.55"/><circle cx="387.65" cy="354.20" r="0.35" fill="#444" opacity="0.55"/><circle cx="378.47" cy="356.90" r="0.35" fill="#444" opacity="0.55"/><circle cx="381.85" cy="354.95" r="0.35" fill="#444" opacity="0.55"/><circle cx="386.00" cy="352.55" r="0.35" fill="#444" opacity="0.55"/><circle cx="376.70" cy="350.30" r="0.35" fill="#444" opacity="0.55"/><circle cx="380.60" cy="350.30" r="0.35" fill="#444" opacity="0.55"/><circle cx="385.40" cy="350.30" r="0.35" fill="#444" opacity="0.55"/><circle cx="378.47" cy="343.70" r="0.35" fill="#444" opacity="0.55"/><circle cx="381.85" cy="345.65" r="0.35" fill="#444" opacity="0.55"/><circle cx="386.00" cy="348.05" r="0.35" fill="#444" opacity="0.55"/><circle cx="383.30" cy="338.87" r="0.35" fill="#444" opacity="0.55"/><circle cx="385.25" cy="342.25" r="0.35" fill="#444" opacity="0.55"/><circle cx="387.65" cy="346.40" r="0.35" fill="#444" opacity="0.55"/></g>
<circle cx="389.90" cy="350.30" r="15.00" fill="none" stroke="#666" stroke-width="0.45"/>
<path d="M388.10,335.50 C388.50,332.30 391.30,332.30 391.70,335.50" fill="none" stroke="#777" stroke-width="0.4"/>
<g clip-path="url(#hc12)"><circle cx="422.30" cy="350.30" r="15.00" fill="#fff"/><circle cx="422.30" cy="350.30" r="15.00" fill="url(#bg12)" mask="url(#mk12)" opacity="0.60"/><ellipse cx="422.30" cy="335.80" rx="6.5" ry="4.5" fill="#fff" opacity="0.55" filter="url(#bl2)"/><g filter="url(#bl)"><ellipse cx="422.00" cy="354.80" rx="10.04" ry="13.20" fill="#ffe0e0"/><ellipse cx="422.00" cy="354.30" rx="9.11" ry="12.20" fill="#ffc0c0"/><ellipse cx="422.00" cy="353.80" rx="8.00" ry="11.00" fill="#ff9494"/><ellipse cx="422.00" cy="353.30" rx="6.32" ry="9.20" fill="#ff6464"/><ellipse cx="422.00" cy="352.80" rx="4.19" ry="6.50" fill="#ff3c3c"/><ellipse cx="422.00" cy="352.10" rx="2.05" ry="2.80" fill="#f00000"/></g><circle cx="422.30" cy="337.10" r="0.35" fill="#444" opacity="0.55"/><circle cx="422.30" cy="341.00" r="0.35" fill="#444" opacity="0.55"/><circle cx="422.30" cy="345.80" r="0.35" fill="#444" opacity="0.55"/><circle cx="428.90" cy="338.87" r="0.35" fill="#444" opacity="0.55"/><circle cx="426.95" cy="342.25" r="0.35" fill="#444" opacity="0.55"/><circle cx="424.55" cy="346.40" r="0.35" fill="#444" opacity="0.55"/><circle cx="433.73" cy="343.70" r="0.35" fill="#444" opacity="0.55"/><circle cx="430.35" cy="345.65" r="0.35" fill="#444" opacity="0.55"/><circle cx="426.20" cy="348.05" r="0.35" fill="#444" opacity="0.55"/><circle cx="435.50" cy="350.30" r="0.35" fill="#444" opacity="0.55"/><circle cx="431.60" cy="350.30" r="0.35" fill="#444" opacity="0.55"/><circle cx="426.80" cy="350.30" r="0.35" fill="#444" opacity="0.55"/><circle cx="433.73" cy="356.90" r="0.35" fill="#444" opacity="0.55"/><circle cx="430.35" cy="354.95" r="0.35" fill="#444" opacity="0.55"/><circle cx="426.20" cy="352.55" r="0.35" fill="#444" opacity="0.55"/><circle cx="428.90" cy="361.73" r="0.35" fill="#444" opacity="0.55"/><circle cx="426.95" cy="358.35" r="0.35" fill="#444" opacity="0.55"/><circle cx="424.55" cy="354.20" r="0.35" fill="#444" opacity="0.55"/><circle cx="422.30" cy="363.50" r="0.35" fill="#444" opacity="0.55"/><circle cx="422.30" cy="359.60" r="0.35" fill="#444" opacity="0.55"/><circle cx="422.30" cy="354.80" r="0.35" fill="#444" opacity="0.55"/><circle cx="415.70" cy="361.73" r="0.35" fill="#444" opacity="0.55"/><circle cx="417.65" cy="358.35" r="0.35" fill="#444" opacity="0.55"/><circle cx="420.05" cy="354.20" r="0.35" fill="#444" opacity="0.55"/><circle cx="410.87" cy="356.90" r="0.35" fill="#444" opacity="0.55"/><circle cx="414.25" cy="354.95" r="0.35" fill="#444" opacity="0.55"/><circle cx="418.40" cy="352.55" r="0.35" fill="#444" opacity="0.55"/><circle cx="409.10" cy="350.30" r="0.35" fill="#444" opacity="0.55"/><circle cx="413.00" cy="350.30" r="0.35" fill="#444" opacity="0.55"/><circle cx="417.80" cy="350.30" r="0.35" fill="#444" opacity="0.55"/><circle cx="410.87" cy="343.70" r="0.35" fill="#444" opacity="0.55"/><circle cx="414.25" cy="345.65" r="0.35" fill="#444" opacity="0.55"/><circle cx="418.40" cy="348.05" r="0.35" fill="#444" opacity="0.55"/><circle cx="415.70" cy="338.87" r="0.35" fill="#444" opacity="0.55"/><circle cx="417.65" cy="342.25" r="0.35" fill="#444" opacity="0.55"/><circle cx="420.05" cy="346.40" r="0.35" fill="#444" opacity="0.55"/></g>
<circle cx="422.30" cy="350.30" r="15.00" fill="none" stroke="#666" stroke-width="0.45"/>
<path d="M420.50,335.50 C420.90,332.30 423.70,332.30 424.10,335.50" fill="none" stroke="#777" stroke-width="0.4"/>
<text x="495.80" y="259.00" font-size="10.90" font-weight="bold" text-anchor="middle" fill="#111" >150 ms - 250 ms</text>
<rect x="461.4" y="270.3" width="70" height="2.4" fill="url(#cb2)"/>
<line x1="461.4" y1="272.7" x2="531.4" y2="272.7" stroke="#666" stroke-width="0.35"/>
<text x="461.20" y="279.30" font-size="7.00" font-weight="normal" text-anchor="middle" fill="#222" >-3 µV</text>
<text x="496.40" y="279.30" font-size="7.00" font-weight="normal" text-anchor="middle" fill="#222" >0 µV</text>
<text x="531.20" y="279.30" font-size="7.00" font-weight="normal" text-anchor="middle" fill="#222" >3 µV</text>
</svg>
</body></html>
